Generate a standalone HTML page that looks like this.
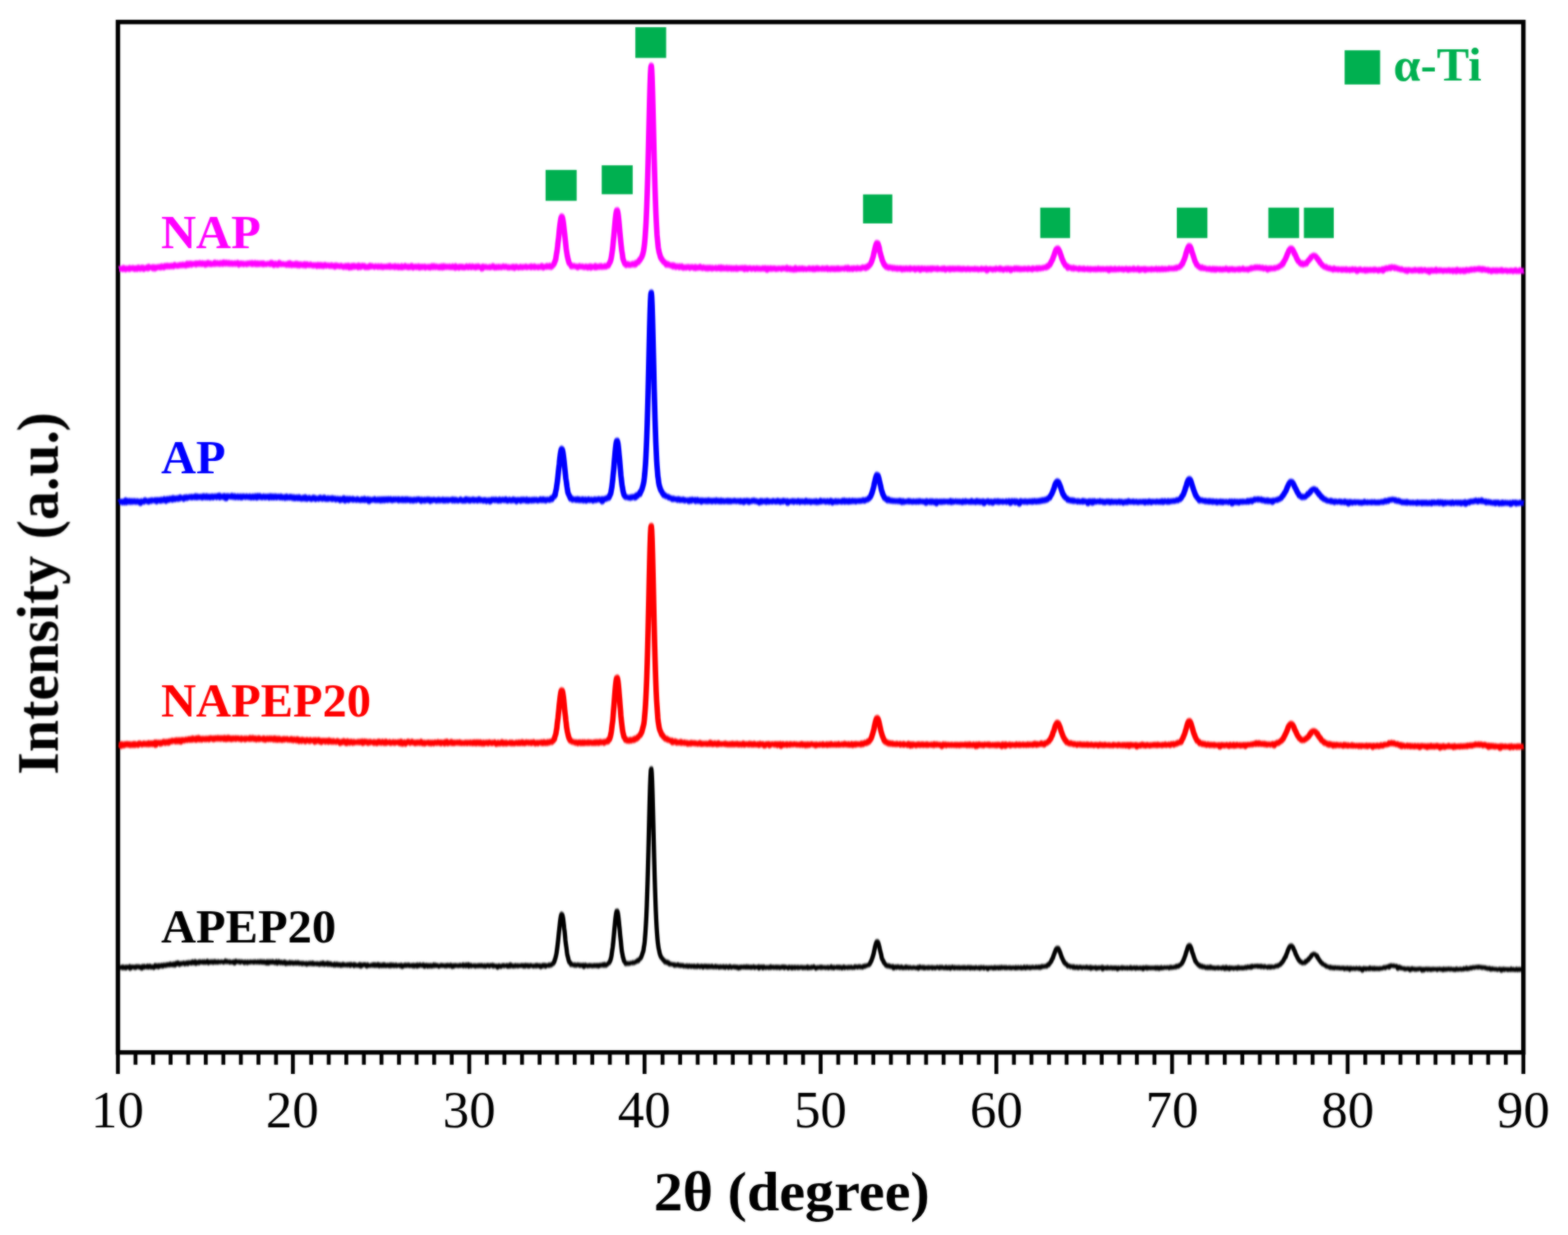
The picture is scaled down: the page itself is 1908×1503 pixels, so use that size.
<!DOCTYPE html>
<html lang="en"><head><meta charset="utf-8"><title>XRD patterns</title>
<style>html,body{margin:0;padding:0;background:#fff;overflow:hidden}svg{display:block;font-family:"Liberation Serif","DejaVu Serif",serif}.b{font-weight:bold}</style></head><body>
<svg width="1908" height="1503" viewBox="0 0 1908 1503">
<defs><filter id="soft" x="0" y="0" width="1908" height="1503" filterUnits="userSpaceOnUse" color-interpolation-filters="sRGB"><feGaussianBlur stdDeviation="0.8" result="b"/><feComposite in="b" in2="SourceGraphic" operator="arithmetic" k1="0" k2="0.6" k3="0.4" k4="0"/></filter><filter id="vb" x="0" y="0" width="1908" height="1503" filterUnits="userSpaceOnUse" color-interpolation-filters="sRGB"><feGaussianBlur stdDeviation="0 0.9"/></filter></defs>
<rect x="0" y="0" width="1908" height="1503" fill="#ffffff"/>
<g filter="url(#soft)">
<rect x="143.5" y="26.8" width="1710.2" height="1254.0" fill="none" stroke="#000" stroke-width="5.4"/>
<g filter="url(#vb)" fill="none" stroke-width="6.7" stroke-linejoin="round">
<path d="M145.0 327.4L145.5 327.4L146 327.0L146.5 327.2L147 327.2L147.5 327.2L148 327.1L148.5 327.1L149 327.3L149.5 327.7L150 325.8L150.5 326.7L151 326.9L151.5 327.1L152 326.6L152.5 327.0L153 327.9L153.5 327.1L154 326.7L154.5 326.7L155 327.3L155.5 327.2L156 327.4L156.5 326.6L157 326.6L157.5 327.5L158 325.9L158.5 326.8L159 326.5L159.5 326.9L160 326.5L160.5 326.3L161 326.8L161.5 326.0L162 326.8L162.5 326.7L163 326.2L163.5 326.3L164 327.6L164.5 326.5L165 326.7L165.5 327.2L166 326.2L166.5 326.7L167 327.5L167.5 326.6L168 326.5L168.5 325.5L169 326.3L169.5 326.6L170 326.7L170.5 327.1L171 326.1L171.5 327.0L172 326.3L172.5 326.4L173 325.5L173.5 325.8L174 326.5L174.5 325.9L175 327.5L175.5 326.3L176 326.8L176.5 326.7L177 326.5L177.5 326.7L178 326.0L178.5 325.5L179 326.6L179.5 326.1L180 326.9L180.5 326.7L181 324.4L181.5 325.2L182 325.8L182.5 325.5L183 325.4L183.5 325.6L184 325.3L184.5 325.6L185 325.2L185.5 325.4L186 325.1L186.5 326.9L187 325.8L187.5 325.1L188 326.6L188.5 327.0L189 326.1L189.5 325.2L190 326.2L190.5 325.2L191 325.1L191.5 325.6L192 325.4L192.5 325.5L193 324.8L193.5 325.2L194 325.5L194.5 325.2L195 325.2L195.5 324.6L196 325.7L196.5 323.9L197 324.7L197.5 324.3L198 324.8L198.5 324.5L199 324.9L199.5 325.5L200 324.3L200.5 324.9L201 323.4L201.5 323.6L202 323.5L202.5 324.2L203 324.5L203.5 323.2L204 324.2L204.5 323.5L205 324.3L205.5 324.1L206 324.4L206.5 323.5L207 323.8L207.5 323.6L208 324.3L208.5 324.3L209 323.3L209.5 323.6L210 323.4L210.5 323.1L211 324.4L211.5 323.0L212 322.9L212.5 322.4L213 323.5L213.5 323.0L214 322.9L214.5 323.2L215 323.2L215.5 322.9L216 323.6L216.5 322.8L217 322.8L217.5 323.5L218 323.2L218.5 323.0L219 322.3L219.5 322.1L220 322.5L220.5 323.1L221 323.0L221.5 322.3L222 321.9L222.5 322.0L223 323.0L223.5 322.7L224 322.1L224.5 322.0L225 322.5L225.5 322.0L226 323.3L226.5 322.7L227 323.0L227.5 321.9L228 320.8L228.5 321.8L229 322.6L229.5 322.7L230 322.1L230.5 320.6L231 321.5L231.5 321.3L232 321.4L232.5 320.7L233 322.4L233.5 321.2L234 321.7L234.5 320.9L235 321.3L235.5 321.4L236 321.0L236.5 321.1L237 321.4L237.5 321.4L238 320.5L238.5 322.1L239 320.3L239.5 321.0L240 321.0L240.5 320.6L241 321.1L241.5 321.5L242 321.4L242.5 320.2L243 319.9L243.5 320.9L244 321.3L244.5 320.7L245 320.4L245.5 321.5L246 321.6L246.5 320.1L247 321.1L247.5 321.3L248 320.9L248.5 320.7L249 320.5L249.5 321.4L250 322.3L250.5 321.3L251 320.8L251.5 322.0L252 321.0L252.5 319.9L253 319.7L253.5 321.2L254 321.0L254.5 320.3L255 321.6L255.5 321.6L256 320.4L256.5 320.5L257 320.5L257.5 321.7L258 321.5L258.5 320.9L259 320.9L259.5 321.2L260 320.4L260.5 320.5L261 321.3L261.5 319.4L262 321.3L262.5 320.0L263 320.7L263.5 321.0L264 320.7L264.5 320.1L265 321.0L265.5 320.7L266 320.5L266.5 321.3L267 321.3L267.5 320.7L268 320.0L268.5 321.2L269 320.4L269.5 320.2L270 319.8L270.5 320.1L271 321.3L271.5 320.7L272 320.7L272.5 319.2L273 320.3L273.5 320.5L274 320.2L274.5 321.0L275 320.6L275.5 319.6L276 320.7L276.5 320.0L277 320.1L277.5 321.1L278 320.9L278.5 319.8L279 320.4L279.5 320.4L280 321.2L280.5 320.3L281 320.7L281.5 320.8L282 320.3L282.5 321.5L283 321.5L283.5 320.5L284 320.5L284.5 320.6L285 320.8L285.5 321.0L286 320.4L286.5 321.2L287 320.3L287.5 320.1L288 320.5L288.5 320.6L289 321.1L289.5 319.8L290 321.6L290.5 322.2L291 320.5L291.5 320.5L292 320.9L292.5 320.5L293 321.4L293.5 320.7L294 320.5L294.5 320.6L295 321.4L295.5 321.5L296 320.9L296.5 321.7L297 321.3L297.5 321.2L298 320.9L298.5 321.0L299 320.9L299.5 321.0L300 321.6L300.5 320.7L301 321.5L301.5 321.4L302 320.4L302.5 320.9L303 321.1L303.5 320.4L304 320.8L304.5 320.4L305 321.1L305.5 320.9L306 320.7L306.5 321.4L307 320.0L307.5 321.5L308 321.0L308.5 320.9L309 321.4L309.5 321.1L310 320.9L310.5 320.0L311 321.3L311.5 321.0L312 321.7L312.5 321.1L313 321.4L313.5 320.3L314 321.7L314.5 320.8L315 321.6L315.5 320.7L316 320.4L316.5 320.7L317 320.7L317.5 321.1L318 320.5L318.5 320.3L319 321.0L319.5 320.6L320 321.8L320.5 320.5L321 321.8L321.5 321.5L322 321.1L322.5 321.0L323 321.3L323.5 321.4L324 321.6L324.5 321.1L325 321.1L325.5 321.1L326 320.9L326.5 321.2L327 321.3L327.5 320.7L328 320.6L328.5 320.8L329 321.6L329.5 320.8L330 319.6L330.5 321.5L331 320.8L331.5 320.4L332 321.0L332.5 321.3L333 321.4L333.5 322.7L334 320.8L334.5 320.7L335 320.7L335.5 321.9L336 321.8L336.5 322.1L337 322.4L337.5 321.8L338 322.4L338.5 320.6L339 322.0L339.5 320.8L340 319.8L340.5 320.5L341 321.3L341.5 320.8L342 320.9L342.5 321.7L343 321.5L343.5 321.6L344 321.7L344.5 321.2L345 321.6L345.5 321.5L346 321.8L346.5 321.7L347 321.7L347.5 321.6L348 322.2L348.5 322.5L349 321.5L349.5 321.2L350 322.3L350.5 320.9L351 320.5L351.5 321.4L352 322.4L352.5 320.1L353 321.7L353.5 320.9L354 320.9L354.5 322.4L355 322.8L355.5 322.1L356 321.2L356.5 322.7L357 322.6L357.5 321.4L358 321.4L358.5 321.7L359 322.5L359.5 320.9L360 321.9L360.5 322.5L361 320.8L361.5 321.7L362 323.0L362.5 322.1L363 321.2L363.5 322.9L364 323.2L364.5 321.6L365 321.4L365.5 322.5L366 321.9L366.5 322.4L367 321.7L367.5 322.8L368 322.8L368.5 321.9L369 322.4L369.5 323.0L370 321.7L370.5 322.8L371 321.1L371.5 322.6L372 323.4L372.5 323.3L373 321.3L373.5 322.7L374 322.7L374.5 322.4L375 322.0L375.5 322.4L376 322.8L376.5 322.6L377 322.5L377.5 322.4L378 321.8L378.5 322.8L379 322.6L379.5 322.5L380 322.5L380.5 323.3L381 322.9L381.5 322.5L382 322.9L382.5 323.3L383 323.2L383.5 322.7L384 322.4L384.5 322.7L385 322.7L385.5 322.8L386 324.0L386.5 322.2L387 322.1L387.5 323.2L388 322.8L388.5 323.7L389 323.1L389.5 323.5L390 322.3L390.5 322.8L391 322.8L391.5 323.7L392 322.6L392.5 323.4L393 323.5L393.5 324.0L394 323.5L394.5 323.2L395 323.5L395.5 322.1L396 323.0L396.5 323.4L397 323.7L397.5 323.5L398 323.1L398.5 322.9L399 322.9L399.5 322.9L400 323.1L400.5 323.2L401 323.8L401.5 323.3L402 323.8L402.5 323.5L403 322.9L403.5 322.7L404 323.8L404.5 323.0L405 323.8L405.5 323.9L406 323.6L406.5 324.3L407 323.1L407.5 324.7L408 323.0L408.5 322.9L409 323.0L409.5 324.1L410 323.1L410.5 323.5L411 323.3L411.5 323.3L412 323.9L412.5 324.1L413 323.8L413.5 324.2L414 323.7L414.5 324.0L415 323.3L415.5 323.7L416 323.9L416.5 323.8L417 324.6L417.5 324.9L418 324.2L418.5 324.9L419 324.2L419.5 323.9L420 323.8L420.5 324.2L421 323.6L421.5 325.0L422 324.7L422.5 323.8L423 324.5L423.5 323.8L424 323.2L424.5 324.7L425 325.7L425.5 323.7L426 324.4L426.5 324.4L427 324.1L427.5 325.6L428 324.6L428.5 323.4L429 324.3L429.5 324.9L430 324.5L430.5 323.2L431 323.9L431.5 324.9L432 324.8L432.5 324.5L433 324.5L433.5 323.8L434 324.1L434.5 324.3L435 324.6L435.5 324.9L436 325.5L436.5 323.0L437 324.5L437.5 324.1L438 323.7L438.5 325.4L439 323.8L439.5 324.5L440 324.3L440.5 324.0L441 323.3L441.5 323.9L442 323.6L442.5 324.5L443 324.4L443.5 323.6L444 325.1L444.5 325.4L445 324.8L445.5 324.4L446 324.9L446.5 325.3L447 325.4L447.5 324.3L448 324.4L448.5 325.2L449 324.7L449.5 325.0L450 324.7L450.5 323.3L451 324.1L451.5 323.7L452 324.5L452.5 324.2L453 323.8L453.5 324.2L454 324.4L454.5 324.5L455 324.3L455.5 324.9L456 324.3L456.5 324.0L457 323.9L457.5 324.4L458 324.2L458.5 324.7L459 324.8L459.5 325.0L460 323.9L460.5 323.9L461 324.5L461.5 324.9L462 324.6L462.5 324.7L463 324.7L463.5 323.9L464 324.9L464.5 324.0L465 324.7L465.5 325.1L466 325.3L466.5 324.8L467 324.3L467.5 324.4L468 324.6L468.5 325.0L469 325.0L469.5 324.5L470 324.4L470.5 324.1L471 324.7L471.5 324.3L472 324.8L472.5 324.0L473 324.6L473.5 324.7L474 325.0L474.5 323.5L475 325.0L475.5 324.1L476 324.4L476.5 324.6L477 324.8L477.5 324.2L478 324.1L478.5 324.3L479 324.7L479.5 324.2L480 324.6L480.5 325.3L481 323.7L481.5 324.6L482 324.3L482.5 324.8L483 325.1L483.5 324.8L484 324.9L484.5 324.1L485 325.6L485.5 325.1L486 325.3L486.5 324.5L487 324.4L487.5 324.6L488 325.5L488.5 324.6L489 323.8L489.5 324.9L490 325.5L490.5 324.5L491 324.9L491.5 324.3L492 325.1L492.5 324.1L493 323.6L493.5 324.9L494 324.2L494.5 324.8L495 325.1L495.5 325.2L496 325.3L496.5 324.1L497 325.6L497.5 324.7L498 324.7L498.5 324.7L499 324.4L499.5 325.2L500 324.1L500.5 324.8L501 323.5L501.5 324.8L502 325.0L502.5 325.8L503 324.6L503.5 325.3L504 324.5L504.5 324.3L505 325.0L505.5 324.5L506 324.2L506.5 324.5L507 325.2L507.5 324.7L508 324.8L508.5 324.4L509 324.0L509.5 324.9L510 325.7L510.5 324.7L511 325.7L511.5 324.4L512 324.3L512.5 325.4L513 324.9L513.5 324.7L514 325.2L514.5 324.5L515 325.0L515.5 325.0L516 324.8L516.5 325.2L517 324.2L517.5 325.9L518 324.9L518.5 324.7L519 324.8L519.5 324.8L520 324.9L520.5 324.7L521 324.7L521.5 325.4L522 324.7L522.5 324.6L523 324.5L523.5 325.9L524 325.0L524.5 324.9L525 324.3L525.5 323.9L526 324.8L526.5 325.0L527 325.3L527.5 323.8L528 324.3L528.5 324.7L529 324.1L529.5 324.5L530 325.2L530.5 324.3L531 325.1L531.5 324.3L532 324.8L532.5 324.8L533 324.9L533.5 325.4L534 324.7L534.5 324.3L535 324.6L535.5 325.7L536 324.9L536.5 324.5L537 325.1L537.5 324.0L538 325.9L538.5 325.9L539 324.5L539.5 323.8L540 325.6L540.5 324.7L541 324.3L541.5 324.9L542 324.4L542.5 325.2L543 325.2L543.5 325.0L544 324.4L544.5 324.5L545 325.0L545.5 325.2L546 324.9L546.5 324.9L547 324.4L547.5 324.9L548 325.3L548.5 324.5L549 324.6L549.5 324.7L550 325.3L550.5 324.9L551 324.0L551.5 324.9L552 325.3L552.5 324.9L553 325.4L553.5 325.3L554 326.1L554.5 323.7L555 324.8L555.5 324.6L556 324.6L556.5 325.0L557 324.8L557.5 325.5L558 325.2L558.5 325.9L559 324.5L559.5 324.7L560 324.4L560.5 324.3L561 325.1L561.5 324.8L562 325.5L562.5 325.6L563 324.6L563.5 325.5L564 324.8L564.5 324.8L565 325.8L565.5 325.7L566 324.9L566.5 325.3L567 325.3L567.5 325.0L568 324.1L568.5 325.2L569 325.3L569.5 324.6L570 325.4L570.5 324.2L571 325.1L571.5 325.1L572 324.0L572.5 324.8L573 324.6L573.5 325.4L574 324.9L574.5 325.0L575 324.1L575.5 324.6L576 324.4L576.5 325.2L577 324.7L577.5 324.8L578 325.2L578.5 324.7L579 325.8L579.5 324.3L580 325.3L580.5 325.1L581 325.0L581.5 324.7L582 324.1L582.5 325.0L583 324.5L583.5 324.5L584 325.1L584.5 325.0L585 325.3L585.5 325.0L586 324.8L586.5 327.1L587 325.0L587.5 325.0L588 324.4L588.5 325.7L589 324.8L589.5 325.5L590 325.5L590.5 324.7L591 324.6L591.5 324.8L592 324.9L592.5 325.1L593 325.3L593.5 325.3L594 325.5L594.5 325.2L595 325.2L595.5 324.9L596 324.7L596.5 325.6L597 325.1L597.5 325.0L598 325.2L598.5 325.1L599 325.2L599.5 325.2L600 323.7L600.5 324.4L601 324.6L601.5 324.8L602 325.7L602.5 325.0L603 324.9L603.5 325.4L604 324.9L604.5 325.6L605 325.0L605.5 325.0L606 325.2L606.5 325.5L607 324.5L607.5 324.8L608 324.8L608.5 325.4L609 325.4L609.5 324.8L610 325.4L610.5 325.0L611 325.1L611.5 325.0L612 324.8L612.5 324.1L613 325.0L613.5 325.1L614 325.1L614.5 324.8L615 325.0L615.5 324.3L616 324.9L616.5 324.8L617 324.9L617.5 325.3L618 325.7L618.5 324.9L619 325.0L619.5 325.1L620 325.7L620.5 325.3L621 325.3L621.5 325.1L622 325.0L622.5 325.3L623 324.9L623.5 325.6L624 324.8L624.5 325.0L625 324.4L625.5 324.7L626 326.4L626.5 325.1L627 324.7L627.5 324.5L628 325.3L628.5 324.6L629 325.1L629.5 324.9L630 325.3L630.5 325.2L631 325.6L631.5 325.0L632 325.1L632.5 324.8L633 325.2L633.5 324.5L634 325.4L634.5 324.9L635 325.2L635.5 324.9L636 325.5L636.5 324.9L637 324.6L637.5 324.9L638 324.8L638.5 325.1L639 324.8L639.5 324.9L640 324.2L640.5 325.3L641 325.3L641.5 325.1L642 325.0L642.5 325.1L643 325.0L643.5 324.7L644 325.0L644.5 324.8L645 324.5L645.5 325.2L646 325.5L646.5 324.0L647 324.9L647.5 324.6L648 324.6L648.5 325.0L649 325.0L649.5 325.3L650 325.2L650.5 324.0L651 325.3L651.5 324.8L652 324.7L652.5 324.6L653 324.9L653.5 325.2L654 324.8L654.5 324.7L655 325.5L655.5 324.7L656 324.9L656.5 325.0L657 324.8L657.5 324.5L658 325.2L658.5 325.1L659 324.7L659.5 323.5L660 324.3L660.5 325.0L661 325.8L661.5 324.5L662 324.9L662.5 324.6L663 324.4L663.5 324.5L664 324.8L664.5 323.9L665 324.4L665.5 324.7L666 323.5L666.5 324.5L667 324.1L667.5 324.2L668 324.6L668.5 323.9L669 323.2L669.5 323.9L670 324.0L670.5 325.1L671 323.9L671.5 324.2L672 323.5L672.5 323.1L673 322.9L673.5 321.8L674 321.3L674.5 320.4L675 318.5L675.5 317.6L676 316.7L676.5 313.4L677 310.1L677.5 307.1L678 303.9L678.5 299.9L679 294.9L679.5 291.5L680 286.9L680.5 281.4L681 276.7L681.5 272.5L682 269.0L682.5 266.0L683 264.2L683.5 263.3L684 263.7L684.5 265.2L685 267.8L685.5 271.1L686 275.2L686.5 279.9L687 284.0L687.5 288.7L688 293.3L688.5 298.2L689 302.9L689.5 306.3L690 309.5L690.5 312.3L691 314.5L691.5 316.5L692 318.3L692.5 320.0L693 321.0L693.5 321.3L694 321.8L694.5 322.3L695 322.5L695.5 324.4L696 323.5L696.5 324.0L697 323.6L697.5 323.8L698 324.1L698.5 323.5L699 323.8L699.5 324.0L700 324.5L700.5 324.5L701 324.6L701.5 324.1L702 324.1L702.5 324.4L703 325.4L703.5 324.6L704 325.0L704.5 324.3L705 323.9L705.5 324.5L706 324.6L706.5 324.7L707 324.5L707.5 324.2L708 324.2L708.5 324.4L709 324.2L709.5 325.0L710 324.6L710.5 324.5L711 325.3L711.5 324.9L712 324.9L712.5 325.0L713 324.4L713.5 325.3L714 325.2L714.5 325.2L715 325.5L715.5 325.8L716 324.4L716.5 324.9L717 324.8L717.5 324.7L718 324.1L718.5 325.2L719 325.9L719.5 324.1L720 325.2L720.5 324.6L721 324.8L721.5 325.1L722 324.6L722.5 324.7L723 324.8L723.5 324.7L724 324.3L724.5 323.4L725 325.7L725.5 324.3L726 324.8L726.5 324.5L727 325.1L727.5 324.2L728 324.9L728.5 324.8L729 324.2L729.5 325.0L730 324.0L730.5 324.7L731 323.7L731.5 323.7L732 324.2L732.5 324.9L733 324.2L733.5 324.8L734 324.8L734.5 324.6L735 324.3L735.5 324.0L736 324.6L736.5 323.5L737 323.6L737.5 324.5L738 324.1L738.5 323.5L739 323.7L739.5 322.9L740 323.4L740.5 322.4L741 321.2L741.5 320.1L742 319.9L742.5 318.8L743 316.9L743.5 315.5L744 312.7L744.5 309.3L745 305.9L745.5 302.3L746 296.9L746.5 291.5L747 286.7L747.5 281.0L748 275.0L748.5 269.5L749 264.6L749.5 260.6L750 257.7L750.5 255.8L751 255.7L751.5 257.0L752 259.7L752.5 263.5L753 268.2L753.5 273.6L754 279.5L754.5 285.1L755 290.4L755.5 295.6L756 300.1L756.5 304.5L757 307.5L757.5 310.8L758 315.1L758.5 316.1L759 317.8L759.5 318.9L760 319.9L760.5 321.4L761 321.6L761.5 321.2L762 322.7L762.5 322.1L763 322.2L763.5 320.9L764 322.4L764.5 322.2L765 322.6L765.5 322.3L766 322.6L766.5 321.8L767 322.3L767.5 322.5L768 322.0L768.5 322.0L769 321.9L769.5 322.1L770 320.9L770.5 321.0L771 321.2L771.5 321.0L772 321.0L772.5 320.9L773 322.2L773.5 320.1L774 319.6L774.5 319.8L775 319.5L775.5 319.3L776 319.7L776.5 319.3L777 317.9L777.5 317.7L778 317.5L778.5 315.7L779 316.1L779.5 315.1L780 314.0L780.5 313.5L781 312.7L781.5 310.8L782 310.1L782.5 307.7L783 305.9L783.5 302.9L784 299.3L784.5 294.6L785 288.9L785.5 281.0L786 273.8L786.5 262.9L787 250.8L787.5 236.5L788 220.7L788.5 202.4L789 182.9L789.5 161.9L790 141.8L790.5 121.6L791 103.9L791.5 90.1L792 81.7L792.5 79.7L793 84.2L793.5 95.2L794 110.9L794.5 129.5L795 150.2L795.5 170.9L796 192.1L796.5 209.7L797 227.8L797.5 242.7L798 256.7L798.5 267.7L799 277.2L799.5 286.0L800 291.2L800.5 296.4L801 301.3L801.5 303.8L802 307.0L802.5 308.3L803 310.2L803.5 312.0L804 313.9L804.5 314.6L805 314.4L805.5 316.3L806 316.4L806.5 317.2L807 317.7L807.5 318.7L808 318.5L808.5 319.1L809 320.1L809.5 320.4L810 320.2L810.5 321.4L811 322.3L811.5 320.8L812 321.6L812.5 321.9L813 321.3L813.5 321.8L814 322.6L814.5 322.5L815 322.4L815.5 322.6L816 323.2L816.5 322.8L817 322.7L817.5 323.4L818 323.3L818.5 323.0L819 324.5L819.5 324.0L820 322.8L820.5 323.2L821 324.3L821.5 324.5L822 324.3L822.5 325.1L823 324.7L823.5 323.9L824 324.5L824.5 324.2L825 324.4L825.5 324.4L826 325.1L826.5 325.4L827 323.9L827.5 325.1L828 325.2L828.5 325.1L829 324.4L829.5 324.0L830 324.8L830.5 325.6L831 324.8L831.5 326.1L832 324.9L832.5 325.2L833 325.1L833.5 325.8L834 325.0L834.5 325.0L835 325.8L835.5 324.9L836 325.3L836.5 325.0L837 325.1L837.5 324.7L838 324.8L838.5 325.6L839 325.4L839.5 326.2L840 325.6L840.5 325.0L841 325.4L841.5 325.6L842 325.0L842.5 325.5L843 325.0L843.5 325.3L844 325.6L844.5 326.3L845 326.1L845.5 325.5L846 324.8L846.5 326.5L847 325.5L847.5 325.3L848 326.1L848.5 325.7L849 326.0L849.5 325.2L850 325.8L850.5 325.7L851 325.5L851.5 325.2L852 324.6L852.5 326.0L853 326.0L853.5 326.2L854 326.0L854.5 325.7L855 326.5L855.5 325.9L856 325.2L856.5 325.6L857 326.2L857.5 325.6L858 325.8L858.5 325.7L859 326.8L859.5 325.9L860 326.7L860.5 326.5L861 326.9L861.5 325.7L862 326.8L862.5 326.8L863 326.2L863.5 325.6L864 325.7L864.5 326.6L865 326.0L865.5 325.9L866 326.4L866.5 327.0L867 325.9L867.5 326.0L868 326.6L868.5 326.6L869 326.3L869.5 326.3L870 326.3L870.5 326.5L871 325.8L871.5 326.9L872 326.7L872.5 326.8L873 326.2L873.5 326.5L874 325.9L874.5 325.6L875 326.5L875.5 326.6L876 326.3L876.5 325.8L877 327.1L877.5 325.2L878 327.0L878.5 326.1L879 326.5L879.5 326.3L880 325.8L880.5 326.9L881 326.7L881.5 326.2L882 326.1L882.5 326.8L883 326.4L883.5 326.1L884 326.6L884.5 325.7L885 327.0L885.5 326.7L886 326.7L886.5 327.0L887 326.7L887.5 326.1L888 326.7L888.5 326.9L889 326.9L889.5 326.3L890 327.2L890.5 326.1L891 326.3L891.5 326.9L892 326.5L892.5 327.1L893 326.3L893.5 326.8L894 326.9L894.5 326.3L895 326.3L895.5 327.2L896 326.1L896.5 326.9L897 326.3L897.5 327.3L898 326.9L898.5 326.5L899 326.4L899.5 326.6L900 326.6L900.5 326.6L901 326.0L901.5 326.1L902 326.3L902.5 326.7L903 326.8L903.5 326.1L904 326.7L904.5 326.8L905 326.4L905.5 326.1L906 327.8L906.5 325.8L907 326.4L907.5 326.6L908 326.7L908.5 326.2L909 326.7L909.5 327.6L910 327.1L910.5 326.9L911 326.7L911.5 326.3L912 326.2L912.5 326.2L913 326.6L913.5 326.8L914 326.7L914.5 327.3L915 327.1L915.5 326.7L916 326.6L916.5 326.5L917 326.4L917.5 326.3L918 326.9L918.5 326.7L919 327.4L919.5 326.6L920 326.4L920.5 327.0L921 326.3L921.5 326.9L922 326.9L922.5 327.2L923 326.7L923.5 327.0L924 326.5L924.5 326.5L925 326.9L925.5 327.3L926 326.9L926.5 327.1L927 326.5L927.5 326.5L928 326.3L928.5 327.2L929 327.1L929.5 326.7L930 327.1L930.5 326.4L931 327.1L931.5 326.4L932 326.9L932.5 326.9L933 327.1L933.5 328.5L934 326.3L934.5 326.4L935 326.5L935.5 327.0L936 327.0L936.5 327.2L937 327.4L937.5 327.1L938 326.3L938.5 326.6L939 327.3L939.5 327.0L940 326.7L940.5 326.5L941 327.1L941.5 327.1L942 327.1L942.5 326.6L943 327.0L943.5 327.3L944 327.6L944.5 327.5L945 326.9L945.5 326.8L946 327.3L946.5 327.3L947 326.9L947.5 326.7L948 326.7L948.5 326.7L949 327.0L949.5 327.0L950 326.8L950.5 326.6L951 327.4L951.5 326.8L952 326.9L952.5 326.4L953 326.7L953.5 326.9L954 326.5L954.5 326.7L955 326.7L955.5 326.9L956 326.7L956.5 327.2L957 326.3L957.5 325.8L958 327.7L958.5 326.9L959 326.6L959.5 327.0L960 326.6L960.5 327.0L961 326.8L961.5 327.7L962 326.7L962.5 327.1L963 327.2L963.5 327.1L964 328.1L964.5 327.2L965 327.0L965.5 327.1L966 328.3L966.5 326.7L967 326.6L967.5 326.9L968 326.1L968.5 328.2L969 327.5L969.5 326.9L970 327.7L970.5 327.2L971 327.1L971.5 327.2L972 326.8L972.5 326.6L973 327.5L973.5 326.7L974 327.2L974.5 326.9L975 326.7L975.5 327.5L976 327.2L976.5 326.5L977 327.2L977.5 326.9L978 327.6L978.5 327.0L979 326.8L979.5 327.0L980 327.3L980.5 327.4L981 327.6L981.5 327.7L982 327.3L982.5 327.0L983 327.1L983.5 327.2L984 327.3L984.5 326.6L985 327.1L985.5 326.7L986 327.3L986.5 326.9L987 326.8L987.5 327.0L988 327.1L988.5 327.0L989 327.8L989.5 326.4L990 327.1L990.5 327.0L991 326.9L991.5 327.8L992 326.9L992.5 327.4L993 326.4L993.5 327.2L994 326.8L994.5 326.2L995 327.3L995.5 326.8L996 327.3L996.5 326.7L997 327.2L997.5 327.2L998 327.1L998.5 327.2L999 327.1L999.5 327.1L1000 327.3L1000.5 327.1L1001 326.5L1001.5 327.2L1002 327.3L1002.5 327.3L1003 326.9L1003.5 327.3L1004 327.3L1004.5 326.7L1005 327.1L1005.5 327.0L1006 326.9L1006.5 326.4L1007 327.2L1007.5 327.8L1008 327.1L1008.5 327.2L1009 326.9L1009.5 327.2L1010 327.2L1010.5 327.7L1011 326.9L1011.5 326.7L1012 327.1L1012.5 327.2L1013 327.5L1013.5 326.8L1014 327.5L1014.5 327.2L1015 326.8L1015.5 327.3L1016 327.7L1016.5 327.3L1017 326.9L1017.5 327.2L1018 326.8L1018.5 327.5L1019 326.9L1019.5 326.5L1020 327.5L1020.5 327.2L1021 327.5L1021.5 326.8L1022 327.0L1022.5 327.4L1023 327.4L1023.5 326.9L1024 326.8L1024.5 326.9L1025 326.8L1025.5 327.0L1026 326.7L1026.5 326.9L1027 326.8L1027.5 327.2L1028 326.7L1028.5 326.8L1029 326.0L1029.5 326.9L1030 327.0L1030.5 326.9L1031 326.6L1031.5 327.4L1032 325.8L1032.5 327.1L1033 327.4L1033.5 327.0L1034 327.5L1034.5 326.6L1035 326.8L1035.5 327.0L1036 326.7L1036.5 326.4L1037 326.8L1037.5 327.6L1038 326.8L1038.5 327.0L1039 326.2L1039.5 326.5L1040 326.8L1040.5 326.7L1041 326.5L1041.5 326.5L1042 327.1L1042.5 326.6L1043 326.9L1043.5 326.1L1044 326.8L1044.5 326.5L1045 326.4L1045.5 326.6L1046 326.8L1046.5 326.7L1047 327.0L1047.5 326.0L1048 326.0L1048.5 326.4L1049 325.9L1049.5 326.1L1050 325.2L1050.5 325.9L1051 325.8L1051.5 326.0L1052 325.5L1052.5 325.2L1053 325.7L1053.5 326.5L1054 325.8L1054.5 324.7L1055 324.8L1055.5 325.4L1056 323.9L1056.5 324.3L1057 324.1L1057.5 322.7L1058 322.8L1058.5 322.4L1059 321.4L1059.5 320.7L1060 319.8L1060.5 318.6L1061 317.2L1061.5 315.4L1062 313.9L1062.5 312.3L1063 309.9L1063.5 307.5L1064 305.7L1064.5 303.4L1065 301.4L1065.5 299.4L1066 297.6L1066.5 296.6L1067 295.6L1067.5 295.5L1068 295.9L1068.5 297.0L1069 298.8L1069.5 300.1L1070 301.9L1070.5 306.7L1071 307.2L1071.5 308.9L1072 312.1L1072.5 312.3L1073 314.5L1073.5 316.6L1074 317.5L1074.5 319.0L1075 319.6L1075.5 321.5L1076 321.8L1076.5 323.0L1077 322.5L1077.5 323.5L1078 324.4L1078.5 325.0L1079 324.7L1079.5 324.8L1080 324.8L1080.5 325.7L1081 325.1L1081.5 326.1L1082 325.6L1082.5 325.4L1083 325.2L1083.5 325.6L1084 326.0L1084.5 325.6L1085 325.8L1085.5 325.6L1086 326.6L1086.5 326.8L1087 326.1L1087.5 326.4L1088 326.0L1088.5 326.8L1089 326.2L1089.5 326.1L1090 326.9L1090.5 327.0L1091 326.5L1091.5 327.3L1092 326.3L1092.5 327.0L1093 326.7L1093.5 326.9L1094 327.1L1094.5 326.5L1095 326.4L1095.5 326.4L1096 326.4L1096.5 326.5L1097 327.0L1097.5 326.9L1098 328.1L1098.5 327.4L1099 326.7L1099.5 326.7L1100 326.7L1100.5 327.1L1101 327.7L1101.5 327.0L1102 327.0L1102.5 326.5L1103 326.9L1103.5 326.8L1104 326.7L1104.5 327.6L1105 326.8L1105.5 326.7L1106 327.0L1106.5 327.0L1107 327.1L1107.5 327.6L1108 326.3L1108.5 327.1L1109 327.0L1109.5 326.9L1110 326.8L1110.5 326.9L1111 327.3L1111.5 327.5L1112 327.4L1112.5 327.3L1113 326.4L1113.5 326.9L1114 328.2L1114.5 327.1L1115 327.2L1115.5 326.8L1116 327.5L1116.5 327.1L1117 326.9L1117.5 327.3L1118 326.4L1118.5 327.0L1119 327.1L1119.5 327.1L1120 328.5L1120.5 326.8L1121 327.3L1121.5 327.3L1122 326.6L1122.5 327.4L1123 326.9L1123.5 326.9L1124 327.5L1124.5 327.1L1125 327.2L1125.5 326.6L1126 326.9L1126.5 327.8L1127 327.6L1127.5 328.2L1128 327.1L1128.5 327.9L1129 328.1L1129.5 326.7L1130 327.0L1130.5 327.1L1131 327.5L1131.5 327.1L1132 327.3L1132.5 326.6L1133 328.0L1133.5 326.7L1134 327.3L1134.5 327.5L1135 326.4L1135.5 326.8L1136 326.7L1136.5 327.1L1137 327.1L1137.5 326.8L1138 327.3L1138.5 327.3L1139 327.4L1139.5 327.3L1140 327.3L1140.5 327.7L1141 326.6L1141.5 327.5L1142 327.0L1142.5 327.3L1143 327.5L1143.5 327.5L1144 327.3L1144.5 327.2L1145 327.1L1145.5 327.2L1146 327.6L1146.5 327.6L1147 326.6L1147.5 326.8L1148 327.5L1148.5 327.1L1149 326.6L1149.5 327.7L1150 327.9L1150.5 328.3L1151 327.3L1151.5 327.2L1152 327.5L1152.5 327.3L1153 327.0L1153.5 327.3L1154 327.4L1154.5 327.0L1155 327.5L1155.5 327.3L1156 328.1L1156.5 326.7L1157 327.1L1157.5 327.7L1158 327.4L1158.5 327.0L1159 327.5L1159.5 326.9L1160 327.3L1160.5 327.7L1161 327.8L1161.5 327.0L1162 326.9L1162.5 327.5L1163 327.0L1163.5 327.2L1164 327.3L1164.5 327.5L1165 326.8L1165.5 327.5L1166 327.5L1166.5 326.9L1167 327.6L1167.5 327.7L1168 326.9L1168.5 327.0L1169 327.4L1169.5 327.8L1170 327.1L1170.5 327.3L1171 327.9L1171.5 327.9L1172 327.0L1172.5 327.4L1173 327.2L1173.5 327.4L1174 327.1L1174.5 327.3L1175 327.8L1175.5 327.5L1176 327.3L1176.5 327.8L1177 327.7L1177.5 326.9L1178 327.5L1178.5 327.2L1179 327.5L1179.5 327.2L1180 328.0L1180.5 327.9L1181 327.5L1181.5 327.5L1182 327.4L1182.5 327.5L1183 327.3L1183.5 327.3L1184 327.6L1184.5 327.7L1185 327.3L1185.5 327.2L1186 327.6L1186.5 327.0L1187 327.3L1187.5 327.5L1188 327.6L1188.5 327.5L1189 327.1L1189.5 327.4L1190 327.4L1190.5 328.1L1191 327.8L1191.5 327.7L1192 327.8L1192.5 327.7L1193 327.6L1193.5 327.5L1194 327.0L1194.5 327.7L1195 327.0L1195.5 327.3L1196 327.3L1196.5 327.3L1197 327.2L1197.5 327.6L1198 327.7L1198.5 327.2L1199 327.0L1199.5 327.6L1200 326.8L1200.5 327.5L1201 329.3L1201.5 328.2L1202 327.4L1202.5 327.7L1203 327.4L1203.5 327.4L1204 327.5L1204.5 327.2L1205 327.1L1205.5 327.5L1206 327.7L1206.5 327.8L1207 327.6L1207.5 327.6L1208 328.2L1208.5 327.6L1209 327.5L1209.5 327.4L1210 327.5L1210.5 327.8L1211 328.0L1211.5 327.3L1212 326.8L1212.5 327.4L1213 327.3L1213.5 327.5L1214 327.5L1214.5 327.1L1215 327.4L1215.5 326.9L1216 327.2L1216.5 327.7L1217 326.5L1217.5 327.6L1218 326.7L1218.5 327.7L1219 327.2L1219.5 327.5L1220 327.9L1220.5 327.7L1221 328.5L1221.5 327.4L1222 327.8L1222.5 327.6L1223 327.5L1223.5 327.6L1224 327.0L1224.5 327.8L1225 327.3L1225.5 328.0L1226 327.1L1226.5 326.8L1227 327.4L1227.5 327.4L1228 327.7L1228.5 327.8L1229 327.7L1229.5 327.0L1230 329.0L1230.5 327.9L1231 327.6L1231.5 327.2L1232 327.5L1232.5 327.5L1233 327.4L1233.5 327.5L1234 327.3L1234.5 327.7L1235 326.6L1235.5 327.0L1236 327.2L1236.5 327.4L1237 326.6L1237.5 327.3L1238 327.6L1238.5 327.0L1239 327.2L1239.5 326.8L1240 327.4L1240.5 327.9L1241 327.7L1241.5 327.2L1242 327.0L1242.5 327.8L1243 327.5L1243.5 327.7L1244 327.5L1244.5 327.1L1245 327.2L1245.5 327.6L1246 327.1L1246.5 327.5L1247 326.9L1247.5 326.9L1248 327.0L1248.5 327.5L1249 327.4L1249.5 327.3L1250 327.1L1250.5 327.6L1251 326.9L1251.5 327.3L1252 326.8L1252.5 327.3L1253 327.1L1253.5 327.3L1254 327.3L1254.5 327.6L1255 327.1L1255.5 327.3L1256 327.9L1256.5 327.1L1257 326.5L1257.5 327.1L1258 327.0L1258.5 327.2L1259 326.9L1259.5 327.2L1260 326.8L1260.5 327.0L1261 326.7L1261.5 327.1L1262 326.4L1262.5 326.8L1263 327.2L1263.5 326.7L1264 326.2L1264.5 326.8L1265 326.9L1265.5 326.3L1266 326.8L1266.5 326.4L1267 326.3L1267.5 326.5L1268 326.2L1268.5 325.9L1269 326.3L1269.5 326.1L1270 325.7L1270.5 325.6L1271 325.7L1271.5 325.2L1272 325.1L1272.5 325.7L1273 325.3L1273.5 325.0L1274 324.4L1274.5 325.1L1275 323.5L1275.5 324.1L1276 323.3L1276.5 322.6L1277 322.0L1277.5 322.2L1278 320.7L1278.5 320.3L1279 318.6L1279.5 318.3L1280 316.9L1280.5 316.3L1281 315.4L1281.5 313.3L1282 312.2L1282.5 311.1L1283 309.3L1283.5 307.9L1284 306.5L1284.5 305.2L1285 303.9L1285.5 303.1L1286 302.7L1286.5 302.3L1287 302.2L1287.5 302.6L1288 303.3L1288.5 304.3L1289 305.5L1289.5 306.1L1290 308.2L1290.5 309.4L1291 310.8L1291.5 312.0L1292 314.6L1292.5 315.0L1293 316.3L1293.5 317.2L1294 319.1L1294.5 319.6L1295 320.5L1295.5 321.1L1296 322.2L1296.5 323.2L1297 322.9L1297.5 323.2L1298 323.7L1298.5 324.2L1299 323.9L1299.5 326.3L1300 326.1L1300.5 325.1L1301 325.7L1301.5 325.9L1302 325.5L1302.5 325.6L1303 326.1L1303.5 326.0L1304 326.1L1304.5 326.8L1305 326.5L1305.5 326.2L1306 325.8L1306.5 327.1L1307 326.6L1307.5 326.5L1308 326.4L1308.5 326.6L1309 326.4L1309.5 326.8L1310 326.8L1310.5 326.8L1311 327.0L1311.5 327.1L1312 327.3L1312.5 326.9L1313 327.6L1313.5 326.6L1314 327.2L1314.5 327.2L1315 326.9L1315.5 327.4L1316 327.3L1316.5 327.2L1317 327.5L1317.5 327.0L1318 327.6L1318.5 327.4L1319 326.9L1319.5 327.8L1320 327.6L1320.5 327.3L1321 327.3L1321.5 327.3L1322 327.4L1322.5 327.7L1323 327.6L1323.5 327.1L1324 327.6L1324.5 327.9L1325 327.5L1325.5 327.4L1326 327.8L1326.5 327.2L1327 328.1L1327.5 327.2L1328 327.6L1328.5 327.3L1329 327.3L1329.5 327.6L1330 327.5L1330.5 327.7L1331 327.4L1331.5 328.0L1332 327.9L1332.5 327.3L1333 327.1L1333.5 327.9L1334 327.6L1334.5 327.8L1335 327.5L1335.5 327.9L1336 327.6L1336.5 326.8L1337 327.7L1337.5 327.6L1338 327.6L1338.5 327.9L1339 327.8L1339.5 327.2L1340 327.9L1340.5 327.8L1341 327.6L1341.5 327.3L1342 327.1L1342.5 327.8L1343 327.6L1343.5 327.5L1344 327.6L1344.5 327.6L1345 327.4L1345.5 327.6L1346 327.8L1346.5 327.8L1347 327.2L1347.5 327.5L1348 327.2L1348.5 327.7L1349 327.6L1349.5 329.1L1350 327.7L1350.5 327.2L1351 327.5L1351.5 327.8L1352 326.9L1352.5 328.1L1353 327.5L1353.5 327.8L1354 327.5L1354.5 327.6L1355 328.1L1355.5 328.0L1356 327.7L1356.5 326.9L1357 328.0L1357.5 327.2L1358 328.1L1358.5 327.9L1359 328.0L1359.5 327.5L1360 327.8L1360.5 327.5L1361 327.6L1361.5 327.8L1362 327.0L1362.5 327.6L1363 327.6L1363.5 327.5L1364 327.6L1364.5 327.9L1365 327.8L1365.5 327.2L1366 327.7L1366.5 327.9L1367 327.5L1367.5 328.2L1368 327.8L1368.5 327.8L1369 327.6L1369.5 327.4L1370 327.0L1370.5 327.6L1371 327.7L1371.5 328.2L1372 328.0L1372.5 327.6L1373 328.5L1373.5 327.6L1374 327.9L1374.5 327.9L1375 327.3L1375.5 328.1L1376 327.6L1376.5 327.5L1377 327.6L1377.5 327.7L1378 327.9L1378.5 327.6L1379 328.0L1379.5 326.7L1380 328.0L1380.5 327.6L1381 327.4L1381.5 327.8L1382 327.7L1382.5 327.9L1383 328.1L1383.5 327.4L1384 327.6L1384.5 327.6L1385 326.7L1385.5 327.3L1386 327.6L1386.5 328.8L1387 328.0L1387.5 327.9L1388 327.6L1388.5 327.4L1389 328.2L1389.5 327.4L1390 327.8L1390.5 327.9L1391 327.6L1391.5 327.7L1392 327.1L1392.5 327.2L1393 327.3L1393.5 328.9L1394 327.3L1394.5 328.4L1395 327.5L1395.5 328.2L1396 327.9L1396.5 327.6L1397 327.6L1397.5 327.8L1398 328.0L1398.5 327.6L1399 327.7L1399.5 327.6L1400 327.7L1400.5 327.4L1401 328.1L1401.5 327.2L1402 327.8L1402.5 327.6L1403 327.6L1403.5 328.0L1404 327.9L1404.5 328.0L1405 327.3L1405.5 327.3L1406 327.2L1406.5 327.0L1407 327.7L1407.5 327.7L1408 328.1L1408.5 328.1L1409 327.7L1409.5 327.5L1410 327.1L1410.5 327.2L1411 327.4L1411.5 327.9L1412 327.3L1412.5 327.4L1413 327.4L1413.5 327.7L1414 327.1L1414.5 327.9L1415 327.9L1415.5 327.3L1416 327.7L1416.5 327.3L1417 327.2L1417.5 327.6L1418 327.2L1418.5 327.7L1419 327.3L1419.5 327.4L1420 327.5L1420.5 327.3L1421 327.1L1421.5 327.4L1422 326.8L1422.5 326.5L1423 327.0L1423.5 326.8L1424 326.8L1424.5 326.8L1425 326.9L1425.5 326.5L1426 326.5L1426.5 327.0L1427 327.0L1427.5 326.9L1428 326.8L1428.5 326.8L1429 326.9L1429.5 326.2L1430 326.2L1430.5 326.0L1431 326.7L1431.5 326.7L1432 325.5L1432.5 326.0L1433 325.3L1433.5 325.1L1434 325.5L1434.5 325.4L1435 325.2L1435.5 324.7L1436 323.9L1436.5 324.0L1437 323.0L1437.5 322.7L1438 322.1L1438.5 320.9L1439 321.0L1439.5 319.1L1440 317.8L1440.5 316.9L1441 315.9L1441.5 314.3L1442 312.9L1442.5 311.5L1443 309.1L1443.5 307.1L1444 306.5L1444.5 303.9L1445 302.9L1445.5 301.5L1446 300.5L1446.5 299.7L1447 299.2L1447.5 299.3L1448 299.7L1448.5 300.7L1449 301.7L1449.5 303.1L1450 305.0L1450.5 307.4L1451 308.0L1451.5 309.5L1452 311.4L1452.5 312.6L1453 314.3L1453.5 315.8L1454 317.7L1454.5 318.6L1455 319.5L1455.5 320.2L1456 321.8L1456.5 322.6L1457 323.0L1457.5 323.4L1458 323.4L1458.5 324.4L1459 324.5L1459.5 324.7L1460 325.6L1460.5 325.4L1461 325.3L1461.5 326.2L1462 325.7L1462.5 325.3L1463 326.2L1463.5 326.5L1464 326.3L1464.5 326.3L1465 326.6L1465.5 326.2L1466 326.4L1466.5 326.6L1467 326.5L1467.5 327.0L1468 326.8L1468.5 327.4L1469 327.3L1469.5 327.3L1470 327.4L1470.5 327.2L1471 327.6L1471.5 327.3L1472 327.0L1472.5 327.5L1473 327.3L1473.5 327.9L1474 327.5L1474.5 327.5L1475 327.4L1475.5 328.0L1476 327.1L1476.5 327.8L1477 327.3L1477.5 327.2L1478 328.4L1478.5 327.3L1479 327.9L1479.5 327.7L1480 328.3L1480.5 327.2L1481 327.6L1481.5 327.7L1482 327.4L1482.5 327.7L1483 327.8L1483.5 328.0L1484 328.1L1484.5 327.6L1485 328.0L1485.5 327.7L1486 328.1L1486.5 327.8L1487 328.2L1487.5 327.6L1488 327.4L1488.5 328.1L1489 327.8L1489.5 327.5L1490 327.6L1490.5 328.0L1491 327.9L1491.5 327.7L1492 326.8L1492.5 327.2L1493 327.6L1493.5 327.8L1494 328.1L1494.5 327.7L1495 328.4L1495.5 327.9L1496 327.6L1496.5 328.3L1497 327.7L1497.5 327.7L1498 327.4L1498.5 327.6L1499 327.3L1499.5 327.9L1500 328.1L1500.5 327.5L1501 328.0L1501.5 327.6L1502 327.9L1502.5 328.3L1503 328.1L1503.5 327.9L1504 327.8L1504.5 327.9L1505 327.8L1505.5 327.6L1506 327.7L1506.5 327.5L1507 328.1L1507.5 328.2L1508 328.0L1508.5 327.4L1509 328.1L1509.5 327.8L1510 327.7L1510.5 327.5L1511 327.7L1511.5 327.7L1512 327.5L1512.5 326.9L1513 327.8L1513.5 327.8L1514 327.4L1514.5 327.8L1515 327.6L1515.5 327.9L1516 328.0L1516.5 327.5L1517 327.6L1517.5 327.6L1518 327.5L1518.5 328.3L1519 327.9L1519.5 327.3L1520 327.0L1520.5 327.2L1521 327.4L1521.5 327.2L1522 326.4L1522.5 326.9L1523 326.0L1523.5 326.6L1524 326.3L1524.5 326.2L1525 326.4L1525.5 325.9L1526 326.0L1526.5 326.0L1527 326.1L1527.5 325.3L1528 325.8L1528.5 325.6L1529 325.2L1529.5 325.7L1530 325.9L1530.5 325.2L1531 325.5L1531.5 325.9L1532 325.5L1532.5 325.3L1533 326.1L1533.5 325.9L1534 325.8L1534.5 326.0L1535 326.3L1535.5 325.9L1536 325.7L1536.5 326.4L1537 326.0L1537.5 326.0L1538 327.0L1538.5 326.5L1539 326.7L1539.5 326.3L1540 326.7L1540.5 326.3L1541 326.7L1541.5 326.8L1542 326.7L1542.5 328.2L1543 326.9L1543.5 327.1L1544 327.3L1544.5 326.6L1545 327.1L1545.5 327.3L1546 326.9L1546.5 326.5L1547 326.4L1547.5 326.8L1548 326.8L1548.5 326.9L1549 326.7L1549.5 326.6L1550 326.5L1550.5 326.7L1551 325.9L1551.5 326.4L1552 325.8L1552.5 325.8L1553 325.7L1553.5 325.8L1554 325.5L1554.5 325.6L1555 325.1L1555.5 325.1L1556 324.9L1556.5 324.5L1557 323.8L1557.5 323.6L1558 323.6L1558.5 323.5L1559 322.5L1559.5 322.0L1560 322.2L1560.5 320.8L1561 321.4L1561.5 319.5L1562 319.1L1562.5 317.9L1563 317.1L1563.5 316.4L1564 315.4L1564.5 314.4L1565 312.9L1565.5 311.9L1566 311.0L1566.5 309.1L1567 308.0L1567.5 307.5L1568 306.0L1568.5 304.6L1569 304.1L1569.5 303.4L1570 302.7L1570.5 302.4L1571 302.2L1571.5 302.3L1572 302.8L1572.5 303.2L1573 303.9L1573.5 304.8L1574 305.8L1574.5 306.7L1575 308.9L1575.5 308.7L1576 309.8L1576.5 310.9L1577 312.2L1577.5 313.2L1578 314.5L1578.5 315.5L1579 316.6L1579.5 316.9L1580 318.1L1580.5 318.4L1581 319.1L1581.5 319.5L1582 319.5L1582.5 320.8L1583 321.0L1583.5 320.7L1584 321.7L1584.5 321.6L1585 320.3L1585.5 321.3L1586 322.0L1586.5 321.7L1587 321.5L1587.5 320.8L1588 321.3L1588.5 320.9L1589 320.7L1589.5 320.9L1590 319.4L1590.5 318.9L1591 318.5L1591.5 318.2L1592 317.2L1592.5 316.8L1593 315.9L1593.5 315.9L1594 314.7L1594.5 314.6L1595 313.8L1595.5 312.7L1596 312.9L1596.5 312.2L1597 311.6L1597.5 311.4L1598 311.1L1598.5 310.9L1599 311.0L1599.5 311.1L1600 311.2L1600.5 311.7L1601 312.1L1601.5 312.6L1602 313.5L1602.5 314.1L1603 314.2L1603.5 315.9L1604 315.7L1604.5 316.8L1605 317.6L1605.5 317.6L1606 319.1L1606.5 320.1L1607 320.2L1607.5 320.9L1608 321.3L1608.5 321.8L1609 322.9L1609.5 323.2L1610 323.4L1610.5 323.8L1611 324.0L1611.5 324.9L1612 324.9L1612.5 324.8L1613 325.3L1613.5 324.9L1614 325.8L1614.5 325.9L1615 326.1L1615.5 326.1L1616 326.4L1616.5 326.1L1617 326.7L1617.5 326.9L1618 326.2L1618.5 326.6L1619 326.8L1619.5 327.3L1620 326.9L1620.5 327.1L1621 327.4L1621.5 327.5L1622 328.1L1622.5 327.6L1623 327.5L1623.5 326.6L1624 327.8L1624.5 327.6L1625 327.3L1625.5 327.8L1626 327.9L1626.5 327.8L1627 327.6L1627.5 327.7L1628 327.4L1628.5 328.2L1629 327.8L1629.5 327.7L1630 327.9L1630.5 327.9L1631 327.9L1631.5 328.2L1632 327.9L1632.5 327.7L1633 328.6L1633.5 328.0L1634 327.7L1634.5 327.7L1635 328.3L1635.5 328.5L1636 328.2L1636.5 328.0L1637 327.7L1637.5 328.4L1638 327.6L1638.5 328.3L1639 328.7L1639.5 328.0L1640 328.3L1640.5 328.3L1641 328.1L1641.5 328.5L1642 328.1L1642.5 328.9L1643 328.4L1643.5 328.2L1644 328.0L1644.5 328.1L1645 328.6L1645.5 328.5L1646 327.6L1646.5 328.1L1647 328.1L1647.5 328.3L1648 328.3L1648.5 328.2L1649 327.8L1649.5 328.7L1650 328.0L1650.5 328.0L1651 328.3L1651.5 330.1L1652 328.3L1652.5 328.8L1653 328.3L1653.5 328.7L1654 328.7L1654.5 328.1L1655 327.7L1655.5 328.5L1656 328.6L1656.5 328.6L1657 328.6L1657.5 328.6L1658 328.9L1658.5 328.6L1659 328.7L1659.5 328.5L1660 328.2L1660.5 328.8L1661 328.3L1661.5 329.6L1662 329.4L1662.5 328.3L1663 328.2L1663.5 329.4L1664 328.7L1664.5 329.0L1665 328.4L1665.5 328.5L1666 328.6L1666.5 328.4L1667 328.8L1667.5 328.2L1668 328.4L1668.5 328.9L1669 328.6L1669.5 328.6L1670 328.7L1670.5 328.3L1671 328.8L1671.5 328.4L1672 329.0L1672.5 328.6L1673 328.0L1673.5 328.6L1674 328.2L1674.5 328.6L1675 328.5L1675.5 328.4L1676 328.7L1676.5 329.0L1677 329.4L1677.5 328.8L1678 329.0L1678.5 328.4L1679 328.9L1679.5 328.5L1680 328.3L1680.5 328.0L1681 328.1L1681.5 328.0L1682 327.6L1682.5 328.1L1683 329.6L1683.5 327.3L1684 328.0L1684.5 327.2L1685 327.0L1685.5 326.7L1686 327.3L1686.5 327.0L1687 326.3L1687.5 327.1L1688 327.1L1688.5 326.6L1689 326.2L1689.5 326.3L1690 326.0L1690.5 325.7L1691 325.4L1691.5 325.6L1692 326.5L1692.5 325.7L1693 325.2L1693.5 324.9L1694 325.4L1694.5 325.3L1695 325.6L1695.5 325.3L1696 325.4L1696.5 325.1L1697 325.4L1697.5 326.5L1698 326.1L1698.5 326.2L1699 325.9L1699.5 326.2L1700 326.3L1700.5 327.0L1701 327.2L1701.5 326.9L1702 326.9L1702.5 327.4L1703 327.6L1703.5 327.8L1704 327.9L1704.5 328.0L1705 328.1L1705.5 327.6L1706 328.2L1706.5 328.1L1707 328.4L1707.5 328.3L1708 328.5L1708.5 328.7L1709 328.7L1709.5 328.8L1710 328.6L1710.5 329.6L1711 328.6L1711.5 328.5L1712 328.9L1712.5 329.9L1713 329.1L1713.5 329.1L1714 328.5L1714.5 328.9L1715 328.7L1715.5 328.6L1716 329.0L1716.5 328.9L1717 329.1L1717.5 329.3L1718 329.4L1718.5 329.0L1719 328.8L1719.5 329.2L1720 328.8L1720.5 328.6L1721 329.1L1721.5 328.9L1722 328.3L1722.5 329.1L1723 328.8L1723.5 328.8L1724 328.9L1724.5 329.0L1725 328.6L1725.5 328.9L1726 328.7L1726.5 329.6L1727 329.6L1727.5 328.6L1728 329.4L1728.5 329.1L1729 329.2L1729.5 328.3L1730 329.5L1730.5 329.6L1731 329.2L1731.5 328.9L1732 328.8L1732.5 328.8L1733 329.0L1733.5 328.6L1734 329.1L1734.5 328.9L1735 329.2L1735.5 329.0L1736 329.3L1736.5 329.8L1737 329.2L1737.5 328.9L1738 328.9L1738.5 329.0L1739 329.2L1739.5 331.0L1740 328.8L1740.5 329.0L1741 329.0L1741.5 329.1L1742 328.7L1742.5 329.1L1743 329.1L1743.5 329.7L1744 329.1L1744.5 329.5L1745 329.3L1745.5 329.2L1746 329.6L1746.5 329.1L1747 328.9L1747.5 328.1L1748 329.7L1748.5 329.2L1749 329.3L1749.5 329.0L1750 329.3L1750.5 329.3L1751 329.1L1751.5 328.7L1752 329.4L1752.5 329.4L1753 329.2L1753.5 328.9L1754 328.8L1754.5 329.2L1755 329.4L1755.5 329.4L1756 329.8L1756.5 329.4L1757 329.1L1757.5 329.0L1758 329.3L1758.5 329.1L1759 329.3L1759.5 329.2L1760 329.5L1760.5 329.7L1761 329.1L1761.5 329.0L1762 329.4L1762.5 329.1L1763 328.7L1763.5 328.8L1764 329.1L1764.5 329.7L1765 329.0L1765.5 329.1L1766 329.5L1766.5 329.4L1767 329.0L1767.5 329.6L1768 330.2L1768.5 328.9L1769 329.5L1769.5 329.4L1770 329.2L1770.5 329.4L1771 328.9L1771.5 328.8L1772 330.4L1772.5 330.4L1773 328.1L1773.5 329.7L1774 329.4L1774.5 329.7L1775 329.4L1775.5 329.6L1776 329.4L1776.5 329.0L1777 330.1L1777.5 329.0L1778 329.4L1778.5 329.0L1779 329.1L1779.5 329.0L1780 329.5L1780.5 328.7L1781 329.2L1781.5 330.3L1782 329.4L1782.5 329.4L1783 329.9L1783.5 328.5L1784 328.3L1784.5 329.4L1785 329.4L1785.5 328.8L1786 328.6L1786.5 328.5L1787 328.8L1787.5 329.2L1788 328.4L1788.5 328.5L1789 328.1L1789.5 328.0L1790 327.7L1790.5 328.6L1791 328.4L1791.5 328.4L1792 327.9L1792.5 327.9L1793 327.9L1793.5 327.6L1794 328.1L1794.5 327.4L1795 327.6L1795.5 327.8L1796 327.8L1796.5 327.6L1797 327.7L1797.5 327.4L1798 327.2L1798.5 327.5L1799 327.1L1799.5 327.6L1800 327.4L1800.5 327.8L1801 326.9L1801.5 327.9L1802 327.5L1802.5 327.6L1803 327.6L1803.5 328.6L1804 327.2L1804.5 328.0L1805 327.9L1805.5 327.9L1806 327.7L1806.5 328.3L1807 327.9L1807.5 328.0L1808 328.7L1808.5 328.7L1809 328.7L1809.5 328.4L1810 328.5L1810.5 328.2L1811 328.5L1811.5 329.4L1812 329.1L1812.5 329.1L1813 328.8L1813.5 329.2L1814 329.1L1814.5 329.5L1815 330.2L1815.5 329.3L1816 328.9L1816.5 328.9L1817 329.6L1817.5 329.1L1818 329.6L1818.5 329.6L1819 329.2L1819.5 329.2L1820 329.7L1820.5 329.0L1821 329.7L1821.5 328.9L1822 329.8L1822.5 329.1L1823 329.5L1823.5 329.3L1824 329.2L1824.5 329.5L1825 329.0L1825.5 329.2L1826 329.5L1826.5 328.9L1827 329.3L1827.5 328.6L1828 329.7L1828.5 329.9L1829 329.8L1829.5 329.3L1830 329.4L1830.5 329.5L1831 329.5L1831.5 329.2L1832 329.1L1832.5 329.1L1833 329.6L1833.5 329.5L1834 329.4L1834.5 330.0L1835 329.7L1835.5 329.7L1836 329.7L1836.5 329.5L1837 329.6L1837.5 329.9L1838 329.3L1838.5 329.7L1839 329.5L1839.5 329.2L1840 329.5L1840.5 329.5L1841 330.1L1841.5 329.6L1842 330.0L1842.5 329.5L1843 329.0L1843.5 328.9L1844 328.7L1844.5 329.4L1845 329.3L1845.5 330.0L1846 329.5L1846.5 329.8L1847 329.7L1847.5 330.0L1848 329.4L1848.5 329.7L1849 329.4L1849.5 328.8L1850 329.7L1850.5 329.4L1851 329.5L1851.5 329.4L1852 329.6L1852.5 329.5L1853 329.8L1853.5 329.5L1854 329.6" stroke="#ff00ff"/>
<path d="M145.0 611.3L145.5 610.8L146 611.0L146.5 610.6L147 610.7L147.5 610.4L148 610.3L148.5 611.0L149 611.5L149.5 610.6L150 610.9L150.5 610.8L151 609.9L151.5 611.5L152 610.7L152.5 610.8L153 608.7L153.5 610.5L154 611.4L154.5 610.0L155 610.7L155.5 609.6L156 610.9L156.5 610.5L157 609.9L157.5 610.7L158 609.5L158.5 610.5L159 611.0L159.5 610.1L160 610.3L160.5 609.8L161 610.3L161.5 610.1L162 610.8L162.5 610.1L163 609.7L163.5 610.3L164 610.2L164.5 610.7L165 610.1L165.5 610.1L166 610.6L166.5 610.1L167 610.0L167.5 609.9L168 610.8L168.5 610.6L169 610.5L169.5 611.3L170 610.7L170.5 610.3L171 612.4L171.5 610.7L172 610.3L172.5 609.8L173 610.0L173.5 610.2L174 610.5L174.5 610.1L175 610.7L175.5 610.3L176 609.9L176.5 608.7L177 609.7L177.5 609.2L178 609.7L178.5 610.0L179 610.2L179.5 610.2L180 610.5L180.5 610.7L181 609.5L181.5 609.6L182 609.7L182.5 609.5L183 609.0L183.5 608.9L184 609.8L184.5 609.3L185 608.7L185.5 608.9L186 609.2L186.5 609.1L187 609.0L187.5 609.3L188 609.4L188.5 609.3L189 608.5L189.5 609.0L190 609.3L190.5 610.2L191 608.4L191.5 609.3L192 608.4L192.5 609.3L193 609.1L193.5 608.4L194 608.5L194.5 608.6L195 609.6L195.5 608.9L196 609.5L196.5 608.0L197 608.3L197.5 608.6L198 608.4L198.5 609.0L199 608.4L199.5 608.0L200 607.4L200.5 608.4L201 608.3L201.5 608.3L202 609.8L202.5 607.8L203 607.8L203.5 607.2L204 607.9L204.5 607.3L205 608.6L205.5 607.3L206 607.4L206.5 607.9L207 606.7L207.5 607.7L208 607.4L208.5 607.0L209 607.5L209.5 607.6L210 608.3L210.5 606.0L211 606.9L211.5 607.3L212 606.3L212.5 607.1L213 607.7L213.5 606.5L214 606.6L214.5 606.3L215 606.5L215.5 606.1L216 606.3L216.5 607.2L217 606.8L217.5 606.3L218 605.8L218.5 606.9L219 605.1L219.5 606.6L220 605.9L220.5 605.6L221 605.9L221.5 605.9L222 606.2L222.5 606.1L223 606.7L223.5 607.2L224 606.0L224.5 605.3L225 606.7L225.5 606.5L226 605.8L226.5 605.1L227 606.2L227.5 606.3L228 605.1L228.5 605.4L229 605.6L229.5 605.5L230 605.0L230.5 604.7L231 605.1L231.5 605.1L232 605.3L232.5 604.9L233 604.5L233.5 605.6L234 605.3L234.5 605.3L235 605.0L235.5 605.0L236 604.5L236.5 605.4L237 605.2L237.5 604.5L238 603.7L238.5 604.5L239 604.5L239.5 605.4L240 603.9L240.5 605.3L241 604.2L241.5 605.1L242 604.4L242.5 604.4L243 604.7L243.5 605.1L244 604.9L244.5 604.2L245 605.2L245.5 604.9L246 604.4L246.5 605.7L247 603.9L247.5 603.7L248 604.6L248.5 605.0L249 604.0L249.5 605.3L250 604.2L250.5 604.2L251 605.4L251.5 603.7L252 605.4L252.5 604.3L253 605.4L253.5 604.2L254 604.0L254.5 604.0L255 605.1L255.5 605.7L256 604.8L256.5 604.3L257 605.0L257.5 604.6L258 605.1L258.5 603.9L259 604.5L259.5 605.5L260 604.3L260.5 604.2L261 604.7L261.5 604.6L262 604.1L262.5 604.6L263 604.5L263.5 605.1L264 604.4L264.5 604.2L265 603.6L265.5 604.8L266 604.7L266.5 604.0L267 603.0L267.5 605.5L268 604.1L268.5 604.1L269 603.9L269.5 604.1L270 604.7L270.5 603.9L271 604.7L271.5 604.5L272 605.1L272.5 604.1L273 603.6L273.5 605.3L274 604.6L274.5 604.7L275 606.7L275.5 604.3L276 603.8L276.5 604.5L277 604.8L277.5 604.6L278 603.7L278.5 604.3L279 604.2L279.5 604.5L280 604.5L280.5 604.6L281 603.7L281.5 603.7L282 603.3L282.5 604.4L283 604.8L283.5 603.8L284 604.3L284.5 605.0L285 604.8L285.5 603.6L286 604.3L286.5 605.3L287 604.3L287.5 604.4L288 604.6L288.5 604.8L289 603.9L289.5 603.9L290 605.4L290.5 604.8L291 604.4L291.5 604.4L292 604.1L292.5 604.0L293 605.6L293.5 604.4L294 604.8L294.5 605.5L295 605.1L295.5 604.1L296 604.4L296.5 604.0L297 604.4L297.5 604.2L298 604.2L298.5 605.1L299 604.9L299.5 604.4L300 604.7L300.5 604.0L301 604.2L301.5 604.6L302 604.8L302.5 605.1L303 604.9L303.5 605.2L304 604.0L304.5 604.1L305 604.5L305.5 604.9L306 605.6L306.5 604.7L307 604.4L307.5 605.0L308 604.1L308.5 605.5L309 604.8L309.5 604.8L310 605.3L310.5 604.9L311 603.7L311.5 604.7L312 604.2L312.5 605.9L313 604.3L313.5 603.6L314 604.3L314.5 604.6L315 604.5L315.5 604.4L316 603.4L316.5 605.2L317 604.4L317.5 604.9L318 604.8L318.5 604.5L319 605.4L319.5 604.9L320 605.2L320.5 605.0L321 604.0L321.5 604.3L322 605.3L322.5 604.8L323 604.4L323.5 605.3L324 604.9L324.5 604.6L325 604.4L325.5 604.2L326 604.4L326.5 604.2L327 604.1L327.5 605.7L328 604.8L328.5 604.2L329 605.1L329.5 603.7L330 605.2L330.5 605.7L331 605.5L331.5 604.7L332 604.1L332.5 604.6L333 605.6L333.5 604.5L334 605.1L334.5 604.1L335 605.2L335.5 604.9L336 603.9L336.5 605.5L337 605.2L337.5 605.3L338 604.5L338.5 604.9L339 604.3L339.5 604.9L340 605.3L340.5 605.3L341 605.6L341.5 604.9L342 603.9L342.5 605.5L343 605.4L343.5 605.7L344 605.9L344.5 605.2L345 604.8L345.5 605.0L346 604.8L346.5 605.4L347 606.1L347.5 604.9L348 606.0L348.5 604.1L349 605.1L349.5 605.0L350 605.7L350.5 604.9L351 604.8L351.5 605.3L352 604.9L352.5 605.7L353 604.7L353.5 604.4L354 605.1L354.5 605.1L355 605.0L355.5 606.0L356 605.0L356.5 606.3L357 605.3L357.5 605.0L358 606.6L358.5 605.6L359 605.3L359.5 605.5L360 606.4L360.5 605.3L361 606.3L361.5 606.0L362 605.4L362.5 606.4L363 606.1L363.5 605.5L364 605.0L364.5 606.6L365 606.1L365.5 606.0L366 606.4L366.5 606.2L367 607.1L367.5 605.9L368 606.2L368.5 606.8L369 606.4L369.5 605.6L370 606.0L370.5 606.7L371 607.0L371.5 605.0L372 606.5L372.5 605.5L373 606.3L373.5 607.3L374 606.5L374.5 606.7L375 606.4L375.5 606.6L376 606.7L376.5 605.8L377 606.0L377.5 607.1L378 606.5L378.5 606.7L379 607.4L379.5 606.5L380 606.1L380.5 606.4L381 606.8L381.5 605.5L382 606.7L382.5 606.6L383 606.7L383.5 605.9L384 607.5L384.5 606.7L385 607.0L385.5 607.0L386 607.0L386.5 606.6L387 606.6L387.5 607.2L388 606.0L388.5 605.8L389 606.9L389.5 606.7L390 605.5L390.5 606.6L391 606.3L391.5 606.4L392 606.2L392.5 607.3L393 606.5L393.5 605.8L394 606.7L394.5 605.4L395 606.8L395.5 607.0L396 607.5L396.5 607.5L397 607.0L397.5 606.7L398 607.4L398.5 606.5L399 606.2L399.5 606.6L400 607.3L400.5 607.2L401 606.5L401.5 606.3L402 606.8L402.5 606.7L403 607.0L403.5 607.0L404 606.4L404.5 607.6L405 606.2L405.5 606.9L406 607.2L406.5 607.0L407 607.1L407.5 606.7L408 607.4L408.5 607.9L409 607.4L409.5 607.8L410 607.4L410.5 607.0L411 607.5L411.5 607.7L412 607.6L412.5 607.2L413 607.7L413.5 608.0L414 609.0L414.5 607.3L415 607.5L415.5 607.9L416 607.6L416.5 608.0L417 607.5L417.5 608.2L418 607.8L418.5 606.3L419 607.5L419.5 608.4L420 609.3L420.5 607.9L421 607.6L421.5 607.9L422 607.1L422.5 608.0L423 608.2L423.5 607.1L424 608.9L424.5 607.7L425 608.0L425.5 608.1L426 607.1L426.5 607.9L427 608.0L427.5 607.8L428 607.6L428.5 607.8L429 608.2L429.5 607.0L430 608.3L430.5 607.5L431 608.0L431.5 608.1L432 608.1L432.5 607.9L433 607.8L433.5 608.4L434 607.9L434.5 608.1L435 607.3L435.5 608.3L436 607.7L436.5 608.2L437 608.5L437.5 608.6L438 608.4L438.5 608.8L439 608.8L439.5 607.9L440 607.6L440.5 607.4L441 608.6L441.5 607.7L442 608.4L442.5 608.1L443 607.5L443.5 607.0L444 608.7L444.5 608.1L445 608.6L445.5 608.5L446 607.8L446.5 608.3L447 607.9L447.5 607.5L448 608.1L448.5 608.4L449 610.2L449.5 609.0L450 607.9L450.5 607.8L451 608.2L451.5 608.4L452 608.6L452.5 608.5L453 608.1L453.5 608.3L454 607.9L454.5 607.8L455 608.3L455.5 608.1L456 607.4L456.5 608.3L457 608.8L457.5 608.0L458 608.0L458.5 608.0L459 608.2L459.5 608.8L460 607.7L460.5 607.8L461 607.7L461.5 608.7L462 608.0L462.5 608.5L463 609.3L463.5 607.8L464 608.0L464.5 609.0L465 607.9L465.5 609.1L466 607.6L466.5 608.0L467 608.2L467.5 607.4L468 609.0L468.5 607.8L469 607.6L469.5 608.2L470 608.5L470.5 607.5L471 608.1L471.5 608.6L472 607.5L472.5 607.1L473 607.5L473.5 607.8L474 608.2L474.5 608.4L475 608.3L475.5 607.3L476 607.5L476.5 608.7L477 608.2L477.5 609.0L478 608.0L478.5 608.1L479 607.6L479.5 608.4L480 607.8L480.5 608.4L481 608.1L481.5 607.4L482 607.7L482.5 607.6L483 607.9L483.5 608.3L484 608.3L484.5 607.4L485 609.0L485.5 607.7L486 608.9L486.5 607.8L487 608.0L487.5 608.7L488 608.8L488.5 608.9L489 608.9L489.5 607.4L490 608.6L490.5 608.9L491 607.8L491.5 608.7L492 608.4L492.5 608.5L493 608.9L493.5 607.4L494 607.9L494.5 608.3L495 608.9L495.5 608.6L496 607.6L496.5 608.3L497 608.6L497.5 608.2L498 608.8L498.5 608.9L499 608.0L499.5 609.2L500 608.1L500.5 608.1L501 608.3L501.5 608.3L502 609.2L502.5 608.3L503 608.6L503.5 609.1L504 608.6L504.5 607.9L505 608.1L505.5 608.2L506 608.5L506.5 608.9L507 608.4L507.5 607.8L508 608.5L508.5 608.5L509 608.4L509.5 607.5L510 607.8L510.5 607.9L511 608.5L511.5 608.4L512 608.8L512.5 609.7L513 607.9L513.5 609.4L514 608.4L514.5 608.2L515 608.5L515.5 609.1L516 608.5L516.5 609.2L517 608.1L517.5 608.4L518 609.1L518.5 608.5L519 608.6L519.5 607.8L520 607.7L520.5 608.8L521 608.6L521.5 608.5L522 607.9L522.5 607.8L523 609.5L523.5 609.9L524 609.2L524.5 608.4L525 608.6L525.5 609.3L526 608.3L526.5 608.8L527 608.7L527.5 608.6L528 607.9L528.5 608.2L529 608.5L529.5 608.5L530 608.9L530.5 608.8L531 609.3L531.5 608.4L532 609.0L532.5 608.8L533 608.8L533.5 608.1L534 609.0L534.5 608.3L535 608.2L535.5 608.6L536 609.0L536.5 608.5L537 608.5L537.5 608.9L538 608.8L538.5 608.7L539 608.1L539.5 609.3L540 608.8L540.5 608.5L541 608.2L541.5 609.3L542 608.4L542.5 609.1L543 608.7L543.5 608.2L544 609.1L544.5 608.7L545 609.1L545.5 608.2L546 608.9L546.5 608.9L547 608.6L547.5 608.5L548 608.4L548.5 608.1L549 608.2L549.5 608.4L550 608.3L550.5 607.9L551 609.3L551.5 609.2L552 609.1L552.5 608.3L553 609.2L553.5 608.7L554 608.0L554.5 608.2L555 608.1L555.5 608.3L556 609.1L556.5 608.8L557 608.9L557.5 609.3L558 608.8L558.5 608.7L559 608.5L559.5 608.4L560 608.4L560.5 607.8L561 609.0L561.5 609.1L562 608.8L562.5 609.3L563 609.0L563.5 609.4L564 608.7L564.5 608.6L565 608.7L565.5 609.5L566 608.4L566.5 609.3L567 607.4L567.5 607.3L568 608.9L568.5 608.6L569 608.7L569.5 608.1L570 608.1L570.5 609.2L571 608.0L571.5 608.8L572 609.4L572.5 608.6L573 608.2L573.5 608.3L574 608.6L574.5 608.2L575 608.6L575.5 607.7L576 609.0L576.5 608.8L577 608.0L577.5 609.2L578 608.7L578.5 608.6L579 608.8L579.5 608.3L580 608.9L580.5 609.2L581 609.4L581.5 608.9L582 608.6L582.5 608.8L583 607.4L583.5 608.3L584 608.2L584.5 608.9L585 608.6L585.5 608.7L586 608.4L586.5 609.1L587 609.1L587.5 609.0L588 608.8L588.5 609.5L589 608.5L589.5 608.7L590 608.5L590.5 609.2L591 608.5L591.5 608.5L592 610.0L592.5 608.9L593 608.8L593.5 608.8L594 609.1L594.5 608.5L595 608.6L595.5 608.5L596 609.3L596.5 610.5L597 608.8L597.5 609.0L598 608.3L598.5 608.8L599 608.1L599.5 608.4L600 608.5L600.5 608.0L601 608.6L601.5 608.8L602 609.0L602.5 608.6L603 608.1L603.5 608.6L604 608.8L604.5 608.2L605 608.4L605.5 609.2L606 609.0L606.5 609.4L607 608.9L607.5 608.6L608 607.8L608.5 609.4L609 608.7L609.5 609.1L610 608.3L610.5 608.1L611 608.2L611.5 607.9L612 607.9L612.5 608.7L613 608.8L613.5 609.0L614 608.7L614.5 608.8L615 608.6L615.5 607.6L616 608.4L616.5 608.4L617 608.5L617.5 609.6L618 609.1L618.5 608.6L619 608.8L619.5 608.5L620 608.0L620.5 608.3L621 608.4L621.5 609.2L622 608.4L622.5 609.3L623 609.2L623.5 608.9L624 608.1L624.5 609.0L625 607.8L625.5 608.4L626 608.8L626.5 608.4L627 609.1L627.5 609.2L628 608.6L628.5 610.3L629 608.3L629.5 609.1L630 609.1L630.5 608.2L631 608.6L631.5 608.7L632 608.6L632.5 608.3L633 608.2L633.5 608.4L634 609.7L634.5 609.5L635 608.0L635.5 608.2L636 608.0L636.5 607.9L637 608.5L637.5 608.9L638 608.1L638.5 608.5L639 608.7L639.5 608.8L640 608.8L640.5 609.5L641 607.7L641.5 609.1L642 609.0L642.5 609.6L643 608.5L643.5 608.6L644 609.4L644.5 608.3L645 608.9L645.5 608.8L646 608.7L646.5 608.8L647 609.3L647.5 608.3L648 608.5L648.5 608.0L649 608.1L649.5 608.4L650 609.1L650.5 608.0L651 608.5L651.5 608.6L652 608.2L652.5 608.8L653 608.2L653.5 608.5L654 608.9L654.5 609.3L655 608.8L655.5 609.1L656 608.7L656.5 608.2L657 608.5L657.5 608.6L658 607.5L658.5 608.7L659 608.0L659.5 608.8L660 608.6L660.5 608.8L661 607.5L661.5 608.9L662 608.7L662.5 608.7L663 608.9L663.5 608.1L664 609.4L664.5 608.1L665 608.4L665.5 608.5L666 607.8L666.5 607.9L667 608.0L667.5 608.3L668 608.3L668.5 608.6L669 607.8L669.5 608.2L670 607.7L670.5 607.4L671 606.2L671.5 607.7L672 606.4L672.5 605.8L673 605.1L673.5 604.5L674 604.1L674.5 604.3L675 602.0L675.5 602.7L676 599.0L676.5 596.8L677 594.9L677.5 590.7L678 587.8L678.5 583.3L679 578.8L679.5 573.9L680 569.3L680.5 565.1L681 559.9L681.5 555.6L682 551.9L682.5 549.0L683 546.9L683.5 546.1L684 546.5L684.5 548.1L685 550.5L685.5 554.0L686 558.0L686.5 562.4L687 567.4L687.5 572.2L688 577.1L688.5 582.3L689 584.8L689.5 589.3L690 592.8L690.5 595.8L691 599.2L691.5 600.7L692 601.5L692.5 603.0L693 603.4L693.5 605.0L694 606.1L694.5 607.0L695 605.8L695.5 606.4L696 607.2L696.5 607.0L697 608.2L697.5 607.6L698 608.0L698.5 607.5L699 607.6L699.5 607.6L700 607.7L700.5 607.4L701 608.4L701.5 607.7L702 607.7L702.5 607.3L703 608.6L703.5 608.0L704 607.6L704.5 608.9L705 608.8L705.5 608.7L706 608.7L706.5 608.9L707 607.9L707.5 608.4L708 608.7L708.5 608.2L709 607.6L709.5 608.6L710 609.1L710.5 608.0L711 607.9L711.5 607.8L712 608.6L712.5 607.9L713 608.8L713.5 609.5L714 608.3L714.5 608.7L715 608.0L715.5 607.8L716 607.5L716.5 608.3L717 608.5L717.5 608.8L718 608.1L718.5 608.3L719 608.3L719.5 607.9L720 608.1L720.5 608.8L721 608.8L721.5 609.4L722 608.7L722.5 608.2L723 608.9L723.5 607.7L724 608.3L724.5 607.7L725 608.7L725.5 608.0L726 607.7L726.5 608.5L727 608.3L727.5 607.9L728 608.1L728.5 608.2L729 607.2L729.5 608.3L730 608.4L730.5 608.1L731 608.1L731.5 608.2L732 607.8L732.5 607.4L733 610.4L733.5 608.0L734 607.6L734.5 607.5L735 607.5L735.5 607.5L736 606.9L736.5 606.9L737 607.5L737.5 607.0L738 607.0L738.5 606.0L739 606.5L739.5 606.2L740 606.2L740.5 606.1L741 605.3L741.5 604.4L742 602.7L742.5 602.1L743 601.0L743.5 598.6L744 595.6L744.5 593.0L745 588.6L745.5 584.8L746 578.8L746.5 574.1L747 568.9L747.5 561.7L748 556.4L748.5 550.6L749 545.5L749.5 541.2L750 538.1L750.5 536.4L751 536.2L751.5 537.7L752 540.2L752.5 544.4L753 549.4L753.5 555.5L754 559.9L754.5 566.2L755 572.2L755.5 578.3L756 582.5L756.5 587.1L757 591.4L757.5 593.4L758 597.3L758.5 599.0L759 601.2L759.5 602.5L760 603.6L760.5 603.8L761 604.8L761.5 605.1L762 605.2L762.5 605.0L763 605.1L763.5 605.4L764 605.3L764.5 605.7L765 606.0L765.5 605.9L766 605.4L766.5 605.4L767 606.1L767.5 606.0L768 605.0L768.5 605.5L769 605.6L769.5 604.7L770 605.0L770.5 605.1L771 605.2L771.5 604.4L772 604.3L772.5 604.3L773 605.7L773.5 604.4L774 603.8L774.5 602.8L775 604.0L775.5 603.1L776 601.9L776.5 601.7L777 602.3L777.5 600.8L778 600.5L778.5 601.7L779 598.8L779.5 598.9L780 598.1L780.5 596.5L781 595.7L781.5 594.4L782 592.1L782.5 590.8L783 588.6L783.5 585.7L784 581.9L784.5 577.2L785 571.0L785.5 564.4L786 555.4L786.5 544.4L787 532.3L787.5 517.8L788 500.5L788.5 482.6L789 462.4L789.5 441.6L790 420.0L790.5 399.2L791 381.0L791.5 366.8L792 358.0L792.5 355.8L793 360.8L793.5 371.8L794 388.0L794.5 407.3L795 428.2L795.5 448.6L796 472.2L796.5 490.0L797 508.6L797.5 523.3L798 537.9L798.5 548.9L799 559.5L799.5 567.3L800 573.2L800.5 579.8L801 582.6L801.5 587.3L802 589.9L802.5 592.0L803 593.1L803.5 595.3L804 595.8L804.5 597.4L805 597.9L805.5 598.8L806 599.9L806.5 600.8L807 600.8L807.5 602.3L808 602.8L808.5 603.0L809 602.5L809.5 603.6L810 603.5L810.5 604.1L811 603.8L811.5 604.2L812 604.2L812.5 604.5L813 604.6L813.5 604.8L814 605.6L814.5 605.7L815 605.6L815.5 606.1L816 606.2L816.5 606.4L817 606.7L817.5 606.6L818 607.4L818.5 606.8L819 607.6L819.5 606.6L820 606.8L820.5 607.0L821 607.0L821.5 607.3L822 607.6L822.5 607.4L823 607.5L823.5 607.6L824 607.7L824.5 608.5L825 608.2L825.5 607.3L826 608.2L826.5 607.5L827 608.7L827.5 608.8L828 607.9L828.5 607.8L829 608.1L829.5 608.4L830 608.7L830.5 608.5L831 608.7L831.5 607.7L832 608.4L832.5 608.5L833 608.5L833.5 609.2L834 608.5L834.5 608.7L835 609.0L835.5 609.0L836 608.9L836.5 609.0L837 608.7L837.5 608.9L838 608.9L838.5 610.1L839 609.1L839.5 609.0L840 608.4L840.5 609.3L841 609.6L841.5 609.4L842 608.6L842.5 608.0L843 608.5L843.5 608.5L844 608.5L844.5 608.9L845 608.7L845.5 609.2L846 608.3L846.5 610.0L847 609.5L847.5 609.2L848 608.8L848.5 608.4L849 609.4L849.5 609.9L850 609.7L850.5 608.9L851 609.3L851.5 609.0L852 609.7L852.5 609.8L853 609.2L853.5 610.8L854 609.6L854.5 608.9L855 609.1L855.5 609.0L856 609.1L856.5 609.8L857 609.5L857.5 609.3L858 609.1L858.5 610.1L859 609.2L859.5 609.1L860 609.2L860.5 610.3L861 609.7L861.5 609.4L862 608.7L862.5 610.1L863 609.6L863.5 609.7L864 609.1L864.5 609.2L865 609.9L865.5 609.5L866 609.2L866.5 610.4L867 609.4L867.5 609.7L868 609.9L868.5 609.1L869 609.3L869.5 609.1L870 609.3L870.5 609.5L871 610.2L871.5 609.9L872 608.8L872.5 609.8L873 610.0L873.5 609.4L874 609.4L874.5 609.2L875 609.7L875.5 609.4L876 610.3L876.5 609.7L877 609.9L877.5 609.1L878 609.5L878.5 610.2L879 609.9L879.5 609.3L880 609.3L880.5 609.8L881 610.4L881.5 610.1L882 610.0L882.5 610.0L883 609.6L883.5 610.0L884 609.4L884.5 609.7L885 609.4L885.5 610.2L886 609.2L886.5 610.2L887 609.8L887.5 609.7L888 610.2L888.5 610.4L889 609.6L889.5 610.4L890 610.2L890.5 609.8L891 609.9L891.5 609.5L892 609.6L892.5 609.3L893 609.7L893.5 609.3L894 609.7L894.5 609.9L895 609.4L895.5 609.7L896 610.1L896.5 609.9L897 609.9L897.5 609.6L898 609.6L898.5 609.6L899 609.9L899.5 610.3L900 610.5L900.5 609.8L901 610.6L901.5 609.6L902 610.2L902.5 610.1L903 610.1L903.5 610.7L904 610.1L904.5 609.7L905 611.2L905.5 610.0L906 609.6L906.5 610.2L907 609.7L907.5 610.3L908 609.8L908.5 609.9L909 609.2L909.5 610.0L910 609.9L910.5 610.5L911 609.9L911.5 611.1L912 609.8L912.5 610.1L913 609.9L913.5 609.9L914 609.8L914.5 610.0L915 610.2L915.5 609.9L916 609.3L916.5 609.6L917 609.7L917.5 608.9L918 609.8L918.5 609.6L919 610.0L919.5 609.6L920 609.6L920.5 609.7L921 610.1L921.5 610.7L922 610.7L922.5 610.3L923 610.0L923.5 610.2L924 611.7L924.5 610.7L925 610.8L925.5 610.6L926 609.4L926.5 610.3L927 611.0L927.5 610.1L928 609.7L928.5 610.0L929 610.0L929.5 610.3L930 610.2L930.5 610.4L931 609.9L931.5 610.7L932 610.1L932.5 611.1L933 609.9L933.5 609.2L934 610.1L934.5 609.9L935 610.2L935.5 610.0L936 610.7L936.5 610.4L937 610.2L937.5 610.4L938 610.2L938.5 610.2L939 610.0L939.5 610.6L940 610.5L940.5 610.3L941 609.6L941.5 610.2L942 610.2L942.5 610.1L943 610.4L943.5 610.0L944 610.6L944.5 610.7L945 610.7L945.5 610.3L946 610.3L946.5 609.3L947 609.9L947.5 610.3L948 610.3L948.5 610.4L949 610.0L949.5 611.1L950 610.5L950.5 610.5L951 609.9L951.5 609.7L952 610.6L952.5 609.8L953 610.4L953.5 609.3L954 609.9L954.5 609.5L955 609.6L955.5 610.3L956 610.4L956.5 610.3L957 610.4L957.5 610.2L958 609.7L958.5 612.2L959 610.5L959.5 610.4L960 610.8L960.5 610.5L961 610.5L961.5 610.0L962 610.1L962.5 610.3L963 610.0L963.5 609.8L964 610.2L964.5 609.7L965 609.6L965.5 610.1L966 610.9L966.5 610.0L967 609.8L967.5 609.8L968 610.2L968.5 610.4L969 610.1L969.5 610.0L970 610.6L970.5 610.1L971 609.9L971.5 609.5L972 609.7L972.5 610.2L973 610.4L973.5 611.1L974 610.1L974.5 609.9L975 610.3L975.5 610.3L976 610.0L976.5 610.6L977 610.3L977.5 610.2L978 610.1L978.5 610.7L979 610.3L979.5 610.9L980 610.4L980.5 610.3L981 609.3L981.5 610.1L982 609.9L982.5 610.7L983 610.3L983.5 610.3L984 610.5L984.5 609.9L985 610.2L985.5 610.7L986 610.2L986.5 610.2L987 611.3L987.5 610.7L988 610.2L988.5 610.3L989 610.3L989.5 610.4L990 610.1L990.5 610.7L991 610.1L991.5 610.2L992 610.6L992.5 610.0L993 609.7L993.5 611.4L994 610.4L994.5 610.5L995 610.4L995.5 611.1L996 610.3L996.5 610.3L997 610.8L997.5 610.4L998 609.8L998.5 609.2L999 610.6L999.5 610.3L1000 610.1L1000.5 609.9L1001 610.2L1001.5 610.1L1002 610.0L1002.5 609.7L1003 610.2L1003.5 610.0L1004 610.5L1004.5 610.1L1005 610.8L1005.5 610.1L1006 610.0L1006.5 610.3L1007 609.8L1007.5 610.5L1008 610.1L1008.5 610.5L1009 610.9L1009.5 610.2L1010 610.2L1010.5 610.1L1011 609.2L1011.5 610.0L1012 610.3L1012.5 610.2L1013 611.7L1013.5 611.1L1014 610.2L1014.5 610.3L1015 610.7L1015.5 610.1L1016 609.8L1016.5 610.2L1017 610.8L1017.5 609.7L1018 610.3L1018.5 610.8L1019 610.1L1019.5 609.8L1020 609.8L1020.5 610.5L1021 610.1L1021.5 610.5L1022 610.5L1022.5 610.2L1023 610.6L1023.5 610.5L1024 610.0L1024.5 610.7L1025 610.0L1025.5 609.4L1026 610.2L1026.5 610.4L1027 610.0L1027.5 609.1L1028 610.8L1028.5 610.5L1029 610.5L1029.5 610.5L1030 610.1L1030.5 609.5L1031 610.5L1031.5 610.0L1032 609.8L1032.5 610.8L1033 610.1L1033.5 609.4L1034 610.3L1034.5 610.5L1035 610.0L1035.5 610.3L1036 609.7L1036.5 610.3L1037 609.6L1037.5 609.2L1038 609.5L1038.5 610.0L1039 610.1L1039.5 610.2L1040 609.7L1040.5 609.3L1041 609.6L1041.5 610.4L1042 610.1L1042.5 609.7L1043 609.9L1043.5 609.5L1044 609.6L1044.5 609.8L1045 609.5L1045.5 609.4L1046 609.3L1046.5 609.8L1047 609.4L1047.5 609.7L1048 609.6L1048.5 609.1L1049 609.2L1049.5 609.2L1050 609.2L1050.5 608.4L1051 609.3L1051.5 608.9L1052 609.4L1052.5 608.9L1053 608.8L1053.5 608.9L1054 608.2L1054.5 608.3L1055 607.8L1055.5 608.1L1056 607.5L1056.5 607.2L1057 607.2L1057.5 606.0L1058 606.2L1058.5 605.3L1059 604.8L1059.5 603.7L1060 602.8L1060.5 601.0L1061 600.2L1061.5 598.5L1062 596.7L1062.5 594.9L1063 593.0L1063.5 590.6L1064 587.9L1064.5 586.4L1065 583.9L1065.5 581.9L1066 580.0L1066.5 578.8L1067 577.7L1067.5 577.8L1068 578.0L1068.5 579.1L1069 580.7L1069.5 582.5L1070 584.7L1070.5 587.1L1071 589.2L1071.5 590.7L1072 593.8L1072.5 595.9L1073 597.8L1073.5 598.8L1074 601.0L1074.5 601.9L1075 603.1L1075.5 604.0L1076 605.1L1076.5 606.3L1077 606.0L1077.5 606.5L1078 606.7L1078.5 607.9L1079 607.9L1079.5 608.1L1080 609.1L1080.5 608.3L1081 607.5L1081.5 607.8L1082 608.7L1082.5 609.3L1083 609.4L1083.5 609.4L1084 609.3L1084.5 609.6L1085 609.1L1085.5 609.7L1086 609.7L1086.5 609.9L1087 609.5L1087.5 609.8L1088 609.4L1088.5 609.6L1089 609.7L1089.5 610.0L1090 609.7L1090.5 609.8L1091 609.6L1091.5 609.6L1092 610.2L1092.5 610.2L1093 609.7L1093.5 609.8L1094 610.1L1094.5 610.3L1095 609.3L1095.5 609.9L1096 610.1L1096.5 610.3L1097 609.7L1097.5 611.4L1098 609.8L1098.5 609.7L1099 610.3L1099.5 610.9L1100 609.9L1100.5 611.0L1101 610.8L1101.5 610.5L1102 610.4L1102.5 610.3L1103 610.3L1103.5 610.1L1104 610.0L1104.5 610.2L1105 609.9L1105.5 610.3L1106 609.6L1106.5 610.5L1107 610.1L1107.5 610.2L1108 609.9L1108.5 610.0L1109 610.3L1109.5 610.7L1110 610.3L1110.5 610.3L1111 610.7L1111.5 610.0L1112 610.6L1112.5 610.6L1113 610.3L1113.5 610.2L1114 610.7L1114.5 610.5L1115 610.8L1115.5 610.0L1116 609.8L1116.5 610.1L1117 610.1L1117.5 610.7L1118 610.3L1118.5 610.5L1119 609.9L1119.5 610.3L1120 609.9L1120.5 610.0L1121 610.3L1121.5 610.4L1122 610.4L1122.5 610.1L1123 610.6L1123.5 610.5L1124 610.4L1124.5 610.8L1125 610.3L1125.5 610.3L1126 610.1L1126.5 610.9L1127 612.1L1127.5 609.7L1128 610.5L1128.5 610.9L1129 610.2L1129.5 610.8L1130 610.4L1130.5 610.1L1131 610.1L1131.5 611.2L1132 610.1L1132.5 610.5L1133 610.2L1133.5 611.2L1134 609.9L1134.5 610.4L1135 610.8L1135.5 610.3L1136 610.9L1136.5 610.5L1137 611.5L1137.5 610.9L1138 610.8L1138.5 610.2L1139 612.2L1139.5 612.7L1140 610.1L1140.5 610.7L1141 610.7L1141.5 610.4L1142 610.5L1142.5 610.4L1143 610.5L1143.5 610.3L1144 611.2L1144.5 611.1L1145 610.5L1145.5 610.2L1146 611.1L1146.5 610.5L1147 610.3L1147.5 610.2L1148 610.5L1148.5 610.8L1149 610.1L1149.5 610.1L1150 610.6L1150.5 610.6L1151 610.3L1151.5 610.3L1152 610.4L1152.5 610.5L1153 610.3L1153.5 610.8L1154 610.8L1154.5 610.2L1155 610.7L1155.5 610.8L1156 610.7L1156.5 610.5L1157 609.6L1157.5 611.2L1158 610.6L1158.5 610.4L1159 610.9L1159.5 610.1L1160 610.9L1160.5 610.7L1161 610.6L1161.5 610.5L1162 610.4L1162.5 610.4L1163 610.0L1163.5 610.3L1164 610.5L1164.5 610.7L1165 610.2L1165.5 610.1L1166 610.3L1166.5 610.5L1167 610.5L1167.5 610.8L1168 610.3L1168.5 610.6L1169 610.5L1169.5 610.7L1170 610.5L1170.5 611.3L1171 610.5L1171.5 611.1L1172 610.0L1172.5 611.0L1173 610.9L1173.5 610.8L1174 610.8L1174.5 610.5L1175 609.8L1175.5 610.8L1176 610.7L1176.5 610.5L1177 610.4L1177.5 610.5L1178 610.4L1178.5 610.6L1179 610.8L1179.5 610.4L1180 610.7L1180.5 610.6L1181 610.9L1181.5 610.1L1182 610.5L1182.5 609.6L1183 610.3L1183.5 610.4L1184 610.8L1184.5 610.4L1185 610.5L1185.5 610.8L1186 610.9L1186.5 610.5L1187 611.1L1187.5 610.0L1188 610.4L1188.5 610.7L1189 609.6L1189.5 610.9L1190 610.5L1190.5 610.9L1191 610.8L1191.5 610.0L1192 611.1L1192.5 611.1L1193 611.2L1193.5 610.2L1194 610.7L1194.5 610.7L1195 610.3L1195.5 610.7L1196 610.7L1196.5 610.0L1197 611.6L1197.5 612.5L1198 610.9L1198.5 610.6L1199 610.7L1199.5 610.8L1200 611.0L1200.5 611.0L1201 610.5L1201.5 609.9L1202 610.0L1202.5 609.8L1203 610.4L1203.5 610.3L1204 611.4L1204.5 611.1L1205 610.7L1205.5 611.1L1206 610.3L1206.5 610.9L1207 611.1L1207.5 610.7L1208 612.1L1208.5 610.7L1209 610.7L1209.5 610.5L1210 610.1L1210.5 609.9L1211 610.6L1211.5 610.6L1212 610.6L1212.5 610.2L1213 610.0L1213.5 610.7L1214 610.0L1214.5 610.8L1215 610.1L1215.5 611.0L1216 610.4L1216.5 610.8L1217 610.3L1217.5 610.2L1218 610.5L1218.5 610.4L1219 610.6L1219.5 610.6L1220 610.2L1220.5 611.0L1221 610.8L1221.5 610.6L1222 610.6L1222.5 610.6L1223 610.4L1223.5 610.7L1224 610.7L1224.5 609.9L1225 610.9L1225.5 610.4L1226 610.7L1226.5 610.3L1227 610.5L1227.5 610.6L1228 609.7L1228.5 610.7L1229 610.7L1229.5 612.4L1230 610.5L1230.5 611.0L1231 610.4L1231.5 609.9L1232 610.7L1232.5 610.2L1233 610.8L1233.5 610.7L1234 610.7L1234.5 609.8L1235 610.2L1235.5 610.4L1236 611.6L1236.5 610.0L1237 610.7L1237.5 610.3L1238 610.8L1238.5 610.4L1239 610.8L1239.5 610.7L1240 610.4L1240.5 613.1L1241 610.4L1241.5 610.5L1242 609.7L1242.5 609.9L1243 609.9L1243.5 610.4L1244 610.4L1244.5 610.5L1245 610.7L1245.5 610.8L1246 610.3L1246.5 610.8L1247 610.2L1247.5 609.9L1248 610.5L1248.5 610.0L1249 610.1L1249.5 610.1L1250 611.0L1250.5 610.5L1251 610.2L1251.5 610.2L1252 610.6L1252.5 610.4L1253 610.0L1253.5 610.7L1254 610.6L1254.5 610.4L1255 610.7L1255.5 610.2L1256 609.8L1256.5 610.7L1257 610.1L1257.5 610.1L1258 610.2L1258.5 610.4L1259 609.6L1259.5 610.1L1260 609.9L1260.5 610.5L1261 610.0L1261.5 609.7L1262 610.5L1262.5 610.0L1263 609.6L1263.5 609.7L1264 610.3L1264.5 609.9L1265 610.1L1265.5 609.1L1266 609.2L1266.5 610.0L1267 608.9L1267.5 609.1L1268 609.6L1268.5 609.5L1269 608.6L1269.5 609.1L1270 609.4L1270.5 609.0L1271 608.4L1271.5 608.9L1272 608.3L1272.5 608.7L1273 607.7L1273.5 608.4L1274 607.5L1274.5 607.8L1275 607.1L1275.5 606.2L1276 606.4L1276.5 606.2L1277 606.2L1277.5 604.9L1278 604.2L1278.5 602.9L1279 602.5L1279.5 601.7L1280 600.8L1280.5 599.4L1281 598.3L1281.5 597.2L1282 595.3L1282.5 594.8L1283 592.7L1283.5 591.0L1284 589.4L1284.5 588.5L1285 587.5L1285.5 586.5L1286 586.0L1286.5 585.6L1287 585.7L1287.5 586.0L1288 586.7L1288.5 587.7L1289 588.9L1289.5 590.0L1290 591.8L1290.5 592.4L1291 594.2L1291.5 595.7L1292 597.1L1292.5 598.9L1293 599.8L1293.5 601.6L1294 602.2L1294.5 602.3L1295 603.9L1295.5 604.7L1296 605.0L1296.5 605.5L1297 606.2L1297.5 606.0L1298 606.8L1298.5 607.0L1299 607.2L1299.5 608.4L1300 608.0L1300.5 608.7L1301 608.2L1301.5 608.8L1302 608.8L1302.5 608.8L1303 609.3L1303.5 608.8L1304 609.4L1304.5 609.5L1305 608.9L1305.5 609.8L1306 609.2L1306.5 609.0L1307 609.9L1307.5 609.4L1308 609.8L1308.5 610.0L1309 609.8L1309.5 609.9L1310 609.9L1310.5 609.9L1311 609.8L1311.5 610.5L1312 609.9L1312.5 610.1L1313 609.8L1313.5 610.1L1314 610.6L1314.5 610.5L1315 610.3L1315.5 610.1L1316 610.5L1316.5 610.7L1317 610.4L1317.5 609.5L1318 610.7L1318.5 609.6L1319 610.6L1319.5 610.3L1320 610.4L1320.5 610.0L1321 610.3L1321.5 610.5L1322 610.5L1322.5 610.4L1323 610.5L1323.5 610.5L1324 612.7L1324.5 610.8L1325 610.1L1325.5 610.6L1326 610.1L1326.5 610.5L1327 610.1L1327.5 610.9L1328 610.4L1328.5 610.5L1329 610.1L1329.5 612.1L1330 609.9L1330.5 610.5L1331 610.1L1331.5 609.8L1332 610.9L1332.5 610.7L1333 610.8L1333.5 610.4L1334 610.7L1334.5 610.5L1335 610.4L1335.5 610.1L1336 610.4L1336.5 610.5L1337 610.4L1337.5 610.3L1338 610.6L1338.5 609.7L1339 610.5L1339.5 610.4L1340 610.6L1340.5 610.4L1341 610.1L1341.5 610.6L1342 610.6L1342.5 611.1L1343 610.6L1343.5 610.6L1344 610.7L1344.5 611.4L1345 610.8L1345.5 610.8L1346 610.6L1346.5 610.3L1347 610.9L1347.5 610.8L1348 610.9L1348.5 610.3L1349 610.9L1349.5 611.2L1350 610.2L1350.5 611.0L1351 611.5L1351.5 610.8L1352 610.7L1352.5 610.3L1353 610.9L1353.5 610.5L1354 610.6L1354.5 610.6L1355 611.1L1355.5 610.7L1356 610.7L1356.5 610.8L1357 610.5L1357.5 610.5L1358 610.6L1358.5 611.3L1359 611.4L1359.5 610.9L1360 610.7L1360.5 610.6L1361 610.7L1361.5 610.9L1362 610.3L1362.5 611.1L1363 611.3L1363.5 610.8L1364 610.5L1364.5 611.1L1365 610.8L1365.5 611.1L1366 611.2L1366.5 611.0L1367 611.9L1367.5 611.2L1368 610.9L1368.5 611.0L1369 610.8L1369.5 611.2L1370 610.8L1370.5 611.1L1371 610.5L1371.5 611.3L1372 610.3L1372.5 610.3L1373 610.8L1373.5 609.7L1374 610.5L1374.5 610.7L1375 610.7L1375.5 610.8L1376 610.6L1376.5 610.8L1377 610.5L1377.5 610.5L1378 610.7L1378.5 610.8L1379 610.3L1379.5 611.0L1380 610.5L1380.5 611.0L1381 610.7L1381.5 610.8L1382 610.8L1382.5 610.5L1383 611.0L1383.5 610.6L1384 610.8L1384.5 611.1L1385 611.4L1385.5 610.8L1386 611.0L1386.5 610.9L1387 610.7L1387.5 610.8L1388 610.6L1388.5 610.7L1389 610.9L1389.5 610.8L1390 610.9L1390.5 610.5L1391 610.3L1391.5 610.8L1392 611.0L1392.5 610.7L1393 610.5L1393.5 611.7L1394 610.5L1394.5 611.1L1395 610.7L1395.5 610.7L1396 610.6L1396.5 610.6L1397 611.1L1397.5 610.6L1398 610.9L1398.5 610.1L1399 610.5L1399.5 610.8L1400 610.9L1400.5 610.6L1401 611.4L1401.5 610.7L1402 610.9L1402.5 610.9L1403 610.4L1403.5 610.7L1404 610.7L1404.5 610.7L1405 610.7L1405.5 610.5L1406 610.5L1406.5 611.0L1407 610.8L1407.5 610.7L1408 610.2L1408.5 610.5L1409 610.8L1409.5 610.6L1410 610.7L1410.5 610.5L1411 610.8L1411.5 610.6L1412 610.3L1412.5 610.9L1413 610.4L1413.5 610.1L1414 609.8L1414.5 610.9L1415 610.1L1415.5 611.2L1416 610.9L1416.5 610.8L1417 610.5L1417.5 609.8L1418 610.2L1418.5 610.0L1419 610.2L1419.5 610.5L1420 610.4L1420.5 610.8L1421 609.9L1421.5 609.7L1422 609.8L1422.5 610.2L1423 610.8L1423.5 610.3L1424 610.0L1424.5 610.2L1425 609.9L1425.5 610.0L1426 610.2L1426.5 609.9L1427 609.7L1427.5 609.5L1428 609.9L1428.5 609.9L1429 610.0L1429.5 609.3L1430 609.4L1430.5 609.4L1431 609.3L1431.5 609.0L1432 608.5L1432.5 609.1L1433 609.1L1433.5 608.3L1434 608.1L1434.5 608.2L1435 607.7L1435.5 607.9L1436 607.1L1436.5 606.7L1437 606.6L1437.5 605.5L1438 604.6L1438.5 603.4L1439 603.2L1439.5 602.5L1440 601.6L1440.5 600.1L1441 598.9L1441.5 597.2L1442 596.6L1442.5 593.8L1443 592.3L1443.5 592.2L1444 589.2L1444.5 587.5L1445 586.4L1445.5 585.1L1446 583.9L1446.5 583.3L1447 582.9L1447.5 582.9L1448 583.3L1448.5 584.1L1449 585.3L1449.5 586.7L1450 588.4L1450.5 590.0L1451 591.7L1451.5 593.0L1452 594.7L1452.5 596.3L1453 597.5L1453.5 598.9L1454 600.6L1454.5 601.3L1455 603.2L1455.5 603.4L1456 604.3L1456.5 605.4L1457 605.6L1457.5 606.3L1458 607.1L1458.5 607.2L1459 607.7L1459.5 609.2L1460 608.5L1460.5 608.3L1461 608.3L1461.5 609.0L1462 609.1L1462.5 608.8L1463 608.9L1463.5 609.2L1464 609.3L1464.5 609.6L1465 609.4L1465.5 609.4L1466 609.4L1466.5 609.3L1467 610.3L1467.5 610.2L1468 609.7L1468.5 610.0L1469 610.3L1469.5 610.0L1470 609.9L1470.5 610.5L1471 609.9L1471.5 610.6L1472 609.9L1472.5 610.5L1473 610.0L1473.5 610.7L1474 610.7L1474.5 610.2L1475 610.5L1475.5 611.0L1476 609.9L1476.5 610.2L1477 610.2L1477.5 610.8L1478 610.6L1478.5 610.8L1479 610.9L1479.5 610.3L1480 610.2L1480.5 610.7L1481 611.6L1481.5 610.5L1482 610.6L1482.5 610.9L1483 611.1L1483.5 610.6L1484 611.0L1484.5 610.6L1485 610.2L1485.5 611.2L1486 610.5L1486.5 610.4L1487 610.7L1487.5 611.0L1488 611.5L1488.5 610.5L1489 610.6L1489.5 610.9L1490 611.0L1490.5 610.7L1491 610.5L1491.5 610.6L1492 610.8L1492.5 610.7L1493 610.9L1493.5 610.9L1494 611.0L1494.5 611.1L1495 611.3L1495.5 610.9L1496 610.8L1496.5 610.2L1497 610.9L1497.5 610.6L1498 610.7L1498.5 610.7L1499 610.2L1499.5 612.9L1500 610.6L1500.5 610.6L1501 611.2L1501.5 610.4L1502 611.0L1502.5 610.4L1503 611.1L1503.5 610.5L1504 610.9L1504.5 611.3L1505 610.7L1505.5 610.4L1506 610.8L1506.5 610.6L1507 610.9L1507.5 611.8L1508 610.6L1508.5 610.4L1509 610.6L1509.5 610.5L1510 610.4L1510.5 610.8L1511 610.5L1511.5 610.9L1512 610.3L1512.5 610.2L1513 611.0L1513.5 610.9L1514 610.6L1514.5 610.7L1515 610.5L1515.5 610.6L1516 610.6L1516.5 610.8L1517 610.6L1517.5 610.0L1518 609.6L1518.5 610.7L1519 610.8L1519.5 610.2L1520 609.4L1520.5 610.2L1521 609.9L1521.5 609.6L1522 609.5L1522.5 608.8L1523 609.0L1523.5 610.3L1524 609.1L1524.5 609.4L1525 608.5L1525.5 608.6L1526 608.4L1526.5 607.9L1527 608.4L1527.5 607.7L1528 608.0L1528.5 607.9L1529 607.5L1529.5 607.5L1530 608.0L1530.5 608.2L1531 607.4L1531.5 607.8L1532 607.6L1532.5 608.2L1533 608.2L1533.5 608.3L1534 607.8L1534.5 607.6L1535 608.2L1535.5 608.8L1536 608.3L1536.5 609.1L1537 609.0L1537.5 608.8L1538 609.0L1538.5 608.7L1539 609.5L1539.5 609.3L1540 609.8L1540.5 609.2L1541 609.6L1541.5 609.5L1542 608.7L1542.5 610.1L1543 609.8L1543.5 609.0L1544 610.1L1544.5 610.2L1545 610.2L1545.5 609.5L1546 609.8L1546.5 609.8L1547 609.4L1547.5 609.5L1548 609.6L1548.5 611.1L1549 610.0L1549.5 609.0L1550 609.4L1550.5 609.2L1551 609.1L1551.5 609.1L1552 608.8L1552.5 608.7L1553 608.7L1553.5 608.2L1554 608.1L1554.5 608.4L1555 607.7L1555.5 608.0L1556 607.8L1556.5 607.7L1557 607.1L1557.5 606.7L1558 606.6L1558.5 606.6L1559 605.9L1559.5 605.0L1560 604.6L1560.5 603.6L1561 603.5L1561.5 602.6L1562 601.6L1562.5 601.2L1563 600.0L1563.5 599.1L1564 598.6L1564.5 597.9L1565 596.8L1565.5 595.2L1566 594.2L1566.5 592.7L1567 591.9L1567.5 590.8L1568 589.6L1568.5 588.7L1569 587.8L1569.5 587.4L1570 586.5L1570.5 586.1L1571 586.1L1571.5 586.1L1572 586.4L1572.5 586.9L1573 587.6L1573.5 588.3L1574 589.6L1574.5 590.2L1575 591.4L1575.5 592.8L1576 593.8L1576.5 594.4L1577 595.5L1577.5 596.2L1578 597.7L1578.5 598.5L1579 599.8L1579.5 600.1L1580 600.9L1580.5 601.6L1581 603.0L1581.5 602.7L1582 603.5L1582.5 604.2L1583 604.2L1583.5 604.5L1584 605.2L1584.5 605.3L1585 604.1L1585.5 605.1L1586 605.2L1586.5 605.1L1587 605.1L1587.5 604.6L1588 604.9L1588.5 604.5L1589 603.5L1589.5 603.5L1590 603.1L1590.5 602.7L1591 602.5L1591.5 601.0L1592 601.5L1592.5 600.6L1593 600.5L1593.5 599.7L1594 599.6L1594.5 598.2L1595 598.1L1595.5 597.1L1596 596.8L1596.5 596.3L1597 595.8L1597.5 595.5L1598 595.4L1598.5 595.1L1599 595.1L1599.5 595.3L1600 595.5L1600.5 595.9L1601 596.3L1601.5 596.4L1602 597.4L1602.5 598.4L1603 598.9L1603.5 598.9L1604 600.2L1604.5 601.0L1605 600.8L1605.5 602.5L1606 602.7L1606.5 602.7L1607 603.6L1607.5 603.9L1608 605.1L1608.5 605.7L1609 605.3L1609.5 606.0L1610 606.8L1610.5 606.9L1611 607.6L1611.5 607.5L1612 607.4L1612.5 608.0L1613 608.3L1613.5 608.7L1614 608.6L1614.5 608.7L1615 609.3L1615.5 609.3L1616 609.7L1616.5 609.7L1617 609.6L1617.5 609.5L1618 609.5L1618.5 609.6L1619 610.2L1619.5 609.3L1620 609.6L1620.5 609.8L1621 610.3L1621.5 610.6L1622 610.2L1622.5 610.3L1623 610.2L1623.5 610.7L1624 611.3L1624.5 610.3L1625 610.5L1625.5 610.1L1626 610.4L1626.5 610.5L1627 610.8L1627.5 610.8L1628 610.7L1628.5 610.6L1629 610.6L1629.5 610.7L1630 610.1L1630.5 610.3L1631 610.9L1631.5 610.5L1632 610.9L1632.5 610.7L1633 611.3L1633.5 611.2L1634 611.1L1634.5 611.0L1635 610.9L1635.5 611.0L1636 611.4L1636.5 610.2L1637 610.6L1637.5 610.9L1638 611.5L1638.5 611.6L1639 611.5L1639.5 611.0L1640 612.2L1640.5 611.0L1641 613.0L1641.5 611.4L1642 611.2L1642.5 610.9L1643 610.7L1643.5 610.8L1644 611.0L1644.5 611.6L1645 611.3L1645.5 611.9L1646 611.3L1646.5 611.5L1647 611.2L1647.5 611.3L1648 611.3L1648.5 610.9L1649 611.3L1649.5 611.6L1650 611.2L1650.5 611.0L1651 611.0L1651.5 611.0L1652 611.0L1652.5 611.0L1653 611.3L1653.5 611.2L1654 611.8L1654.5 611.8L1655 611.4L1655.5 611.4L1656 611.9L1656.5 611.5L1657 611.4L1657.5 612.0L1658 611.4L1658.5 611.3L1659 611.4L1659.5 611.6L1660 611.5L1660.5 610.6L1661 611.3L1661.5 611.1L1662 611.3L1662.5 611.3L1663 611.5L1663.5 611.1L1664 611.5L1664.5 611.1L1665 611.4L1665.5 611.4L1666 611.4L1666.5 611.3L1667 611.2L1667.5 611.4L1668 611.5L1668.5 611.3L1669 611.6L1669.5 610.9L1670 611.2L1670.5 611.5L1671 611.3L1671.5 611.3L1672 611.1L1672.5 610.8L1673 611.1L1673.5 611.6L1674 611.3L1674.5 611.6L1675 611.4L1675.5 611.4L1676 611.6L1676.5 611.3L1677 611.2L1677.5 611.6L1678 611.6L1678.5 611.5L1679 611.3L1679.5 611.1L1680 610.8L1680.5 611.1L1681 611.0L1681.5 610.7L1682 610.8L1682.5 610.8L1683 611.1L1683.5 610.4L1684 610.4L1684.5 610.0L1685 610.3L1685.5 610.2L1686 609.5L1686.5 610.4L1687 610.2L1687.5 609.6L1688 609.3L1688.5 609.3L1689 609.8L1689.5 608.9L1690 608.7L1690.5 608.9L1691 608.7L1691.5 608.4L1692 608.4L1692.5 608.2L1693 608.0L1693.5 608.3L1694 608.2L1694.5 607.9L1695 608.0L1695.5 608.2L1696 608.3L1696.5 608.2L1697 608.4L1697.5 608.4L1698 609.2L1698.5 608.7L1699 609.2L1699.5 609.2L1700 609.5L1700.5 609.8L1701 609.3L1701.5 609.2L1702 609.4L1702.5 610.0L1703 609.7L1703.5 610.1L1704 610.7L1704.5 610.6L1705 610.8L1705.5 610.9L1706 611.4L1706.5 611.0L1707 610.8L1707.5 611.4L1708 611.3L1708.5 611.6L1709 611.7L1709.5 611.1L1710 611.7L1710.5 611.8L1711 611.5L1711.5 611.3L1712 610.8L1712.5 611.9L1713 611.0L1713.5 611.5L1714 611.6L1714.5 611.4L1715 611.7L1715.5 611.8L1716 612.0L1716.5 611.6L1717 611.7L1717.5 611.8L1718 611.9L1718.5 611.5L1719 611.6L1719.5 612.0L1720 611.7L1720.5 611.8L1721 612.0L1721.5 611.9L1722 611.8L1722.5 611.7L1723 611.8L1723.5 611.6L1724 612.4L1724.5 612.1L1725 611.3L1725.5 611.6L1726 611.6L1726.5 612.0L1727 611.6L1727.5 612.0L1728 611.7L1728.5 611.7L1729 612.0L1729.5 611.9L1730 611.6L1730.5 612.7L1731 611.7L1731.5 611.6L1732 611.6L1732.5 612.1L1733 611.6L1733.5 611.5L1734 612.1L1734.5 611.5L1735 611.6L1735.5 612.1L1736 611.7L1736.5 612.5L1737 612.0L1737.5 612.0L1738 612.5L1738.5 612.1L1739 612.3L1739.5 611.7L1740 612.1L1740.5 612.1L1741 611.8L1741.5 612.2L1742 612.8L1742.5 612.2L1743 611.3L1743.5 611.8L1744 611.6L1744.5 611.7L1745 611.2L1745.5 612.1L1746 612.0L1746.5 611.9L1747 611.6L1747.5 611.5L1748 612.0L1748.5 611.6L1749 611.6L1749.5 611.3L1750 610.9L1750.5 611.4L1751 612.1L1751.5 611.7L1752 612.2L1752.5 611.9L1753 611.0L1753.5 611.8L1754 611.5L1754.5 611.7L1755 611.3L1755.5 612.6L1756 612.3L1756.5 613.0L1757 612.1L1757.5 611.7L1758 612.2L1758.5 611.6L1759 612.2L1759.5 612.4L1760 611.7L1760.5 612.0L1761 611.9L1761.5 611.7L1762 612.0L1762.5 611.9L1763 612.0L1763.5 612.2L1764 611.8L1764.5 611.7L1765 611.6L1765.5 611.6L1766 612.6L1766.5 612.0L1767 612.0L1767.5 611.3L1768 611.7L1768.5 612.2L1769 612.5L1769.5 612.0L1770 612.0L1770.5 611.9L1771 611.8L1771.5 611.5L1772 612.0L1772.5 612.1L1773 611.9L1773.5 611.8L1774 612.2L1774.5 611.4L1775 612.0L1775.5 611.9L1776 612.1L1776.5 611.8L1777 611.5L1777.5 611.8L1778 612.8L1778.5 612.3L1779 611.7L1779.5 612.3L1780 612.0L1780.5 611.9L1781 611.4L1781.5 611.4L1782 611.5L1782.5 611.1L1783 612.0L1783.5 613.4L1784 611.4L1784.5 611.7L1785 611.4L1785.5 611.4L1786 611.1L1786.5 611.2L1787 611.5L1787.5 611.7L1788 610.7L1788.5 610.9L1789 610.8L1789.5 610.2L1790 610.1L1790.5 610.5L1791 610.6L1791.5 610.0L1792 610.1L1792.5 610.1L1793 610.4L1793.5 610.1L1794 609.6L1794.5 609.4L1795 609.9L1795.5 609.9L1796 609.1L1796.5 609.6L1797 610.0L1797.5 609.6L1798 609.6L1798.5 610.4L1799 610.1L1799.5 609.2L1800 609.7L1800.5 609.3L1801 609.5L1801.5 609.9L1802 609.8L1802.5 609.5L1803 608.9L1803.5 610.1L1804 609.8L1804.5 610.2L1805 610.3L1805.5 610.2L1806 610.2L1806.5 610.5L1807 610.3L1807.5 610.2L1808 610.9L1808.5 611.5L1809 610.5L1809.5 611.0L1810 611.3L1810.5 610.8L1811 610.7L1811.5 611.1L1812 611.4L1812.5 611.1L1813 611.0L1813.5 611.1L1814 611.8L1814.5 611.9L1815 611.8L1815.5 612.0L1816 612.0L1816.5 612.2L1817 611.7L1817.5 611.6L1818 611.7L1818.5 611.9L1819 612.0L1819.5 611.5L1820 612.7L1820.5 611.9L1821 611.5L1821.5 611.9L1822 612.0L1822.5 612.2L1823 611.6L1823.5 612.0L1824 612.2L1824.5 613.0L1825 612.2L1825.5 612.0L1826 612.2L1826.5 612.0L1827 612.5L1827.5 612.8L1828 612.2L1828.5 611.6L1829 612.6L1829.5 612.5L1830 611.8L1830.5 611.9L1831 612.4L1831.5 612.1L1832 611.7L1832.5 612.0L1833 612.1L1833.5 612.3L1834 612.4L1834.5 611.9L1835 612.0L1835.5 612.0L1836 612.3L1836.5 612.3L1837 612.0L1837.5 612.9L1838 612.4L1838.5 613.6L1839 612.1L1839.5 612.2L1840 611.9L1840.5 612.1L1841 611.6L1841.5 612.1L1842 612.0L1842.5 612.1L1843 612.0L1843.5 611.6L1844 612.3L1844.5 612.4L1845 612.9L1845.5 611.6L1846 612.2L1846.5 612.3L1847 612.1L1847.5 612.2L1848 612.5L1848.5 612.2L1849 611.7L1849.5 611.5L1850 612.2L1850.5 612.1L1851 612.1L1851.5 612.3L1852 612.2L1852.5 612.3L1853 612.2L1853.5 612.0L1854 612.2" stroke="#0000ff"/>
<path d="M145.0 906.3L145.5 906.5L146 906.6L146.5 906.2L147 906.3L147.5 908.0L148 905.5L148.5 906.3L149 906.7L149.5 905.7L150 907.0L150.5 906.5L151 907.2L151.5 906.3L152 906.7L152.5 905.5L153 906.3L153.5 905.5L154 906.3L154.5 906.2L155 905.3L155.5 906.3L156 905.6L156.5 906.3L157 906.6L157.5 905.5L158 906.7L158.5 905.9L159 907.0L159.5 905.6L160 906.1L160.5 906.8L161 906.8L161.5 906.2L162 906.0L162.5 905.2L163 906.7L163.5 905.7L164 905.2L164.5 906.7L165 906.2L165.5 905.7L166 906.0L166.5 905.7L167 905.7L167.5 905.8L168 906.8L168.5 905.3L169 904.8L169.5 905.5L170 904.7L170.5 904.7L171 905.5L171.5 905.2L172 905.1L172.5 905.4L173 906.2L173.5 905.6L174 905.0L174.5 905.0L175 904.5L175.5 904.5L176 905.7L176.5 905.2L177 905.1L177.5 905.7L178 904.8L178.5 904.9L179 905.8L179.5 905.2L180 905.2L180.5 906.0L181 904.2L181.5 905.3L182 904.4L182.5 905.8L183 905.1L183.5 905.3L184 904.4L184.5 904.9L185 905.1L185.5 905.6L186 904.5L186.5 905.6L187 904.4L187.5 904.8L188 904.5L188.5 905.0L189 903.5L189.5 906.8L190 905.6L190.5 903.4L191 904.8L191.5 904.2L192 904.1L192.5 903.8L193 904.4L193.5 904.5L194 904.3L194.5 904.1L195 905.2L195.5 903.6L196 905.0L196.5 904.1L197 903.6L197.5 903.3L198 903.5L198.5 903.4L199 902.8L199.5 903.8L200 902.6L200.5 903.3L201 904.3L201.5 903.7L202 903.4L202.5 903.1L203 902.6L203.5 902.9L204 903.1L204.5 902.9L205 904.1L205.5 903.3L206 902.2L206.5 902.6L207 902.1L207.5 901.9L208 902.2L208.5 902.5L209 902.1L209.5 902.3L210 901.3L210.5 901.5L211 901.6L211.5 901.5L212 901.7L212.5 901.3L213 901.8L213.5 902.4L214 901.2L214.5 901.9L215 900.8L215.5 902.4L216 901.3L216.5 901.6L217 902.2L217.5 900.8L218 901.2L218.5 900.8L219 901.4L219.5 901.1L220 902.9L220.5 901.0L221 901.6L221.5 900.5L222 901.4L222.5 900.6L223 900.9L223.5 900.7L224 901.3L224.5 901.0L225 900.8L225.5 901.0L226 900.6L226.5 900.0L227 900.2L227.5 900.9L228 900.9L228.5 900.2L229 899.9L229.5 899.4L230 899.4L230.5 900.2L231 900.7L231.5 900.5L232 899.1L232.5 900.1L233 900.0L233.5 900.4L234 899.2L234.5 898.4L235 898.7L235.5 900.1L236 899.5L236.5 899.6L237 899.7L237.5 899.8L238 900.4L238.5 900.6L239 898.3L239.5 899.5L240 898.4L240.5 899.3L241 899.1L241.5 897.9L242 899.3L242.5 900.1L243 899.5L243.5 898.9L244 899.5L244.5 900.0L245 899.2L245.5 900.2L246 899.1L246.5 898.9L247 899.0L247.5 899.6L248 899.6L248.5 899.2L249 899.3L249.5 899.8L250 898.9L250.5 899.0L251 899.9L251.5 899.8L252 899.6L252.5 898.9L253 898.8L253.5 899.8L254 899.0L254.5 899.9L255 898.8L255.5 899.0L256 898.8L256.5 898.2L257 898.5L257.5 898.4L258 898.8L258.5 898.7L259 898.5L259.5 899.7L260 898.6L260.5 898.5L261 899.7L261.5 899.3L262 898.9L262.5 898.4L263 899.0L263.5 898.8L264 899.0L264.5 898.4L265 898.0L265.5 898.7L266 899.2L266.5 899.2L267 899.0L267.5 898.1L268 898.1L268.5 899.3L269 898.6L269.5 898.7L270 898.2L270.5 898.8L271 898.9L271.5 898.8L272 899.4L272.5 898.7L273 897.9L273.5 897.8L274 899.3L274.5 898.4L275 899.8L275.5 898.9L276 898.3L276.5 898.8L277 899.5L277.5 899.1L278 897.7L278.5 898.4L279 899.1L279.5 898.2L280 899.0L280.5 899.2L281 898.5L281.5 899.9L282 899.4L282.5 898.4L283 898.9L283.5 898.5L284 899.3L284.5 898.5L285 899.1L285.5 899.1L286 899.3L286.5 899.5L287 898.3L287.5 899.3L288 899.0L288.5 898.5L289 898.9L289.5 898.5L290 898.4L290.5 898.8L291 899.4L291.5 899.5L292 899.3L292.5 899.0L293 899.3L293.5 899.9L294 898.4L294.5 899.5L295 898.9L295.5 899.1L296 899.5L296.5 899.4L297 898.9L297.5 899.3L298 898.9L298.5 900.0L299 898.9L299.5 899.4L300 898.7L300.5 898.7L301 899.0L301.5 899.0L302 899.2L302.5 899.2L303 899.4L303.5 898.9L304 899.5L304.5 898.0L305 898.1L305.5 898.3L306 899.3L306.5 898.9L307 898.6L307.5 898.1L308 899.0L308.5 898.2L309 898.8L309.5 899.5L310 898.7L310.5 899.2L311 898.5L311.5 898.7L312 900.0L312.5 899.8L313 899.1L313.5 899.0L314 898.5L314.5 898.3L315 899.8L315.5 898.7L316 899.6L316.5 899.4L317 899.0L317.5 899.1L318 899.2L318.5 899.4L319 899.1L319.5 899.2L320 899.3L320.5 899.9L321 898.5L321.5 898.7L322 899.3L322.5 899.4L323 900.5L323.5 899.4L324 899.7L324.5 899.5L325 898.7L325.5 898.7L326 898.8L326.5 899.8L327 899.6L327.5 898.6L328 898.7L328.5 899.1L329 898.9L329.5 899.7L330 899.2L330.5 898.7L331 899.4L331.5 899.7L332 899.1L332.5 899.4L333 900.1L333.5 899.0L334 898.4L334.5 898.6L335 900.4L335.5 899.0L336 899.5L336.5 898.9L337 899.1L337.5 900.6L338 899.4L338.5 899.1L339 900.3L339.5 899.7L340 899.1L340.5 900.3L341 899.9L341.5 899.9L342 900.1L342.5 900.4L343 900.7L343.5 899.6L344 899.5L344.5 900.3L345 899.1L345.5 900.5L346 900.5L346.5 899.2L347 899.9L347.5 899.8L348 899.6L348.5 899.9L349 900.0L349.5 899.4L350 900.1L350.5 900.3L351 900.0L351.5 900.2L352 900.0L352.5 900.5L353 900.1L353.5 900.3L354 899.7L354.5 899.2L355 900.8L355.5 900.9L356 900.6L356.5 899.8L357 901.1L357.5 900.5L358 899.7L358.5 900.6L359 900.0L359.5 900.2L360 900.8L360.5 901.2L361 900.2L361.5 900.8L362 899.4L362.5 901.0L363 900.2L363.5 900.6L364 902.0L364.5 900.4L365 900.4L365.5 900.8L366 901.4L366.5 901.3L367 901.9L367.5 900.1L368 901.2L368.5 900.8L369 900.8L369.5 901.3L370 900.8L370.5 901.5L371 901.0L371.5 902.4L372 901.1L372.5 901.3L373 901.5L373.5 900.4L374 901.3L374.5 901.1L375 900.9L375.5 901.8L376 901.9L376.5 902.1L377 900.9L377.5 900.6L378 901.3L378.5 900.9L379 901.4L379.5 901.2L380 901.1L380.5 901.4L381 901.2L381.5 901.6L382 900.7L382.5 902.2L383 902.9L383.5 900.7L384 900.6L384.5 902.4L385 901.4L385.5 901.5L386 901.6L386.5 900.8L387 900.9L387.5 901.7L388 900.5L388.5 900.9L389 902.5L389.5 901.3L390 901.6L390.5 901.7L391 903.2L391.5 901.4L392 902.4L392.5 901.6L393 902.2L393.5 902.0L394 901.4L394.5 901.5L395 901.6L395.5 902.2L396 902.7L396.5 901.4L397 902.2L397.5 901.8L398 901.8L398.5 901.5L399 902.5L399.5 901.9L400 903.0L400.5 901.0L401 901.9L401.5 901.9L402 902.1L402.5 901.9L403 902.6L403.5 902.1L404 902.6L404.5 901.9L405 902.0L405.5 902.6L406 901.8L406.5 902.8L407 902.5L407.5 902.6L408 902.5L408.5 902.6L409 903.0L409.5 902.6L410 902.4L410.5 901.6L411 901.8L411.5 902.8L412 902.2L412.5 903.0L413 903.0L413.5 903.5L414 904.5L414.5 902.8L415 902.6L415.5 903.2L416 902.3L416.5 902.3L417 903.5L417.5 902.7L418 902.9L418.5 901.8L419 902.0L419.5 903.4L420 902.3L420.5 903.2L421 902.8L421.5 904.7L422 902.3L422.5 902.9L423 902.1L423.5 903.2L424 903.8L424.5 903.0L425 902.8L425.5 904.1L426 902.8L426.5 902.8L427 903.6L427.5 902.5L428 902.8L428.5 903.3L429 903.4L429.5 904.1L430 903.6L430.5 902.9L431 903.8L431.5 903.3L432 903.3L432.5 903.1L433 903.4L433.5 903.5L434 903.1L434.5 903.4L435 902.9L435.5 903.1L436 902.9L436.5 902.6L437 902.7L437.5 903.6L438 903.1L438.5 903.3L439 902.6L439.5 903.3L440 903.1L440.5 902.9L441 902.3L441.5 904.6L442 903.2L442.5 902.8L443 903.7L443.5 903.6L444 902.3L444.5 903.0L445 902.5L445.5 902.8L446 903.3L446.5 902.7L447 903.7L447.5 902.9L448 904.3L448.5 902.9L449 903.0L449.5 903.8L450 903.1L450.5 902.7L451 902.9L451.5 903.2L452 903.1L452.5 903.5L453 903.5L453.5 903.4L454 903.1L454.5 903.3L455 904.2L455.5 902.9L456 903.7L456.5 903.5L457 904.2L457.5 904.2L458 903.3L458.5 904.6L459 903.1L459.5 903.4L460 903.6L460.5 902.6L461 903.2L461.5 902.6L462 903.8L462.5 903.4L463 903.2L463.5 903.1L464 904.0L464.5 902.9L465 902.7L465.5 903.8L466 902.7L466.5 903.2L467 903.7L467.5 904.3L468 903.9L468.5 903.5L469 903.5L469.5 902.4L470 904.3L470.5 903.4L471 903.9L471.5 904.0L472 903.7L472.5 903.7L473 903.6L473.5 903.6L474 903.1L474.5 903.9L475 903.4L475.5 904.3L476 903.6L476.5 903.7L477 903.8L477.5 903.5L478 903.8L478.5 903.1L479 903.7L479.5 904.1L480 903.7L480.5 904.1L481 903.1L481.5 903.3L482 903.7L482.5 903.6L483 903.3L483.5 903.5L484 903.2L484.5 903.0L485 903.6L485.5 903.8L486 904.5L486.5 904.3L487 903.4L487.5 903.7L488 902.4L488.5 905.0L489 903.3L489.5 903.7L490 905.3L490.5 903.7L491 903.8L491.5 903.6L492 903.3L492.5 903.8L493 903.6L493.5 905.3L494 903.8L494.5 903.9L495 903.8L495.5 903.2L496 903.5L496.5 902.6L497 903.3L497.5 902.8L498 903.3L498.5 903.6L499 904.2L499.5 903.8L500 903.4L500.5 903.8L501 903.7L501.5 902.6L502 903.7L502.5 903.9L503 903.5L503.5 903.6L504 904.0L504.5 904.3L505 903.4L505.5 904.7L506 903.8L506.5 903.4L507 903.9L507.5 904.2L508 903.3L508.5 903.2L509 903.4L509.5 903.9L510 904.0L510.5 904.3L511 904.1L511.5 903.7L512 903.5L512.5 902.6L513 904.0L513.5 903.7L514 903.6L514.5 904.8L515 904.1L515.5 904.1L516 903.7L516.5 904.3L517 905.0L517.5 904.0L518 904.3L518.5 903.8L519 903.9L519.5 904.2L520 904.2L520.5 903.6L521 903.3L521.5 903.7L522 903.6L522.5 904.7L523 904.0L523.5 903.7L524 904.6L524.5 904.9L525 903.7L525.5 903.8L526 904.2L526.5 903.7L527 904.2L527.5 904.9L528 904.7L528.5 904.5L529 903.5L529.5 903.4L530 903.8L530.5 903.8L531 904.1L531.5 904.3L532 903.4L532.5 903.8L533 903.1L533.5 904.0L534 903.7L534.5 903.9L535 903.5L535.5 904.0L536 903.6L536.5 904.8L537 903.4L537.5 904.0L538 903.9L538.5 903.6L539 904.1L539.5 903.7L540 904.4L540.5 904.2L541 904.9L541.5 903.0L542 904.5L542.5 904.4L543 904.4L543.5 902.3L544 903.7L544.5 903.9L545 904.7L545.5 904.4L546 904.3L546.5 904.5L547 904.2L547.5 903.8L548 903.4L548.5 903.1L549 902.7L549.5 903.7L550 904.6L550.5 904.6L551 903.8L551.5 903.7L552 904.2L552.5 903.7L553 904.4L553.5 903.7L554 903.8L554.5 903.6L555 904.0L555.5 903.6L556 903.9L556.5 903.4L557 903.7L557.5 904.1L558 903.6L558.5 903.7L559 903.3L559.5 904.2L560 903.4L560.5 904.0L561 904.3L561.5 904.7L562 904.5L562.5 904.2L563 904.1L563.5 904.3L564 904.0L564.5 904.0L565 904.5L565.5 903.9L566 903.6L566.5 903.6L567 903.9L567.5 904.0L568 903.8L568.5 904.6L569 904.4L569.5 903.6L570 903.6L570.5 903.9L571 904.2L571.5 904.0L572 904.4L572.5 903.5L573 903.9L573.5 903.9L574 904.3L574.5 904.0L575 904.6L575.5 903.4L576 903.4L576.5 904.4L577 904.6L577.5 903.2L578 904.4L578.5 904.0L579 904.4L579.5 904.8L580 903.3L580.5 904.6L581 904.1L581.5 904.0L582 903.4L582.5 904.4L583 904.7L583.5 903.8L584 904.1L584.5 903.2L585 903.8L585.5 904.7L586 903.8L586.5 904.1L587 905.0L587.5 903.9L588 904.3L588.5 903.9L589 904.9L589.5 904.0L590 903.9L590.5 903.8L591 904.3L591.5 903.7L592 903.9L592.5 903.7L593 903.8L593.5 903.7L594 904.7L594.5 903.6L595 904.0L595.5 903.3L596 904.0L596.5 903.6L597 903.5L597.5 904.3L598 904.6L598.5 904.5L599 904.6L599.5 903.7L600 903.8L600.5 903.9L601 903.8L601.5 904.1L602 903.4L602.5 904.3L603 904.6L603.5 904.9L604 905.5L604.5 904.6L605 904.6L605.5 904.3L606 903.8L606.5 904.9L607 904.0L607.5 904.3L608 904.1L608.5 904.9L609 904.5L609.5 903.7L610 904.4L610.5 903.6L611 903.0L611.5 904.6L612 904.3L612.5 905.0L613 904.2L613.5 903.9L614 904.8L614.5 903.7L615 904.9L615.5 904.3L616 903.9L616.5 905.0L617 904.5L617.5 904.4L618 904.4L618.5 904.4L619 904.3L619.5 904.1L620 904.4L620.5 903.8L621 904.1L621.5 904.1L622 904.8L622.5 903.6L623 904.7L623.5 903.7L624 904.4L624.5 904.2L625 905.0L625.5 905.0L626 904.4L626.5 904.0L627 904.1L627.5 904.4L628 904.3L628.5 903.7L629 904.2L629.5 904.6L630 904.3L630.5 904.1L631 904.5L631.5 903.4L632 904.0L632.5 903.8L633 904.6L633.5 903.8L634 904.1L634.5 904.2L635 903.8L635.5 902.9L636 904.5L636.5 903.5L637 904.5L637.5 904.6L638 903.9L638.5 904.7L639 904.3L639.5 904.4L640 903.6L640.5 903.1L641 903.3L641.5 903.4L642 904.0L642.5 903.9L643 903.5L643.5 904.3L644 904.2L644.5 903.9L645 904.1L645.5 904.1L646 903.6L646.5 904.6L647 903.6L647.5 904.3L648 904.2L648.5 903.7L649 904.0L649.5 903.1L650 903.8L650.5 903.8L651 904.1L651.5 904.9L652 904.1L652.5 904.2L653 903.9L653.5 903.6L654 903.8L654.5 904.7L655 904.0L655.5 904.1L656 903.6L656.5 903.7L657 904.0L657.5 904.0L658 904.1L658.5 904.1L659 903.4L659.5 904.3L660 904.6L660.5 903.6L661 903.6L661.5 904.4L662 903.0L662.5 903.8L663 903.8L663.5 903.7L664 904.4L664.5 904.0L665 903.5L665.5 903.5L666 904.3L666.5 903.0L667 903.8L667.5 904.0L668 904.0L668.5 903.8L669 902.6L669.5 903.3L670 902.7L670.5 903.2L671 903.0L671.5 903.2L672 902.3L672.5 901.4L673 901.7L673.5 900.4L674 900.1L674.5 899.8L675 897.3L675.5 895.7L676 894.4L676.5 892.6L677 889.0L677.5 886.7L678 881.5L678.5 877.3L679 873.7L679.5 868.6L680 863.8L680.5 858.0L681 853.8L681.5 849.4L682 845.7L682.5 842.6L683 840.5L683.5 839.9L684 840.2L684.5 841.5L685 844.2L685.5 847.7L686 852.0L686.5 857.0L687 862.6L687.5 867.4L688 871.4L688.5 876.3L689 880.3L689.5 885.3L690 887.9L690.5 891.1L691 892.8L691.5 895.3L692 896.9L692.5 898.8L693 898.8L693.5 900.8L694 901.3L694.5 901.9L695 902.2L695.5 902.0L696 902.6L696.5 902.8L697 902.6L697.5 902.9L698 902.8L698.5 903.3L699 903.5L699.5 903.4L700 903.3L700.5 904.0L701 903.3L701.5 903.7L702 903.7L702.5 904.4L703 904.7L703.5 903.3L704 903.4L704.5 904.1L705 903.7L705.5 904.0L706 903.3L706.5 903.9L707 904.6L707.5 903.9L708 904.5L708.5 903.9L709 903.4L709.5 904.0L710 903.8L710.5 904.6L711 904.0L711.5 903.4L712 904.3L712.5 904.0L713 903.7L713.5 903.6L714 903.9L714.5 904.3L715 903.4L715.5 903.2L716 903.8L716.5 904.3L717 903.3L717.5 903.8L718 904.0L718.5 903.5L719 903.4L719.5 903.8L720 903.9L720.5 904.3L721 903.5L721.5 903.6L722 904.2L722.5 904.3L723 904.4L723.5 903.1L724 904.3L724.5 903.7L725 904.2L725.5 903.0L726 903.1L726.5 903.5L727 904.0L727.5 903.1L728 903.9L728.5 904.3L729 903.3L729.5 903.3L730 902.8L730.5 903.6L731 903.0L731.5 903.6L732 903.0L732.5 903.3L733 903.4L733.5 903.0L734 902.8L734.5 903.5L735 904.1L735.5 903.6L736 902.6L736.5 902.5L737 902.4L737.5 902.3L738 902.6L738.5 902.9L739 902.4L739.5 902.6L740 901.5L740.5 899.9L741 900.0L741.5 900.1L742 898.7L742.5 897.2L743 895.1L743.5 892.7L744 889.7L744.5 885.3L745 881.3L745.5 878.0L746 872.3L746.5 865.5L747 859.6L747.5 853.2L748 846.4L748.5 840.4L749 834.7L749.5 830.2L750 826.7L750.5 824.8L751 824.5L751.5 826.3L752 829.1L752.5 833.7L753 839.0L753.5 845.4L754 851.3L754.5 858.2L755 864.0L755.5 870.8L756 875.9L756.5 880.3L757 884.8L757.5 888.4L758 891.8L758.5 893.2L759 896.0L759.5 897.5L760 897.6L760.5 898.5L761 899.7L761.5 900.8L762 899.8L762.5 901.0L763 900.8L763.5 901.6L764 901.0L764.5 900.9L765 901.2L765.5 901.7L766 900.6L766.5 900.8L767 900.3L767.5 900.8L768 901.4L768.5 900.5L769 900.3L769.5 900.2L770 900.5L770.5 900.1L771 900.8L771.5 899.9L772 900.6L772.5 898.7L773 898.6L773.5 898.8L774 898.6L774.5 899.2L775 898.4L775.5 897.9L776 898.0L776.5 896.8L777 896.0L777.5 896.0L778 895.5L778.5 895.4L779 894.5L779.5 893.6L780 892.4L780.5 891.9L781 890.7L781.5 888.5L782 886.8L782.5 884.9L783 882.7L783.5 880.8L784 876.4L784.5 870.6L785 864.9L785.5 857.5L786 847.9L786.5 837.2L787 825.0L787.5 809.3L788 792.0L788.5 772.1L789 750.8L789.5 729.8L790 706.5L790.5 685.0L791 665.9L791.5 651.2L792 642.0L792.5 639.8L793 644.9L793.5 656.5L794 673.4L794.5 693.7L795 715.1L795.5 738.0L796 760.1L796.5 780.8L797 799.2L797.5 815.4L798 830.1L798.5 842.6L799 852.7L799.5 859.8L800 867.2L800.5 874.1L801 878.8L801.5 881.8L802 885.0L802.5 887.1L803 888.9L803.5 889.7L804 891.2L804.5 892.0L805 894.0L805.5 893.8L806 894.5L806.5 895.8L807 895.8L807.5 896.8L808 897.7L808.5 897.8L809 898.0L809.5 898.4L810 899.3L810.5 899.5L811 899.6L811.5 899.1L812 900.1L812.5 899.8L813 900.5L813.5 900.2L814 900.9L814.5 900.7L815 900.9L815.5 901.4L816 901.6L816.5 901.6L817 901.7L817.5 901.3L818 902.6L818.5 903.5L819 902.5L819.5 902.9L820 902.6L820.5 903.1L821 902.9L821.5 902.0L822 902.7L822.5 902.5L823 903.4L823.5 903.9L824 903.2L824.5 903.2L825 903.6L825.5 903.4L826 903.9L826.5 904.0L827 904.0L827.5 903.7L828 904.0L828.5 902.7L829 904.3L829.5 903.5L830 903.5L830.5 904.1L831 903.8L831.5 903.8L832 903.9L832.5 903.5L833 904.2L833.5 903.7L834 904.1L834.5 904.4L835 904.3L835.5 903.9L836 904.0L836.5 904.1L837 905.4L837.5 904.7L838 904.7L838.5 904.4L839 905.0L839.5 904.1L840 904.1L840.5 905.1L841 904.0L841.5 904.9L842 903.9L842.5 904.3L843 904.2L843.5 904.5L844 904.7L844.5 904.8L845 904.2L845.5 904.4L846 904.7L846.5 905.0L847 904.6L847.5 904.7L848 904.8L848.5 905.1L849 905.3L849.5 904.5L850 904.6L850.5 904.9L851 904.9L851.5 905.1L852 904.1L852.5 904.5L853 904.8L853.5 905.5L854 905.0L854.5 905.5L855 904.9L855.5 904.8L856 905.4L856.5 905.3L857 905.0L857.5 904.8L858 905.0L858.5 905.4L859 905.2L859.5 905.4L860 905.0L860.5 905.6L861 905.7L861.5 904.9L862 905.0L862.5 904.9L863 905.0L863.5 904.5L864 905.5L864.5 903.8L865 905.4L865.5 904.6L866 905.2L866.5 905.2L867 905.8L867.5 904.6L868 905.8L868.5 905.7L869 905.5L869.5 905.4L870 904.5L870.5 905.4L871 905.3L871.5 905.6L872 905.1L872.5 905.9L873 905.1L873.5 904.6L874 904.2L874.5 905.7L875 905.2L875.5 905.4L876 905.2L876.5 905.5L877 905.3L877.5 905.7L878 905.5L878.5 905.4L879 905.4L879.5 905.5L880 905.5L880.5 905.1L881 905.5L881.5 905.5L882 905.6L882.5 904.9L883 905.7L883.5 905.3L884 905.0L884.5 905.2L885 906.0L885.5 905.5L886 905.5L886.5 906.2L887 906.1L887.5 905.5L888 905.9L888.5 905.4L889 905.7L889.5 905.3L890 906.1L890.5 906.1L891 905.2L891.5 905.9L892 904.9L892.5 906.0L893 905.6L893.5 905.3L894 905.3L894.5 906.0L895 905.4L895.5 905.9L896 906.0L896.5 905.6L897 905.1L897.5 906.0L898 905.7L898.5 905.5L899 906.3L899.5 905.8L900 905.5L900.5 905.4L901 905.7L901.5 905.7L902 905.6L902.5 906.4L903 906.3L903.5 905.8L904 905.7L904.5 904.8L905 906.0L905.5 905.4L906 906.5L906.5 905.8L907 905.5L907.5 905.5L908 905.6L908.5 905.3L909 905.6L909.5 905.6L910 906.1L910.5 905.7L911 905.7L911.5 906.2L912 905.1L912.5 905.7L913 905.3L913.5 905.7L914 905.3L914.5 905.8L915 906.3L915.5 905.6L916 905.4L916.5 905.9L917 905.6L917.5 906.1L918 905.1L918.5 905.5L919 905.9L919.5 905.8L920 906.2L920.5 905.8L921 905.7L921.5 906.0L922 905.8L922.5 905.5L923 905.9L923.5 906.8L924 906.2L924.5 905.7L925 905.0L925.5 906.2L926 906.1L926.5 906.2L927 906.0L927.5 905.5L928 906.0L928.5 906.2L929 905.6L929.5 905.8L930 907.5L930.5 905.9L931 907.3L931.5 906.4L932 905.8L932.5 905.5L933 905.8L933.5 906.0L934 905.9L934.5 906.0L935 905.3L935.5 906.2L936 906.6L936.5 907.3L937 905.7L937.5 905.8L938 906.0L938.5 905.9L939 905.5L939.5 905.6L940 905.9L940.5 905.6L941 905.9L941.5 905.8L942 906.1L942.5 906.3L943 905.4L943.5 906.1L944 905.5L944.5 906.3L945 905.6L945.5 905.4L946 907.0L946.5 906.3L947 905.9L947.5 905.5L948 905.8L948.5 905.7L949 905.9L949.5 905.2L950 906.0L950.5 908.0L951 905.9L951.5 906.1L952 906.4L952.5 905.4L953 905.5L953.5 906.5L954 906.1L954.5 906.5L955 906.2L955.5 906.5L956 906.3L956.5 905.7L957 905.8L957.5 906.7L958 905.6L958.5 905.9L959 906.3L959.5 906.4L960 906.2L960.5 906.4L961 906.6L961.5 905.6L962 906.0L962.5 905.6L963 905.6L963.5 905.8L964 906.1L964.5 905.8L965 906.2L965.5 906.0L966 905.9L966.5 905.5L967 906.0L967.5 905.9L968 906.2L968.5 906.1L969 905.8L969.5 906.4L970 906.3L970.5 906.1L971 906.4L971.5 906.4L972 906.0L972.5 905.8L973 905.9L973.5 905.9L974 906.6L974.5 906.1L975 905.5L975.5 906.2L976 905.2L976.5 906.0L977 906.7L977.5 905.9L978 906.2L978.5 905.8L979 905.9L979.5 906.4L980 906.0L980.5 907.2L981 906.4L981.5 906.1L982 907.0L982.5 905.8L983 906.7L983.5 905.8L984 906.7L984.5 906.2L985 906.0L985.5 906.4L986 905.8L986.5 905.9L987 905.7L987.5 905.4L988 906.0L988.5 905.9L989 906.2L989.5 906.3L990 906.1L990.5 906.2L991 905.9L991.5 906.2L992 906.1L992.5 907.3L993 906.1L993.5 906.7L994 906.1L994.5 906.7L995 906.1L995.5 906.3L996 906.0L996.5 906.2L997 906.5L997.5 905.8L998 905.9L998.5 906.0L999 906.2L999.5 906.2L1000 906.2L1000.5 906.2L1001 906.6L1001.5 905.5L1002 906.6L1002.5 906.0L1003 906.0L1003.5 906.5L1004 906.2L1004.5 906.2L1005 906.2L1005.5 906.1L1006 905.6L1006.5 905.7L1007 906.9L1007.5 906.0L1008 905.9L1008.5 906.1L1009 905.8L1009.5 906.3L1010 905.9L1010.5 906.5L1011 906.3L1011.5 905.3L1012 905.8L1012.5 906.4L1013 906.3L1013.5 906.3L1014 906.4L1014.5 906.3L1015 906.1L1015.5 906.4L1016 905.8L1016.5 906.1L1017 906.4L1017.5 905.9L1018 906.5L1018.5 906.1L1019 906.2L1019.5 906.3L1020 906.1L1020.5 905.4L1021 906.5L1021.5 906.4L1022 906.2L1022.5 906.5L1023 906.3L1023.5 906.0L1024 905.9L1024.5 905.7L1025 906.2L1025.5 906.2L1026 906.4L1026.5 905.6L1027 906.1L1027.5 906.1L1028 905.0L1028.5 906.1L1029 905.6L1029.5 905.4L1030 905.8L1030.5 906.2L1031 905.8L1031.5 906.1L1032 906.0L1032.5 905.6L1033 906.6L1033.5 906.5L1034 906.2L1034.5 905.9L1035 906.5L1035.5 906.0L1036 905.9L1036.5 905.3L1037 906.2L1037.5 905.8L1038 907.0L1038.5 906.4L1039 905.5L1039.5 905.3L1040 906.0L1040.5 906.0L1041 906.4L1041.5 905.1L1042 905.8L1042.5 905.6L1043 906.0L1043.5 905.8L1044 905.4L1044.5 905.9L1045 905.6L1045.5 905.6L1046 905.7L1046.5 906.0L1047 905.4L1047.5 905.2L1048 906.3L1048.5 904.7L1049 905.3L1049.5 904.7L1050 905.9L1050.5 905.1L1051 904.6L1051.5 904.4L1052 904.2L1052.5 903.8L1053 904.7L1053.5 904.7L1054 904.7L1054.5 903.8L1055 904.1L1055.5 904.0L1056 903.1L1056.5 902.0L1057 903.0L1057.5 902.4L1058 901.1L1058.5 901.3L1059 900.3L1059.5 899.7L1060 898.6L1060.5 897.5L1061 895.8L1061.5 894.1L1062 892.9L1062.5 890.6L1063 889.0L1063.5 887.4L1064 884.0L1064.5 882.2L1065 879.7L1065.5 877.8L1066 875.9L1066.5 874.6L1067 873.7L1067.5 873.6L1068 874.2L1068.5 875.0L1069 876.7L1069.5 878.5L1070 880.5L1070.5 883.0L1071 885.1L1071.5 887.7L1072 890.1L1072.5 891.4L1073 893.5L1073.5 894.7L1074 896.6L1074.5 897.5L1075 898.6L1075.5 899.9L1076 901.6L1076.5 901.3L1077 902.7L1077.5 902.3L1078 903.3L1078.5 902.8L1079 903.6L1079.5 904.3L1080 904.3L1080.5 904.3L1081 904.9L1081.5 903.9L1082 904.9L1082.5 904.9L1083 904.6L1083.5 905.4L1084 905.2L1084.5 904.8L1085 905.3L1085.5 905.3L1086 904.8L1086.5 905.7L1087 905.5L1087.5 905.3L1088 905.4L1088.5 905.6L1089 906.0L1089.5 905.9L1090 905.6L1090.5 905.2L1091 905.0L1091.5 905.8L1092 905.5L1092.5 905.7L1093 905.5L1093.5 905.5L1094 905.7L1094.5 905.7L1095 906.0L1095.5 905.4L1096 906.5L1096.5 905.9L1097 905.8L1097.5 906.0L1098 905.8L1098.5 906.1L1099 906.4L1099.5 905.2L1100 905.4L1100.5 906.5L1101 905.7L1101.5 905.9L1102 906.1L1102.5 906.2L1103 906.2L1103.5 905.9L1104 906.3L1104.5 906.8L1105 905.8L1105.5 905.0L1106 905.3L1106.5 905.9L1107 905.7L1107.5 906.6L1108 907.7L1108.5 906.2L1109 905.8L1109.5 906.4L1110 907.3L1110.5 906.5L1111 905.9L1111.5 906.3L1112 906.6L1112.5 906.0L1113 906.2L1113.5 906.3L1114 906.2L1114.5 906.2L1115 907.3L1115.5 906.6L1116 906.2L1116.5 905.9L1117 905.7L1117.5 905.7L1118 906.4L1118.5 905.9L1119 906.6L1119.5 906.2L1120 906.7L1120.5 906.4L1121 906.6L1121.5 905.7L1122 906.4L1122.5 906.3L1123 905.8L1123.5 906.8L1124 905.9L1124.5 906.2L1125 906.6L1125.5 906.2L1126 906.4L1126.5 906.1L1127 906.8L1127.5 906.6L1128 905.9L1128.5 906.7L1129 906.1L1129.5 906.6L1130 906.1L1130.5 906.2L1131 906.4L1131.5 906.3L1132 906.0L1132.5 906.1L1133 906.7L1133.5 906.6L1134 906.0L1134.5 906.4L1135 906.9L1135.5 906.6L1136 906.4L1136.5 907.0L1137 905.5L1137.5 906.4L1138 906.1L1138.5 906.4L1139 906.5L1139.5 906.6L1140 905.7L1140.5 905.9L1141 906.4L1141.5 906.2L1142 906.1L1142.5 906.6L1143 906.4L1143.5 906.7L1144 906.2L1144.5 906.3L1145 907.0L1145.5 906.8L1146 908.3L1146.5 906.5L1147 906.4L1147.5 906.2L1148 905.7L1148.5 906.0L1149 906.5L1149.5 906.8L1150 906.1L1150.5 906.7L1151 906.1L1151.5 907.2L1152 906.3L1152.5 906.3L1153 906.6L1153.5 906.2L1154 906.2L1154.5 906.3L1155 906.8L1155.5 906.5L1156 906.5L1156.5 906.3L1157 906.5L1157.5 906.4L1158 906.8L1158.5 906.3L1159 906.6L1159.5 906.5L1160 906.6L1160.5 906.9L1161 907.0L1161.5 906.3L1162 906.2L1162.5 906.6L1163 906.5L1163.5 906.8L1164 907.1L1164.5 906.3L1165 906.7L1165.5 906.4L1166 906.6L1166.5 906.5L1167 906.4L1167.5 907.1L1168 906.3L1168.5 906.2L1169 906.8L1169.5 906.5L1170 906.3L1170.5 906.6L1171 906.2L1171.5 906.5L1172 906.7L1172.5 906.4L1173 906.3L1173.5 906.4L1174 906.6L1174.5 906.0L1175 906.6L1175.5 906.3L1176 906.8L1176.5 907.1L1177 906.2L1177.5 906.9L1178 905.9L1178.5 906.4L1179 906.0L1179.5 907.1L1180 905.7L1180.5 906.8L1181 906.0L1181.5 906.7L1182 906.3L1182.5 906.5L1183 907.0L1183.5 907.2L1184 906.9L1184.5 906.1L1185 906.4L1185.5 906.2L1186 906.5L1186.5 906.5L1187 906.2L1187.5 908.3L1188 906.0L1188.5 906.3L1189 908.1L1189.5 906.8L1190 905.9L1190.5 906.7L1191 906.0L1191.5 907.0L1192 905.8L1192.5 906.8L1193 906.3L1193.5 906.6L1194 906.3L1194.5 906.3L1195 906.1L1195.5 907.0L1196 906.7L1196.5 906.7L1197 907.3L1197.5 906.3L1198 906.7L1198.5 906.0L1199 906.3L1199.5 906.5L1200 906.2L1200.5 906.1L1201 906.6L1201.5 906.6L1202 906.1L1202.5 906.7L1203 906.0L1203.5 906.6L1204 906.1L1204.5 907.0L1205 906.7L1205.5 906.8L1206 906.7L1206.5 906.8L1207 906.8L1207.5 906.5L1208 906.4L1208.5 906.6L1209 906.9L1209.5 906.6L1210 906.4L1210.5 907.0L1211 906.5L1211.5 906.6L1212 906.2L1212.5 906.7L1213 907.3L1213.5 906.2L1214 906.1L1214.5 906.3L1215 906.8L1215.5 906.1L1216 906.2L1216.5 907.0L1217 906.6L1217.5 906.6L1218 906.6L1218.5 906.7L1219 908.3L1219.5 906.5L1220 905.8L1220.5 906.2L1221 906.9L1221.5 906.6L1222 906.1L1222.5 906.9L1223 906.9L1223.5 908.0L1224 905.7L1224.5 907.2L1225 906.5L1225.5 906.3L1226 906.6L1226.5 906.6L1227 906.5L1227.5 906.2L1228 906.3L1228.5 906.7L1229 906.1L1229.5 907.3L1230 906.3L1230.5 906.4L1231 906.3L1231.5 906.2L1232 906.4L1232.5 906.6L1233 906.5L1233.5 906.7L1234 906.8L1234.5 906.4L1235 906.8L1235.5 906.2L1236 907.0L1236.5 906.5L1237 905.9L1237.5 906.6L1238 906.7L1238.5 906.3L1239 906.2L1239.5 906.9L1240 906.7L1240.5 905.9L1241 906.6L1241.5 906.2L1242 906.8L1242.5 906.6L1243 906.4L1243.5 906.3L1244 906.1L1244.5 905.8L1245 906.2L1245.5 906.7L1246 906.2L1246.5 906.6L1247 906.4L1247.5 906.2L1248 906.6L1248.5 906.5L1249 906.8L1249.5 906.3L1250 906.0L1250.5 905.7L1251 906.2L1251.5 906.7L1252 906.4L1252.5 906.0L1253 905.9L1253.5 905.8L1254 906.4L1254.5 906.0L1255 906.0L1255.5 906.2L1256 906.4L1256.5 905.7L1257 906.8L1257.5 906.4L1258 905.8L1258.5 905.9L1259 905.0L1259.5 906.1L1260 905.3L1260.5 906.3L1261 905.3L1261.5 906.7L1262 905.8L1262.5 905.7L1263 906.2L1263.5 905.5L1264 905.6L1264.5 906.0L1265 906.0L1265.5 905.7L1266 905.6L1266.5 904.9L1267 905.4L1267.5 904.5L1268 905.3L1268.5 904.9L1269 905.1L1269.5 905.3L1270 905.0L1270.5 906.4L1271 905.1L1271.5 905.1L1272 904.1L1272.5 904.1L1273 904.3L1273.5 904.4L1274 903.9L1274.5 903.3L1275 902.8L1275.5 902.8L1276 902.5L1276.5 901.8L1277 900.8L1277.5 900.4L1278 899.6L1278.5 899.0L1279 897.7L1279.5 896.5L1280 895.6L1280.5 894.9L1281 892.8L1281.5 890.9L1282 890.4L1282.5 889.1L1283 887.1L1283.5 885.5L1284 883.7L1284.5 882.7L1285 881.5L1285.5 880.6L1286 879.9L1286.5 879.4L1287 879.5L1287.5 879.9L1288 880.7L1288.5 881.6L1289 882.9L1289.5 884.3L1290 885.3L1290.5 887.0L1291 889.2L1291.5 890.4L1292 891.9L1292.5 893.1L1293 894.4L1293.5 895.8L1294 896.9L1294.5 897.9L1295 898.7L1295.5 899.4L1296 900.7L1296.5 900.6L1297 901.3L1297.5 902.5L1298 903.4L1298.5 903.1L1299 903.9L1299.5 903.9L1300 903.9L1300.5 904.6L1301 904.8L1301.5 904.6L1302 905.1L1302.5 905.0L1303 904.3L1303.5 905.0L1304 904.8L1304.5 904.8L1305 905.4L1305.5 905.3L1306 905.7L1306.5 905.3L1307 906.0L1307.5 905.8L1308 905.5L1308.5 906.0L1309 905.9L1309.5 906.1L1310 906.0L1310.5 906.6L1311 905.6L1311.5 905.6L1312 906.2L1312.5 906.1L1313 906.1L1313.5 905.7L1314 906.2L1314.5 905.5L1315 905.6L1315.5 906.2L1316 906.1L1316.5 906.6L1317 906.3L1317.5 905.9L1318 906.3L1318.5 906.6L1319 906.2L1319.5 905.9L1320 906.5L1320.5 906.7L1321 906.7L1321.5 906.5L1322 906.4L1322.5 906.6L1323 905.7L1323.5 906.7L1324 906.2L1324.5 906.8L1325 906.2L1325.5 906.6L1326 906.4L1326.5 906.4L1327 906.1L1327.5 906.7L1328 905.9L1328.5 906.3L1329 906.3L1329.5 906.7L1330 906.6L1330.5 906.7L1331 907.1L1331.5 906.6L1332 906.8L1332.5 906.3L1333 906.2L1333.5 906.5L1334 906.5L1334.5 906.3L1335 906.8L1335.5 906.8L1336 906.6L1336.5 907.4L1337 907.0L1337.5 906.8L1338 906.3L1338.5 905.9L1339 906.3L1339.5 906.7L1340 906.3L1340.5 906.3L1341 906.4L1341.5 907.0L1342 906.6L1342.5 906.7L1343 907.1L1343.5 906.9L1344 906.2L1344.5 907.0L1345 906.3L1345.5 906.7L1346 906.5L1346.5 906.8L1347 906.8L1347.5 906.9L1348 907.0L1348.5 906.5L1349 906.6L1349.5 906.7L1350 907.1L1350.5 906.7L1351 906.8L1351.5 906.8L1352 907.1L1352.5 907.2L1353 906.9L1353.5 906.9L1354 906.6L1354.5 907.2L1355 906.3L1355.5 906.8L1356 906.6L1356.5 906.5L1357 906.6L1357.5 906.5L1358 906.8L1358.5 906.9L1359 906.9L1359.5 906.6L1360 907.2L1360.5 906.9L1361 906.4L1361.5 906.9L1362 906.9L1362.5 906.7L1363 906.7L1363.5 906.8L1364 907.1L1364.5 906.8L1365 907.0L1365.5 907.0L1366 907.0L1366.5 906.5L1367 907.2L1367.5 906.7L1368 906.6L1368.5 906.4L1369 906.8L1369.5 906.9L1370 907.4L1370.5 906.7L1371 906.3L1371.5 906.3L1372 907.0L1372.5 906.8L1373 906.4L1373.5 906.3L1374 908.2L1374.5 906.4L1375 907.0L1375.5 907.0L1376 906.2L1376.5 906.9L1377 906.6L1377.5 907.1L1378 906.7L1378.5 906.6L1379 906.6L1379.5 906.8L1380 906.8L1380.5 907.1L1381 906.9L1381.5 906.5L1382 907.2L1382.5 906.9L1383 906.7L1383.5 908.8L1384 906.8L1384.5 906.9L1385 906.8L1385.5 907.2L1386 907.0L1386.5 906.8L1387 907.4L1387.5 907.6L1388 906.7L1388.5 906.9L1389 907.1L1389.5 907.0L1390 905.9L1390.5 906.8L1391 906.7L1391.5 907.1L1392 907.3L1392.5 906.6L1393 906.6L1393.5 907.3L1394 907.6L1394.5 907.3L1395 907.1L1395.5 906.3L1396 906.4L1396.5 907.2L1397 907.1L1397.5 907.2L1398 907.2L1398.5 907.0L1399 907.5L1399.5 907.0L1400 906.7L1400.5 906.5L1401 906.7L1401.5 907.1L1402 906.6L1402.5 906.8L1403 906.4L1403.5 906.4L1404 906.4L1404.5 906.8L1405 906.2L1405.5 906.5L1406 906.5L1406.5 906.2L1407 906.9L1407.5 906.3L1408 906.5L1408.5 907.0L1409 906.1L1409.5 906.5L1410 906.3L1410.5 906.9L1411 906.7L1411.5 906.6L1412 906.6L1412.5 906.7L1413 906.6L1413.5 907.0L1414 906.6L1414.5 906.9L1415 906.2L1415.5 906.6L1416 906.6L1416.5 906.4L1417 906.7L1417.5 906.5L1418 905.8L1418.5 906.5L1419 906.8L1419.5 906.6L1420 906.3L1420.5 906.4L1421 906.3L1421.5 906.1L1422 906.5L1422.5 905.9L1423 906.1L1423.5 906.5L1424 906.9L1424.5 906.1L1425 906.2L1425.5 905.6L1426 906.0L1426.5 905.8L1427 905.8L1427.5 905.8L1428 905.3L1428.5 906.4L1429 905.7L1429.5 905.3L1430 905.3L1430.5 905.2L1431 905.2L1431.5 905.4L1432 904.5L1432.5 904.8L1433 904.7L1433.5 903.8L1434 904.1L1434.5 903.8L1435 903.6L1435.5 903.5L1436 903.0L1436.5 902.5L1437 903.4L1437.5 901.7L1438 901.1L1438.5 899.8L1439 898.9L1439.5 898.4L1440 896.5L1440.5 895.6L1441 894.3L1441.5 893.1L1442 891.5L1442.5 889.7L1443 888.0L1443.5 886.5L1444 884.2L1444.5 882.7L1445 881.1L1445.5 879.6L1446 878.5L1446.5 877.7L1447 877.4L1447.5 877.4L1448 878.0L1448.5 878.8L1449 880.0L1449.5 881.4L1450 883.2L1450.5 884.9L1451 886.2L1451.5 888.4L1452 890.0L1452.5 892.0L1453 893.3L1453.5 894.0L1454 896.0L1454.5 896.9L1455 898.1L1455.5 899.2L1456 899.8L1456.5 901.1L1457 901.9L1457.5 901.8L1458 902.5L1458.5 902.9L1459 902.7L1459.5 903.7L1460 904.7L1460.5 904.0L1461 904.5L1461.5 904.7L1462 905.1L1462.5 905.0L1463 905.6L1463.5 904.9L1464 905.3L1464.5 905.7L1465 905.5L1465.5 906.0L1466 905.4L1466.5 905.9L1467 905.9L1467.5 906.0L1468 906.0L1468.5 906.7L1469 906.2L1469.5 905.8L1470 906.5L1470.5 906.4L1471 905.9L1471.5 906.2L1472 906.9L1472.5 906.2L1473 906.8L1473.5 906.6L1474 906.4L1474.5 906.2L1475 906.5L1475.5 906.9L1476 906.5L1476.5 906.4L1477 906.9L1477.5 906.3L1478 907.1L1478.5 906.4L1479 906.7L1479.5 907.0L1480 906.8L1480.5 906.9L1481 906.9L1481.5 907.1L1482 907.1L1482.5 906.7L1483 906.5L1483.5 906.6L1484 906.8L1484.5 908.9L1485 906.8L1485.5 906.5L1486 906.6L1486.5 907.2L1487 906.6L1487.5 907.1L1488 906.8L1488.5 907.2L1489 906.8L1489.5 907.2L1490 907.5L1490.5 907.1L1491 906.8L1491.5 906.7L1492 907.0L1492.5 906.6L1493 907.1L1493.5 906.9L1494 907.0L1494.5 907.0L1495 906.8L1495.5 908.1L1496 907.6L1496.5 907.1L1497 906.3L1497.5 907.1L1498 906.8L1498.5 907.0L1499 907.4L1499.5 906.9L1500 907.0L1500.5 906.7L1501 906.2L1501.5 907.7L1502 906.6L1502.5 906.7L1503 907.1L1503.5 906.8L1504 907.5L1504.5 906.5L1505 906.3L1505.5 907.1L1506 906.8L1506.5 907.0L1507 907.2L1507.5 906.9L1508 906.7L1508.5 907.2L1509 906.7L1509.5 906.9L1510 907.6L1510.5 906.9L1511 906.7L1511.5 907.1L1512 907.3L1512.5 906.9L1513 907.2L1513.5 906.6L1514 907.0L1514.5 906.6L1515 906.5L1515.5 908.2L1516 906.7L1516.5 906.6L1517 906.3L1517.5 906.3L1518 906.5L1518.5 906.6L1519 906.2L1519.5 906.5L1520 906.3L1520.5 906.5L1521 906.5L1521.5 906.2L1522 905.8L1522.5 906.1L1523 905.9L1523.5 905.8L1524 906.1L1524.5 905.3L1525 905.4L1525.5 905.4L1526 905.2L1526.5 904.9L1527 904.9L1527.5 904.6L1528 905.5L1528.5 904.9L1529 904.4L1529.5 905.2L1530 905.4L1530.5 904.7L1531 904.9L1531.5 905.4L1532 904.2L1532.5 905.3L1533 905.4L1533.5 904.8L1534 905.1L1534.5 905.5L1535 905.1L1535.5 905.3L1536 905.3L1536.5 905.0L1537 905.7L1537.5 905.7L1538 905.5L1538.5 905.9L1539 905.1L1539.5 905.7L1540 905.4L1540.5 906.0L1541 906.3L1541.5 905.8L1542 906.3L1542.5 905.9L1543 905.8L1543.5 906.0L1544 905.8L1544.5 906.0L1545 905.8L1545.5 905.8L1546 906.4L1546.5 906.2L1547 906.0L1547.5 905.9L1548 905.8L1548.5 905.3L1549 905.8L1549.5 905.9L1550 905.5L1550.5 907.4L1551 905.6L1551.5 905.5L1552 904.8L1552.5 904.9L1553 904.6L1553.5 905.0L1554 905.0L1554.5 903.8L1555 904.2L1555.5 904.3L1556 903.8L1556.5 903.4L1557 902.8L1557.5 902.8L1558 902.2L1558.5 901.9L1559 901.8L1559.5 901.5L1560 900.3L1560.5 899.6L1561 899.7L1561.5 898.9L1562 897.5L1562.5 896.9L1563 895.6L1563.5 895.0L1564 893.4L1564.5 892.7L1565 891.7L1565.5 890.7L1566 889.1L1566.5 888.4L1567 886.6L1567.5 885.4L1568 884.0L1568.5 883.3L1569 882.7L1569.5 881.9L1570 881.3L1570.5 880.9L1571 880.7L1571.5 880.8L1572 881.2L1572.5 881.6L1573 882.4L1573.5 883.2L1574 884.0L1574.5 885.1L1575 886.9L1575.5 888.1L1576 888.7L1576.5 890.0L1577 890.6L1577.5 892.2L1578 893.1L1578.5 894.4L1579 894.8L1579.5 896.2L1580 896.7L1580.5 897.1L1581 898.1L1581.5 898.9L1582 898.7L1582.5 899.5L1583 899.7L1583.5 900.6L1584 900.2L1584.5 900.9L1585 900.6L1585.5 900.4L1586 900.4L1586.5 900.8L1587 900.5L1587.5 899.7L1588 900.0L1588.5 899.4L1589 899.5L1589.5 899.0L1590 898.2L1590.5 897.7L1591 897.8L1591.5 896.9L1592 896.3L1592.5 896.4L1593 895.2L1593.5 894.7L1594 893.2L1594.5 893.2L1595 893.1L1595.5 891.5L1596 890.6L1596.5 890.7L1597 890.4L1597.5 889.9L1598 889.8L1598.5 889.6L1599 889.5L1599.5 889.9L1600 890.0L1600.5 890.3L1601 890.8L1601.5 891.4L1602 892.3L1602.5 892.7L1603 892.7L1603.5 894.5L1604 895.0L1604.5 895.9L1605 896.4L1605.5 897.4L1606 897.3L1606.5 898.5L1607 898.9L1607.5 900.1L1608 900.6L1608.5 901.4L1609 901.3L1609.5 901.7L1610 902.1L1610.5 902.5L1611 903.5L1611.5 903.0L1612 904.2L1612.5 903.9L1613 904.3L1613.5 904.4L1614 904.3L1614.5 905.1L1615 904.8L1615.5 904.8L1616 906.1L1616.5 905.3L1617 905.8L1617.5 906.6L1618 905.2L1618.5 906.3L1619 905.7L1619.5 905.9L1620 906.6L1620.5 906.5L1621 906.0L1621.5 906.1L1622 906.3L1622.5 907.7L1623 906.9L1623.5 906.4L1624 906.9L1624.5 906.7L1625 907.3L1625.5 906.9L1626 907.1L1626.5 906.2L1627 907.0L1627.5 906.8L1628 906.8L1628.5 906.6L1629 907.2L1629.5 907.0L1630 906.9L1630.5 907.2L1631 906.9L1631.5 906.7L1632 906.9L1632.5 907.0L1633 907.1L1633.5 907.2L1634 906.9L1634.5 907.8L1635 906.9L1635.5 906.2L1636 907.3L1636.5 907.3L1637 907.3L1637.5 906.6L1638 907.0L1638.5 907.3L1639 907.6L1639.5 907.6L1640 907.1L1640.5 907.8L1641 907.0L1641.5 907.5L1642 907.5L1642.5 907.4L1643 907.5L1643.5 907.3L1644 907.7L1644.5 907.5L1645 906.7L1645.5 907.6L1646 907.0L1646.5 907.6L1647 907.1L1647.5 907.2L1648 907.6L1648.5 907.7L1649 907.5L1649.5 907.8L1650 907.7L1650.5 907.7L1651 907.3L1651.5 907.6L1652 907.6L1652.5 908.0L1653 907.7L1653.5 908.1L1654 907.3L1654.5 907.4L1655 908.0L1655.5 907.7L1656 907.8L1656.5 908.2L1657 907.5L1657.5 907.7L1658 907.4L1658.5 907.7L1659 907.6L1659.5 908.0L1660 907.9L1660.5 907.6L1661 907.6L1661.5 907.7L1662 908.2L1662.5 908.0L1663 907.4L1663.5 907.9L1664 908.3L1664.5 907.7L1665 907.9L1665.5 907.3L1666 907.4L1666.5 907.6L1667 907.5L1667.5 907.6L1668 907.4L1668.5 907.6L1669 908.0L1669.5 907.9L1670 907.7L1670.5 909.2L1671 907.3L1671.5 907.5L1672 907.6L1672.5 907.9L1673 907.7L1673.5 908.0L1674 908.3L1674.5 908.2L1675 907.4L1675.5 907.7L1676 907.2L1676.5 907.7L1677 907.6L1677.5 907.6L1678 908.3L1678.5 907.4L1679 907.8L1679.5 907.5L1680 907.3L1680.5 906.8L1681 907.5L1681.5 907.6L1682 907.3L1682.5 907.6L1683 907.0L1683.5 907.2L1684 906.6L1684.5 906.2L1685 906.3L1685.5 906.2L1686 906.2L1686.5 906.3L1687 906.2L1687.5 906.1L1688 905.8L1688.5 905.9L1689 905.9L1689.5 905.5L1690 905.4L1690.5 904.3L1691 905.0L1691.5 904.5L1692 904.5L1692.5 904.8L1693 904.1L1693.5 904.7L1694 904.2L1694.5 904.7L1695 904.6L1695.5 904.9L1696 904.2L1696.5 904.9L1697 905.2L1697.5 905.2L1698 905.3L1698.5 905.7L1699 905.9L1699.5 905.7L1700 905.5L1700.5 905.4L1701 906.2L1701.5 906.1L1702 906.5L1702.5 907.0L1703 906.5L1703.5 906.4L1704 906.4L1704.5 906.8L1705 906.6L1705.5 908.4L1706 906.8L1706.5 906.9L1707 907.8L1707.5 907.9L1708 907.5L1708.5 907.3L1709 907.7L1709.5 908.2L1710 907.8L1710.5 907.9L1711 908.0L1711.5 907.7L1712 907.9L1712.5 907.4L1713 908.1L1713.5 907.5L1714 907.9L1714.5 908.2L1715 908.2L1715.5 907.4L1716 908.0L1716.5 908.5L1717 907.9L1717.5 908.3L1718 908.0L1718.5 907.6L1719 908.0L1719.5 908.2L1720 908.5L1720.5 908.0L1721 907.9L1721.5 908.4L1722 907.7L1722.5 908.2L1723 907.9L1723.5 908.3L1724 908.5L1724.5 908.2L1725 908.5L1725.5 907.9L1726 908.4L1726.5 908.1L1727 908.0L1727.5 909.6L1728 908.4L1728.5 908.5L1729 908.2L1729.5 907.7L1730 907.7L1730.5 907.8L1731 907.7L1731.5 908.1L1732 908.0L1732.5 908.0L1733 908.2L1733.5 908.0L1734 907.9L1734.5 908.7L1735 908.1L1735.5 908.2L1736 908.2L1736.5 908.3L1737 909.5L1737.5 908.0L1738 908.4L1738.5 908.0L1739 908.6L1739.5 908.4L1740 908.8L1740.5 908.0L1741 907.6L1741.5 908.2L1742 908.2L1742.5 908.6L1743 908.0L1743.5 908.2L1744 908.2L1744.5 908.6L1745 907.9L1745.5 908.2L1746 908.6L1746.5 908.0L1747 907.9L1747.5 908.3L1748 908.0L1748.5 908.4L1749 907.5L1749.5 908.5L1750 908.7L1750.5 908.2L1751 908.5L1751.5 908.2L1752 908.8L1752.5 910.2L1753 908.2L1753.5 908.2L1754 908.4L1754.5 908.7L1755 908.6L1755.5 909.1L1756 908.7L1756.5 907.7L1757 908.2L1757.5 908.3L1758 909.2L1758.5 908.3L1759 908.4L1759.5 908.3L1760 908.5L1760.5 908.6L1761 908.2L1761.5 908.2L1762 908.3L1762.5 908.4L1763 907.6L1763.5 908.0L1764 908.4L1764.5 908.2L1765 908.4L1765.5 908.3L1766 908.7L1766.5 908.6L1767 908.1L1767.5 908.0L1768 908.8L1768.5 908.4L1769 909.5L1769.5 908.6L1770 907.7L1770.5 908.2L1771 908.4L1771.5 909.0L1772 908.7L1772.5 908.3L1773 908.4L1773.5 908.6L1774 908.3L1774.5 908.1L1775 908.2L1775.5 908.3L1776 908.2L1776.5 908.8L1777 908.7L1777.5 908.4L1778 907.9L1778.5 908.1L1779 908.5L1779.5 908.3L1780 908.5L1780.5 908.0L1781 908.3L1781.5 908.1L1782 907.9L1782.5 908.3L1783 908.1L1783.5 908.0L1784 907.5L1784.5 907.5L1785 908.3L1785.5 907.8L1786 907.2L1786.5 907.8L1787 908.0L1787.5 907.7L1788 907.2L1788.5 907.5L1789 906.9L1789.5 907.2L1790 907.6L1790.5 907.3L1791 906.9L1791.5 907.4L1792 907.0L1792.5 907.0L1793 906.6L1793.5 906.7L1794 906.8L1794.5 906.3L1795 906.0L1795.5 905.7L1796 906.4L1796.5 906.2L1797 906.5L1797.5 906.5L1798 906.0L1798.5 906.3L1799 906.1L1799.5 905.7L1800 905.8L1800.5 906.6L1801 906.2L1801.5 905.8L1802 906.0L1802.5 905.9L1803 906.4L1803.5 906.3L1804 906.7L1804.5 907.2L1805 906.5L1805.5 906.7L1806 906.6L1806.5 906.2L1807 906.6L1807.5 907.2L1808 907.3L1808.5 907.2L1809 907.0L1809.5 907.0L1810 908.1L1810.5 907.5L1811 907.2L1811.5 909.3L1812 907.9L1812.5 907.4L1813 907.6L1813.5 907.9L1814 907.6L1814.5 908.4L1815 908.1L1815.5 907.7L1816 908.3L1816.5 908.2L1817 907.7L1817.5 908.6L1818 908.3L1818.5 908.4L1819 908.8L1819.5 908.4L1820 907.9L1820.5 908.2L1821 908.6L1821.5 908.4L1822 908.6L1822.5 908.4L1823 908.9L1823.5 908.5L1824 908.4L1824.5 908.6L1825 908.4L1825.5 910.6L1826 908.0L1826.5 908.1L1827 908.7L1827.5 908.1L1828 908.9L1828.5 908.3L1829 908.2L1829.5 908.3L1830 908.9L1830.5 909.0L1831 908.6L1831.5 908.3L1832 908.9L1832.5 908.7L1833 908.6L1833.5 908.7L1834 908.8L1834.5 908.6L1835 908.5L1835.5 909.0L1836 908.9L1836.5 908.7L1837 908.2L1837.5 909.8L1838 908.7L1838.5 908.5L1839 908.1L1839.5 908.7L1840 908.9L1840.5 908.3L1841 908.5L1841.5 909.4L1842 908.9L1842.5 908.4L1843 908.7L1843.5 908.9L1844 908.6L1844.5 908.7L1845 908.4L1845.5 908.6L1846 909.3L1846.5 908.1L1847 909.0L1847.5 908.4L1848 908.9L1848.5 908.2L1849 909.1L1849.5 908.3L1850 908.6L1850.5 908.7L1851 908.7L1851.5 908.5L1852 908.7L1852.5 908.6L1853 908.6L1853.5 908.7L1854 908.6" stroke="#ff0000"/>
<path d="M145.0 1177.5L145.5 1177.6L146 1177.6L146.5 1177.5L147 1177.5L147.5 1177.1L148 1177.5L148.5 1177.6L149 1177.9L149.5 1176.5L150 1177.1L150.5 1178.1L151 1177.5L151.5 1177.2L152 1177.0L152.5 1177.3L153 1178.3L153.5 1176.8L154 1177.9L154.5 1176.8L155 1176.7L155.5 1177.2L156 1177.4L156.5 1176.9L157 1176.8L157.5 1176.8L158 1176.1L158.5 1178.7L159 1177.3L159.5 1177.8L160 1177.0L160.5 1176.6L161 1177.2L161.5 1177.1L162 1176.7L162.5 1176.7L163 1176.8L163.5 1177.0L164 1177.8L164.5 1176.6L165 1177.8L165.5 1176.7L166 1176.1L166.5 1176.2L167 1176.6L167.5 1176.9L168 1176.4L168.5 1176.9L169 1176.5L169.5 1177.1L170 1176.5L170.5 1177.0L171 1177.2L171.5 1177.9L172 1176.7L172.5 1178.6L173 1176.8L173.5 1176.1L174 1177.0L174.5 1177.2L175 1177.4L175.5 1175.8L176 1176.6L176.5 1176.9L177 1176.6L177.5 1176.6L178 1177.0L178.5 1176.3L179 1176.6L179.5 1175.4L180 1176.5L180.5 1177.3L181 1175.8L181.5 1176.8L182 1176.4L182.5 1175.5L183 1175.9L183.5 1177.2L184 1177.4L184.5 1177.2L185 1176.9L185.5 1176.9L186 1176.2L186.5 1176.5L187 1177.7L187.5 1177.1L188 1176.5L188.5 1176.4L189 1174.7L189.5 1175.3L190 1175.1L190.5 1176.6L191 1176.3L191.5 1175.6L192 1176.1L192.5 1175.0L193 1177.0L193.5 1174.9L194 1176.0L194.5 1175.8L195 1175.2L195.5 1175.7L196 1175.5L196.5 1175.4L197 1174.6L197.5 1175.1L198 1176.1L198.5 1175.5L199 1175.2L199.5 1174.4L200 1175.1L200.5 1174.5L201 1174.3L201.5 1175.2L202 1175.0L202.5 1174.5L203 1174.3L203.5 1173.7L204 1174.6L204.5 1173.8L205 1173.6L205.5 1173.5L206 1174.5L206.5 1173.6L207 1174.5L207.5 1173.1L208 1174.3L208.5 1174.4L209 1173.8L209.5 1173.7L210 1174.0L210.5 1174.5L211 1172.9L211.5 1173.9L212 1173.6L212.5 1173.1L213 1174.8L213.5 1173.2L214 1173.4L214.5 1172.1L215 1172.5L215.5 1172.7L216 1173.1L216.5 1171.5L217 1172.5L217.5 1172.1L218 1172.5L218.5 1174.0L219 1173.5L219.5 1172.3L220 1172.4L220.5 1173.3L221 1172.2L221.5 1172.9L222 1172.5L222.5 1172.5L223 1172.2L223.5 1171.7L224 1172.1L224.5 1172.1L225 1173.4L225.5 1172.1L226 1172.5L226.5 1172.3L227 1172.7L227.5 1171.4L228 1171.5L228.5 1173.1L229 1171.5L229.5 1171.1L230 1171.4L230.5 1171.6L231 1171.7L231.5 1171.7L232 1172.1L232.5 1170.9L233 1172.4L233.5 1171.0L234 1171.0L234.5 1170.4L235 1171.8L235.5 1172.0L236 1171.6L236.5 1172.0L237 1170.6L237.5 1170.0L238 1170.9L238.5 1172.7L239 1171.1L239.5 1171.1L240 1170.9L240.5 1171.5L241 1171.3L241.5 1171.8L242 1172.0L242.5 1170.3L243 1171.2L243.5 1170.2L244 1171.2L244.5 1170.6L245 1170.7L245.5 1170.7L246 1171.3L246.5 1170.2L247 1170.5L247.5 1170.5L248 1171.6L248.5 1170.1L249 1170.3L249.5 1170.4L250 1171.5L250.5 1171.2L251 1170.4L251.5 1170.5L252 1170.9L252.5 1169.6L253 1171.7L253.5 1172.0L254 1171.3L254.5 1170.6L255 1171.0L255.5 1171.1L256 1170.8L256.5 1170.2L257 1171.2L257.5 1170.7L258 1170.9L258.5 1170.3L259 1170.5L259.5 1171.6L260 1171.0L260.5 1170.4L261 1169.9L261.5 1169.9L262 1170.4L262.5 1171.2L263 1170.8L263.5 1170.4L264 1170.9L264.5 1170.5L265 1171.3L265.5 1170.2L266 1170.9L266.5 1170.9L267 1170.7L267.5 1170.9L268 1171.0L268.5 1170.5L269 1170.7L269.5 1170.4L270 1170.5L270.5 1170.4L271 1170.6L271.5 1170.7L272 1171.3L272.5 1170.5L273 1170.7L273.5 1170.9L274 1170.0L274.5 1169.2L275 1170.4L275.5 1169.8L276 1170.7L276.5 1170.8L277 1170.1L277.5 1170.5L278 1170.6L278.5 1170.4L279 1170.6L279.5 1171.3L280 1170.3L280.5 1171.0L281 1170.8L281.5 1171.1L282 1170.9L282.5 1170.7L283 1171.2L283.5 1170.4L284 1170.4L284.5 1170.8L285 1170.3L285.5 1172.3L286 1170.6L286.5 1170.1L287 1169.6L287.5 1170.2L288 1170.3L288.5 1170.6L289 1170.3L289.5 1170.2L290 1170.8L290.5 1170.8L291 1170.2L291.5 1170.8L292 1170.2L292.5 1171.3L293 1171.0L293.5 1170.5L294 1170.2L294.5 1170.5L295 1170.4L295.5 1170.7L296 1171.0L296.5 1170.7L297 1171.6L297.5 1171.0L298 1171.6L298.5 1170.4L299 1170.7L299.5 1170.9L300 1170.9L300.5 1171.3L301 1171.8L301.5 1170.5L302 1171.4L302.5 1170.7L303 1171.2L303.5 1171.0L304 1171.1L304.5 1170.5L305 1170.9L305.5 1170.4L306 1170.8L306.5 1170.8L307 1170.6L307.5 1170.9L308 1170.3L308.5 1170.3L309 1171.3L309.5 1171.0L310 1170.8L310.5 1170.3L311 1170.6L311.5 1170.7L312 1171.1L312.5 1170.7L313 1170.4L313.5 1171.0L314 1170.2L314.5 1170.7L315 1171.1L315.5 1171.3L316 1170.2L316.5 1170.5L317 1170.5L317.5 1170.1L318 1170.6L318.5 1171.2L319 1170.7L319.5 1171.2L320 1170.3L320.5 1171.4L321 1171.0L321.5 1170.4L322 1171.4L322.5 1171.8L323 1171.6L323.5 1170.9L324 1170.9L324.5 1172.2L325 1170.1L325.5 1171.2L326 1170.9L326.5 1172.4L327 1170.1L327.5 1171.2L328 1170.6L328.5 1171.4L329 1170.9L329.5 1170.2L330 1170.1L330.5 1171.2L331 1170.6L331.5 1171.1L332 1170.1L332.5 1171.1L333 1170.6L333.5 1171.6L334 1171.2L334.5 1170.8L335 1171.9L335.5 1170.9L336 1170.8L336.5 1170.0L337 1171.4L337.5 1172.4L338 1170.6L338.5 1170.5L339 1170.1L339.5 1171.3L340 1170.3L340.5 1171.6L341 1172.0L341.5 1171.3L342 1171.2L342.5 1170.8L343 1171.2L343.5 1172.1L344 1172.2L344.5 1171.2L345 1172.1L345.5 1171.0L346 1171.4L346.5 1170.5L347 1171.2L347.5 1171.1L348 1173.0L348.5 1171.2L349 1171.5L349.5 1171.7L350 1172.1L350.5 1172.4L351 1171.6L351.5 1171.8L352 1171.5L352.5 1171.0L353 1172.4L353.5 1171.7L354 1172.3L354.5 1171.4L355 1171.2L355.5 1171.5L356 1171.5L356.5 1172.5L357 1172.7L357.5 1172.5L358 1172.3L358.5 1171.6L359 1171.5L359.5 1172.1L360 1171.4L360.5 1171.3L361 1172.4L361.5 1171.4L362 1172.3L362.5 1172.0L363 1171.2L363.5 1172.5L364 1171.8L364.5 1172.7L365 1172.3L365.5 1172.3L366 1172.6L366.5 1172.0L367 1172.8L367.5 1173.1L368 1172.2L368.5 1171.9L369 1172.2L369.5 1172.2L370 1172.8L370.5 1172.7L371 1173.0L371.5 1172.9L372 1172.6L372.5 1172.2L373 1172.7L373.5 1173.7L374 1172.9L374.5 1173.1L375 1172.5L375.5 1172.3L376 1173.1L376.5 1173.1L377 1172.6L377.5 1172.1L378 1172.9L378.5 1173.1L379 1172.3L379.5 1172.9L380 1172.8L380.5 1171.8L381 1173.3L381.5 1173.2L382 1173.3L382.5 1172.5L383 1173.2L383.5 1173.1L384 1172.6L384.5 1172.6L385 1172.6L385.5 1173.1L386 1172.6L386.5 1173.1L387 1172.8L387.5 1173.3L388 1173.7L388.5 1173.1L389 1173.8L389.5 1173.8L390 1173.1L390.5 1172.2L391 1173.0L391.5 1172.5L392 1172.6L392.5 1173.6L393 1171.6L393.5 1173.4L394 1173.6L394.5 1172.9L395 1173.9L395.5 1173.7L396 1172.4L396.5 1173.2L397 1173.3L397.5 1173.2L398 1173.5L398.5 1171.9L399 1174.0L399.5 1173.2L400 1173.7L400.5 1172.6L401 1173.9L401.5 1172.5L402 1173.4L402.5 1172.7L403 1174.0L403.5 1173.6L404 1174.2L404.5 1173.8L405 1174.1L405.5 1174.0L406 1173.5L406.5 1174.7L407 1173.8L407.5 1173.1L408 1174.2L408.5 1174.6L409 1173.6L409.5 1174.1L410 1173.1L410.5 1173.8L411 1173.7L411.5 1174.6L412 1173.5L412.5 1174.3L413 1173.7L413.5 1174.6L414 1173.8L414.5 1174.3L415 1175.2L415.5 1174.0L416 1173.8L416.5 1173.6L417 1174.8L417.5 1173.3L418 1174.5L418.5 1173.9L419 1174.7L419.5 1174.6L420 1174.0L420.5 1174.1L421 1174.5L421.5 1174.2L422 1174.5L422.5 1174.7L423 1173.7L423.5 1174.1L424 1173.9L424.5 1174.0L425 1173.6L425.5 1174.9L426 1174.2L426.5 1175.1L427 1173.4L427.5 1173.9L428 1173.8L428.5 1174.3L429 1174.1L429.5 1174.4L430 1173.9L430.5 1173.6L431 1175.5L431.5 1173.6L432 1173.8L432.5 1174.8L433 1174.6L433.5 1174.7L434 1174.7L434.5 1174.7L435 1175.1L435.5 1174.8L436 1174.3L436.5 1174.1L437 1175.1L437.5 1175.4L438 1173.5L438.5 1173.8L439 1176.1L439.5 1174.6L440 1174.8L440.5 1174.1L441 1175.1L441.5 1174.8L442 1174.6L442.5 1174.4L443 1173.7L443.5 1174.2L444 1173.8L444.5 1174.5L445 1174.4L445.5 1175.5L446 1174.4L446.5 1176.0L447 1173.9L447.5 1175.3L448 1174.6L448.5 1175.4L449 1175.2L449.5 1175.1L450 1175.1L450.5 1174.9L451 1174.7L451.5 1175.0L452 1174.7L452.5 1174.3L453 1174.6L453.5 1175.0L454 1175.0L454.5 1173.7L455 1174.2L455.5 1175.0L456 1173.8L456.5 1175.3L457 1174.1L457.5 1174.0L458 1174.5L458.5 1175.1L459 1173.9L459.5 1174.7L460 1173.4L460.5 1175.3L461 1174.4L461.5 1175.7L462 1174.1L462.5 1174.6L463 1174.5L463.5 1174.3L464 1174.4L464.5 1175.5L465 1175.2L465.5 1174.9L466 1173.9L466.5 1174.9L467 1175.4L467.5 1173.7L468 1174.6L468.5 1174.1L469 1174.3L469.5 1175.6L470 1175.4L470.5 1175.4L471 1175.0L471.5 1174.5L472 1174.7L472.5 1174.5L473 1174.8L473.5 1175.6L474 1174.9L474.5 1174.7L475 1174.0L475.5 1175.8L476 1174.8L476.5 1174.1L477 1174.6L477.5 1175.3L478 1174.3L478.5 1174.2L479 1175.5L479.5 1175.5L480 1175.3L480.5 1175.3L481 1174.5L481.5 1174.8L482 1174.3L482.5 1175.6L483 1175.3L483.5 1175.4L484 1174.9L484.5 1174.8L485 1174.9L485.5 1174.7L486 1174.8L486.5 1175.1L487 1175.6L487.5 1174.6L488 1174.3L488.5 1174.7L489 1175.7L489.5 1176.5L490 1174.9L490.5 1175.0L491 1174.9L491.5 1175.6L492 1175.1L492.5 1175.0L493 1174.3L493.5 1174.9L494 1174.3L494.5 1175.3L495 1174.4L495.5 1174.3L496 1175.2L496.5 1175.1L497 1174.3L497.5 1175.2L498 1174.4L498.5 1175.5L499 1175.4L499.5 1175.3L500 1175.4L500.5 1175.2L501 1174.6L501.5 1174.8L502 1175.7L502.5 1174.5L503 1175.1L503.5 1174.5L504 1176.0L504.5 1174.7L505 1174.6L505.5 1175.3L506 1175.3L506.5 1174.4L507 1174.3L507.5 1176.1L508 1174.1L508.5 1175.0L509 1174.7L509.5 1175.5L510 1174.7L510.5 1174.3L511 1173.9L511.5 1174.1L512 1174.8L512.5 1175.1L513 1175.0L513.5 1174.7L514 1174.6L514.5 1175.1L515 1174.0L515.5 1174.3L516 1174.5L516.5 1176.4L517 1175.4L517.5 1174.8L518 1175.7L518.5 1175.3L519 1174.6L519.5 1174.9L520 1175.3L520.5 1176.1L521 1174.8L521.5 1175.6L522 1175.6L522.5 1175.0L523 1176.0L523.5 1175.1L524 1175.4L524.5 1174.8L525 1176.1L525.5 1175.9L526 1175.1L526.5 1174.7L527 1175.6L527.5 1174.8L528 1174.1L528.5 1175.6L529 1174.6L529.5 1174.3L530 1175.3L530.5 1174.5L531 1174.9L531.5 1175.3L532 1174.7L532.5 1175.1L533 1175.4L533.5 1175.7L534 1176.2L534.5 1175.3L535 1175.6L535.5 1175.2L536 1175.2L536.5 1175.4L537 1174.6L537.5 1175.2L538 1174.7L538.5 1175.3L539 1175.0L539.5 1175.3L540 1175.3L540.5 1175.0L541 1175.6L541.5 1175.1L542 1175.0L542.5 1175.8L543 1175.0L543.5 1175.8L544 1174.7L544.5 1174.9L545 1174.4L545.5 1174.8L546 1175.1L546.5 1175.5L547 1175.5L547.5 1174.9L548 1175.3L548.5 1174.3L549 1175.2L549.5 1175.8L550 1175.1L550.5 1176.5L551 1174.9L551.5 1176.4L552 1175.0L552.5 1174.9L553 1175.2L553.5 1175.5L554 1174.8L554.5 1175.3L555 1174.8L555.5 1174.9L556 1174.8L556.5 1175.1L557 1175.5L557.5 1175.6L558 1175.2L558.5 1175.0L559 1174.8L559.5 1175.2L560 1174.6L560.5 1175.3L561 1175.1L561.5 1175.2L562 1175.0L562.5 1174.9L563 1175.0L563.5 1174.0L564 1175.7L564.5 1174.3L565 1175.4L565.5 1174.8L566 1174.6L566.5 1175.1L567 1175.7L567.5 1174.0L568 1175.1L568.5 1175.4L569 1175.2L569.5 1175.0L570 1173.8L570.5 1176.2L571 1175.4L571.5 1175.5L572 1175.1L572.5 1175.0L573 1174.5L573.5 1175.8L574 1175.3L574.5 1175.4L575 1175.3L575.5 1175.1L576 1175.1L576.5 1175.5L577 1174.9L577.5 1175.1L578 1175.2L578.5 1176.0L579 1175.2L579.5 1175.7L580 1175.2L580.5 1175.2L581 1175.4L581.5 1175.8L582 1175.0L582.5 1175.7L583 1175.6L583.5 1174.8L584 1175.6L584.5 1175.5L585 1175.6L585.5 1174.9L586 1175.4L586.5 1174.9L587 1175.5L587.5 1175.3L588 1175.4L588.5 1175.9L589 1175.3L589.5 1174.9L590 1175.0L590.5 1175.2L591 1176.2L591.5 1175.7L592 1175.1L592.5 1175.3L593 1174.7L593.5 1174.8L594 1174.6L594.5 1175.0L595 1175.4L595.5 1175.9L596 1175.5L596.5 1175.1L597 1174.7L597.5 1174.6L598 1174.7L598.5 1175.0L599 1174.6L599.5 1175.6L600 1174.6L600.5 1176.0L601 1175.6L601.5 1175.8L602 1175.2L602.5 1175.4L603 1175.6L603.5 1175.9L604 1175.3L604.5 1175.3L605 1175.3L605.5 1177.5L606 1175.7L606.5 1175.5L607 1176.2L607.5 1175.1L608 1175.9L608.5 1175.8L609 1175.9L609.5 1176.5L610 1176.1L610.5 1175.3L611 1175.0L611.5 1174.9L612 1175.2L612.5 1175.5L613 1174.9L613.5 1175.8L614 1175.5L614.5 1175.4L615 1175.2L615.5 1175.4L616 1175.3L616.5 1175.5L617 1174.8L617.5 1175.5L618 1176.3L618.5 1175.2L619 1176.1L619.5 1175.0L620 1175.7L620.5 1175.9L621 1173.9L621.5 1175.0L622 1175.6L622.5 1175.2L623 1175.5L623.5 1175.0L624 1175.2L624.5 1176.2L625 1176.1L625.5 1175.8L626 1175.9L626.5 1174.9L627 1175.7L627.5 1174.8L628 1175.4L628.5 1175.1L629 1175.0L629.5 1175.7L630 1175.8L630.5 1175.0L631 1175.7L631.5 1175.3L632 1175.1L632.5 1175.3L633 1175.2L633.5 1175.3L634 1174.9L634.5 1175.2L635 1174.7L635.5 1174.9L636 1175.2L636.5 1174.8L637 1176.0L637.5 1175.3L638 1174.9L638.5 1174.7L639 1176.1L639.5 1174.5L640 1175.4L640.5 1175.1L641 1175.1L641.5 1174.7L642 1175.4L642.5 1175.9L643 1174.8L643.5 1176.0L644 1176.1L644.5 1175.6L645 1174.9L645.5 1174.7L646 1174.7L646.5 1175.2L647 1175.1L647.5 1175.4L648 1175.7L648.5 1175.3L649 1176.0L649.5 1176.0L650 1175.4L650.5 1175.7L651 1175.6L651.5 1175.5L652 1174.7L652.5 1175.9L653 1175.1L653.5 1174.5L654 1175.6L654.5 1175.3L655 1175.7L655.5 1175.0L656 1175.5L656.5 1175.0L657 1175.0L657.5 1175.1L658 1176.9L658.5 1175.4L659 1176.2L659.5 1175.1L660 1174.8L660.5 1175.3L661 1174.6L661.5 1175.7L662 1174.6L662.5 1175.2L663 1174.5L663.5 1175.4L664 1176.1L664.5 1175.5L665 1174.8L665.5 1174.9L666 1174.9L666.5 1174.8L667 1175.0L667.5 1174.7L668 1175.3L668.5 1174.1L669 1174.5L669.5 1174.9L670 1174.3L670.5 1174.6L671 1173.9L671.5 1173.2L672 1173.5L672.5 1172.9L673 1173.0L673.5 1172.3L674 1170.7L674.5 1170.7L675 1168.2L675.5 1167.4L676 1165.4L676.5 1163.3L677 1161.0L677.5 1157.8L678 1154.1L678.5 1150.1L679 1145.9L679.5 1140.8L680 1135.7L680.5 1131.2L681 1126.7L681.5 1121.9L682 1118.2L682.5 1115.2L683 1113.1L683.5 1112.4L684 1112.9L684.5 1114.4L685 1116.6L685.5 1120.4L686 1124.5L686.5 1129.3L687 1133.1L687.5 1138.3L688 1144.1L688.5 1148.5L689 1151.9L689.5 1155.5L690 1159.9L690.5 1163.0L691 1164.3L691.5 1166.8L692 1168.6L692.5 1170.4L693 1171.5L693.5 1172.0L694 1171.5L694.5 1172.7L695 1174.1L695.5 1173.2L696 1174.0L696.5 1173.8L697 1174.3L697.5 1174.1L698 1174.1L698.5 1174.5L699 1174.9L699.5 1174.0L700 1174.7L700.5 1174.3L701 1175.1L701.5 1174.9L702 1174.5L702.5 1174.5L703 1174.0L703.5 1174.5L704 1174.4L704.5 1174.2L705 1174.9L705.5 1175.3L706 1175.3L706.5 1174.5L707 1174.9L707.5 1174.6L708 1175.2L708.5 1175.4L709 1175.1L709.5 1175.4L710 1174.3L710.5 1176.7L711 1175.4L711.5 1174.5L712 1174.2L712.5 1175.2L713 1175.1L713.5 1175.0L714 1175.1L714.5 1175.0L715 1175.8L715.5 1175.3L716 1174.9L716.5 1175.0L717 1174.7L717.5 1175.4L718 1174.7L718.5 1175.1L719 1175.4L719.5 1175.0L720 1175.1L720.5 1175.6L721 1175.0L721.5 1175.1L722 1175.0L722.5 1175.6L723 1175.6L723.5 1174.9L724 1175.3L724.5 1175.4L725 1174.9L725.5 1175.6L726 1175.4L726.5 1174.8L727 1175.4L727.5 1174.9L728 1175.0L728.5 1176.0L729 1174.8L729.5 1175.3L730 1174.4L730.5 1174.3L731 1174.4L731.5 1174.8L732 1174.3L732.5 1174.4L733 1174.8L733.5 1174.6L734 1173.8L734.5 1174.0L735 1175.1L735.5 1173.4L736 1173.8L736.5 1174.7L737 1175.0L737.5 1174.3L738 1174.3L738.5 1174.2L739 1173.4L739.5 1173.1L740 1172.8L740.5 1172.1L741 1172.1L741.5 1171.3L742 1170.0L742.5 1169.5L743 1167.6L743.5 1166.0L744 1163.5L744.5 1160.2L745 1156.4L745.5 1153.1L746 1148.9L746.5 1143.6L747 1138.3L747.5 1132.3L748 1127.2L748.5 1121.7L749 1117.0L749.5 1113.1L750 1110.3L750.5 1108.6L751 1108.5L751.5 1109.7L752 1112.3L752.5 1116.0L753 1120.7L753.5 1125.9L754 1130.6L754.5 1136.6L755 1141.4L755.5 1145.9L756 1151.4L756.5 1156.2L757 1159.6L757.5 1161.7L758 1165.1L758.5 1165.8L759 1168.2L759.5 1169.9L760 1170.5L760.5 1171.2L761 1171.3L761.5 1173.1L762 1172.8L762.5 1172.5L763 1172.7L763.5 1172.8L764 1172.3L764.5 1172.5L765 1172.8L765.5 1172.6L766 1172.5L766.5 1172.6L767 1172.1L767.5 1171.9L768 1171.9L768.5 1171.9L769 1171.8L769.5 1172.1L770 1172.0L770.5 1171.3L771 1171.7L771.5 1171.9L772 1171.2L772.5 1170.9L773 1170.9L773.5 1170.8L774 1170.0L774.5 1169.9L775 1170.1L775.5 1169.0L776 1169.4L776.5 1169.6L777 1168.6L777.5 1167.8L778 1167.6L778.5 1167.4L779 1166.4L779.5 1166.2L780 1165.3L780.5 1163.9L781 1162.7L781.5 1161.4L782 1159.5L782.5 1158.5L783 1156.6L783.5 1152.5L784 1149.9L784.5 1145.7L785 1139.5L785.5 1132.9L786 1124.7L786.5 1115.1L787 1103.5L787.5 1088.2L788 1073.2L788.5 1055.2L789 1036.7L789.5 1016.2L790 995.9L790.5 976.2L791 958.9L791.5 945.4L792 937.1L792.5 935.4L793 939.8L793.5 950.2L794 965.6L794.5 984.1L795 1004.0L795.5 1024.2L796 1044.5L796.5 1063.1L797 1079.7L797.5 1094.5L798 1107.8L798.5 1119.1L799 1128.3L799.5 1135.8L800 1142.3L800.5 1147.4L801 1151.1L801.5 1154.6L802 1156.4L802.5 1159.2L803 1160.9L803.5 1162.7L804 1163.6L804.5 1165.0L805 1165.6L805.5 1166.3L806 1166.5L806.5 1167.4L807 1168.3L807.5 1168.2L808 1169.3L808.5 1169.1L809 1169.7L809.5 1171.1L810 1170.6L810.5 1171.1L811 1171.4L811.5 1170.6L812 1171.7L812.5 1172.2L813 1172.2L813.5 1171.4L814 1172.8L814.5 1172.9L815 1173.6L815.5 1173.5L816 1173.4L816.5 1173.3L817 1173.2L817.5 1173.6L818 1173.7L818.5 1173.9L819 1173.7L819.5 1173.9L820 1173.7L820.5 1174.0L821 1175.1L821.5 1174.2L822 1174.2L822.5 1174.2L823 1174.7L823.5 1174.8L824 1174.5L824.5 1174.5L825 1173.9L825.5 1175.0L826 1175.1L826.5 1174.5L827 1174.8L827.5 1175.0L828 1175.4L828.5 1174.5L829 1175.2L829.5 1175.3L830 1175.2L830.5 1175.3L831 1174.7L831.5 1175.4L832 1175.9L832.5 1175.5L833 1175.7L833.5 1175.6L834 1175.5L834.5 1176.0L835 1175.7L835.5 1176.0L836 1175.2L836.5 1175.3L837 1175.7L837.5 1176.4L838 1175.4L838.5 1176.1L839 1175.3L839.5 1175.6L840 1175.8L840.5 1176.2L841 1176.5L841.5 1176.1L842 1175.5L842.5 1175.6L843 1176.0L843.5 1176.3L844 1176.5L844.5 1175.5L845 1175.5L845.5 1175.8L846 1176.6L846.5 1176.1L847 1176.2L847.5 1175.9L848 1176.7L848.5 1176.5L849 1175.3L849.5 1176.3L850 1175.8L850.5 1175.8L851 1176.0L851.5 1176.0L852 1176.7L852.5 1176.1L853 1176.0L853.5 1175.5L854 1176.3L854.5 1176.2L855 1175.9L855.5 1177.2L856 1176.9L856.5 1176.4L857 1176.4L857.5 1176.4L858 1175.6L858.5 1176.3L859 1176.7L859.5 1176.1L860 1176.7L860.5 1175.7L861 1177.0L861.5 1176.6L862 1176.0L862.5 1175.8L863 1176.7L863.5 1176.4L864 1176.8L864.5 1176.2L865 1176.5L865.5 1175.8L866 1175.6L866.5 1176.8L867 1176.9L867.5 1176.7L868 1176.4L868.5 1176.3L869 1177.0L869.5 1176.7L870 1176.9L870.5 1176.6L871 1175.7L871.5 1177.0L872 1176.8L872.5 1176.7L873 1176.5L873.5 1176.2L874 1176.4L874.5 1176.6L875 1177.5L875.5 1177.4L876 1176.4L876.5 1176.2L877 1176.8L877.5 1177.1L878 1176.6L878.5 1176.5L879 1176.7L879.5 1176.7L880 1176.2L880.5 1177.1L881 1176.4L881.5 1177.3L882 1176.8L882.5 1177.6L883 1176.4L883.5 1176.2L884 1176.3L884.5 1176.4L885 1176.7L885.5 1176.8L886 1176.7L886.5 1177.6L887 1176.5L887.5 1176.8L888 1176.9L888.5 1176.0L889 1177.0L889.5 1177.1L890 1177.5L890.5 1177.3L891 1176.9L891.5 1176.6L892 1176.7L892.5 1176.5L893 1177.0L893.5 1176.6L894 1177.3L894.5 1177.2L895 1176.5L895.5 1176.9L896 1177.5L896.5 1176.6L897 1176.7L897.5 1178.0L898 1177.6L898.5 1177.4L899 1178.4L899.5 1176.8L900 1176.8L900.5 1176.9L901 1177.7L901.5 1176.7L902 1176.8L902.5 1176.6L903 1177.2L903.5 1177.1L904 1176.7L904.5 1177.2L905 1176.5L905.5 1176.4L906 1177.1L906.5 1177.0L907 1177.4L907.5 1177.4L908 1177.1L908.5 1176.4L909 1177.2L909.5 1176.6L910 1176.4L910.5 1176.3L911 1177.3L911.5 1177.1L912 1177.4L912.5 1177.1L913 1177.5L913.5 1176.6L914 1176.7L914.5 1177.1L915 1177.6L915.5 1177.3L916 1177.3L916.5 1177.0L917 1176.4L917.5 1176.9L918 1176.9L918.5 1177.6L919 1176.7L919.5 1177.3L920 1177.1L920.5 1176.9L921 1177.1L921.5 1177.2L922 1177.4L922.5 1176.6L923 1176.3L923.5 1178.5L924 1176.6L924.5 1177.4L925 1176.8L925.5 1177.0L926 1176.6L926.5 1177.2L927 1177.2L927.5 1176.8L928 1176.5L928.5 1178.3L929 1176.6L929.5 1176.4L930 1177.5L930.5 1177.1L931 1177.1L931.5 1177.7L932 1177.8L932.5 1177.3L933 1177.5L933.5 1177.2L934 1177.3L934.5 1177.4L935 1177.3L935.5 1177.8L936 1177.0L936.5 1177.0L937 1176.7L937.5 1176.4L938 1177.7L938.5 1177.2L939 1177.1L939.5 1176.9L940 1176.9L940.5 1176.7L941 1177.5L941.5 1177.4L942 1177.5L942.5 1177.2L943 1177.5L943.5 1176.8L944 1176.6L944.5 1177.5L945 1176.9L945.5 1177.7L946 1177.2L946.5 1176.8L947 1177.3L947.5 1177.1L948 1177.3L948.5 1177.0L949 1178.0L949.5 1177.4L950 1177.1L950.5 1177.5L951 1176.9L951.5 1177.2L952 1176.5L952.5 1176.8L953 1177.3L953.5 1176.5L954 1176.5L954.5 1177.9L955 1176.8L955.5 1176.7L956 1177.3L956.5 1177.4L957 1177.2L957.5 1177.1L958 1177.4L958.5 1177.6L959 1178.3L959.5 1177.5L960 1177.4L960.5 1176.8L961 1177.5L961.5 1177.7L962 1177.3L962.5 1177.5L963 1177.1L963.5 1178.3L964 1177.1L964.5 1178.2L965 1177.1L965.5 1177.5L966 1177.2L966.5 1177.4L967 1177.0L967.5 1178.1L968 1177.1L968.5 1177.3L969 1177.4L969.5 1177.1L970 1177.0L970.5 1177.7L971 1178.0L971.5 1177.0L972 1177.3L972.5 1177.7L973 1177.8L973.5 1177.5L974 1177.3L974.5 1177.0L975 1177.3L975.5 1177.1L976 1177.0L976.5 1177.1L977 1178.1L977.5 1177.8L978 1177.3L978.5 1177.7L979 1177.6L979.5 1178.0L980 1177.2L980.5 1177.5L981 1177.6L981.5 1177.1L982 1177.4L982.5 1176.4L983 1178.2L983.5 1177.1L984 1177.2L984.5 1177.2L985 1177.9L985.5 1177.3L986 1177.7L986.5 1177.8L987 1177.2L987.5 1177.7L988 1176.9L988.5 1177.2L989 1176.8L989.5 1177.4L990 1177.2L990.5 1176.4L991 1177.0L991.5 1177.3L992 1177.5L992.5 1177.6L993 1178.7L993.5 1177.4L994 1177.4L994.5 1177.8L995 1177.3L995.5 1177.5L996 1177.2L996.5 1177.6L997 1177.3L997.5 1177.3L998 1176.9L998.5 1177.7L999 1177.0L999.5 1176.8L1000 1177.7L1000.5 1176.9L1001 1177.1L1001.5 1177.5L1002 1177.5L1002.5 1177.4L1003 1177.2L1003.5 1177.4L1004 1177.3L1004.5 1177.8L1005 1177.3L1005.5 1177.4L1006 1177.6L1006.5 1177.1L1007 1177.3L1007.5 1177.1L1008 1178.1L1008.5 1177.7L1009 1177.5L1009.5 1177.3L1010 1177.5L1010.5 1177.2L1011 1177.0L1011.5 1176.4L1012 1177.9L1012.5 1177.1L1013 1177.0L1013.5 1178.0L1014 1177.8L1014.5 1178.1L1015 1176.9L1015.5 1177.5L1016 1177.2L1016.5 1177.5L1017 1177.4L1017.5 1177.4L1018 1177.5L1018.5 1176.9L1019 1177.8L1019.5 1177.5L1020 1177.4L1020.5 1176.7L1021 1176.9L1021.5 1177.9L1022 1176.9L1022.5 1176.9L1023 1177.5L1023.5 1177.6L1024 1177.5L1024.5 1178.3L1025 1178.2L1025.5 1177.3L1026 1176.9L1026.5 1177.3L1027 1176.6L1027.5 1177.4L1028 1178.0L1028.5 1177.2L1029 1177.1L1029.5 1177.4L1030 1177.3L1030.5 1177.3L1031 1177.7L1031.5 1177.2L1032 1177.8L1032.5 1176.8L1033 1176.9L1033.5 1177.2L1034 1177.6L1034.5 1177.1L1035 1177.0L1035.5 1176.7L1036 1177.3L1036.5 1177.3L1037 1177.7L1037.5 1177.3L1038 1177.3L1038.5 1177.6L1039 1177.6L1039.5 1177.6L1040 1177.2L1040.5 1176.4L1041 1176.8L1041.5 1176.5L1042 1176.7L1042.5 1176.5L1043 1176.6L1043.5 1177.2L1044 1176.6L1044.5 1176.2L1045 1176.9L1045.5 1176.7L1046 1176.1L1046.5 1176.2L1047 1177.0L1047.5 1176.6L1048 1176.8L1048.5 1176.6L1049 1176.5L1049.5 1177.3L1050 1176.9L1050.5 1175.8L1051 1175.7L1051.5 1175.8L1052 1175.8L1052.5 1176.2L1053 1175.4L1053.5 1175.7L1054 1175.4L1054.5 1175.2L1055 1175.0L1055.5 1174.6L1056 1174.6L1056.5 1174.3L1057 1174.6L1057.5 1174.0L1058 1173.7L1058.5 1172.5L1059 1172.1L1059.5 1170.3L1060 1170.0L1060.5 1168.8L1061 1167.2L1061.5 1165.4L1062 1164.9L1062.5 1162.1L1063 1161.3L1063.5 1158.1L1064 1156.4L1064.5 1153.5L1065 1151.6L1065.5 1149.6L1066 1148.1L1066.5 1146.6L1067 1145.8L1067.5 1145.6L1068 1146.0L1068.5 1147.1L1069 1148.5L1069.5 1150.5L1070 1152.3L1070.5 1154.9L1071 1156.8L1071.5 1159.2L1072 1160.7L1072.5 1163.1L1073 1165.9L1073.5 1167.4L1074 1168.4L1074.5 1168.6L1075 1169.9L1075.5 1171.5L1076 1171.7L1076.5 1172.6L1077 1173.4L1077.5 1173.5L1078 1174.6L1078.5 1175.2L1079 1175.3L1079.5 1175.7L1080 1175.2L1080.5 1175.3L1081 1175.9L1081.5 1175.0L1082 1175.9L1082.5 1176.2L1083 1175.8L1083.5 1176.5L1084 1176.2L1084.5 1176.2L1085 1176.6L1085.5 1175.9L1086 1176.0L1086.5 1176.0L1087 1176.9L1087.5 1178.4L1088 1177.0L1088.5 1176.9L1089 1176.9L1089.5 1176.6L1090 1177.3L1090.5 1177.6L1091 1176.4L1091.5 1177.0L1092 1176.8L1092.5 1177.1L1093 1176.2L1093.5 1176.8L1094 1177.4L1094.5 1177.8L1095 1177.3L1095.5 1176.9L1096 1177.1L1096.5 1177.2L1097 1176.6L1097.5 1177.8L1098 1177.6L1098.5 1177.4L1099 1178.0L1099.5 1177.8L1100 1177.7L1100.5 1177.2L1101 1177.7L1101.5 1177.0L1102 1177.7L1102.5 1176.5L1103 1177.8L1103.5 1177.5L1104 1177.1L1104.5 1177.0L1105 1177.3L1105.5 1177.2L1106 1177.9L1106.5 1177.5L1107 1177.4L1107.5 1177.1L1108 1177.5L1108.5 1177.7L1109 1177.9L1109.5 1177.8L1110 1177.6L1110.5 1177.8L1111 1177.3L1111.5 1177.4L1112 1177.6L1112.5 1177.4L1113 1177.6L1113.5 1177.8L1114 1177.8L1114.5 1178.1L1115 1177.7L1115.5 1177.9L1116 1177.5L1116.5 1177.6L1117 1177.1L1117.5 1178.7L1118 1177.5L1118.5 1177.0L1119 1177.5L1119.5 1176.6L1120 1177.4L1120.5 1176.9L1121 1177.2L1121.5 1177.7L1122 1177.2L1122.5 1177.8L1123 1177.1L1123.5 1177.7L1124 1178.2L1124.5 1177.1L1125 1177.4L1125.5 1178.2L1126 1177.9L1126.5 1177.9L1127 1177.4L1127.5 1177.8L1128 1178.1L1128.5 1177.4L1129 1177.6L1129.5 1177.2L1130 1177.9L1130.5 1177.4L1131 1178.0L1131.5 1177.4L1132 1177.3L1132.5 1177.7L1133 1177.7L1133.5 1177.2L1134 1177.9L1134.5 1178.2L1135 1177.2L1135.5 1178.0L1136 1177.7L1136.5 1177.6L1137 1177.9L1137.5 1177.5L1138 1178.2L1138.5 1177.8L1139 1177.8L1139.5 1177.6L1140 1177.2L1140.5 1177.0L1141 1177.3L1141.5 1177.5L1142 1177.4L1142.5 1177.7L1143 1178.2L1143.5 1177.0L1144 1176.9L1144.5 1177.8L1145 1177.4L1145.5 1177.8L1146 1177.6L1146.5 1177.0L1147 1177.6L1147.5 1177.5L1148 1177.6L1148.5 1178.1L1149 1178.2L1149.5 1178.1L1150 1177.7L1150.5 1177.7L1151 1177.0L1151.5 1178.0L1152 1177.4L1152.5 1178.2L1153 1177.8L1153.5 1178.0L1154 1177.7L1154.5 1177.2L1155 1177.2L1155.5 1178.3L1156 1177.7L1156.5 1178.6L1157 1177.3L1157.5 1177.7L1158 1177.5L1158.5 1177.4L1159 1176.9L1159.5 1177.8L1160 1177.6L1160.5 1177.6L1161 1177.3L1161.5 1178.3L1162 1177.3L1162.5 1177.5L1163 1177.4L1163.5 1177.5L1164 1177.4L1164.5 1178.0L1165 1177.4L1165.5 1177.4L1166 1178.1L1166.5 1178.2L1167 1177.2L1167.5 1177.7L1168 1178.3L1168.5 1177.8L1169 1177.8L1169.5 1178.0L1170 1177.4L1170.5 1177.6L1171 1177.5L1171.5 1177.6L1172 1178.1L1172.5 1177.2L1173 1177.5L1173.5 1177.7L1174 1177.3L1174.5 1178.2L1175 1178.0L1175.5 1177.8L1176 1178.0L1176.5 1178.1L1177 1178.1L1177.5 1177.3L1178 1177.5L1178.5 1177.3L1179 1177.8L1179.5 1177.4L1180 1178.2L1180.5 1177.5L1181 1178.5L1181.5 1177.2L1182 1177.4L1182.5 1177.7L1183 1177.7L1183.5 1178.3L1184 1177.6L1184.5 1177.6L1185 1177.8L1185.5 1177.6L1186 1178.5L1186.5 1177.7L1187 1177.7L1187.5 1177.3L1188 1177.7L1188.5 1177.7L1189 1178.0L1189.5 1177.8L1190 1177.8L1190.5 1178.0L1191 1177.6L1191.5 1178.3L1192 1178.6L1192.5 1177.7L1193 1177.4L1193.5 1177.2L1194 1178.0L1194.5 1177.7L1195 1177.4L1195.5 1177.9L1196 1177.6L1196.5 1177.9L1197 1177.4L1197.5 1178.4L1198 1178.0L1198.5 1178.0L1199 1177.8L1199.5 1177.6L1200 1177.7L1200.5 1177.9L1201 1177.6L1201.5 1177.8L1202 1179.2L1202.5 1178.2L1203 1177.7L1203.5 1177.8L1204 1177.7L1204.5 1177.7L1205 1177.9L1205.5 1178.0L1206 1177.9L1206.5 1177.4L1207 1177.7L1207.5 1177.7L1208 1178.2L1208.5 1177.9L1209 1178.4L1209.5 1177.4L1210 1177.7L1210.5 1177.9L1211 1177.2L1211.5 1178.3L1212 1177.9L1212.5 1177.8L1213 1177.4L1213.5 1177.8L1214 1177.5L1214.5 1177.5L1215 1178.3L1215.5 1177.7L1216 1177.7L1216.5 1177.2L1217 1177.5L1217.5 1178.2L1218 1177.7L1218.5 1177.9L1219 1177.1L1219.5 1178.0L1220 1177.4L1220.5 1177.4L1221 1177.5L1221.5 1177.8L1222 1177.4L1222.5 1178.0L1223 1177.8L1223.5 1177.4L1224 1177.2L1224.5 1178.0L1225 1177.8L1225.5 1178.0L1226 1177.7L1226.5 1177.9L1227 1177.7L1227.5 1177.5L1228 1177.9L1228.5 1178.1L1229 1177.4L1229.5 1177.5L1230 1177.9L1230.5 1178.2L1231 1177.6L1231.5 1177.7L1232 1177.9L1232.5 1177.8L1233 1177.5L1233.5 1177.9L1234 1177.9L1234.5 1177.7L1235 1178.1L1235.5 1177.4L1236 1177.2L1236.5 1178.3L1237 1177.8L1237.5 1178.2L1238 1178.1L1238.5 1177.4L1239 1177.2L1239.5 1177.6L1240 1177.6L1240.5 1177.8L1241 1177.7L1241.5 1177.9L1242 1178.0L1242.5 1177.2L1243 1178.3L1243.5 1178.2L1244 1177.6L1244.5 1177.7L1245 1178.0L1245.5 1177.5L1246 1177.5L1246.5 1176.8L1247 1177.6L1247.5 1177.6L1248 1178.2L1248.5 1177.6L1249 1177.8L1249.5 1177.7L1250 1176.9L1250.5 1177.4L1251 1177.8L1251.5 1177.5L1252 1177.5L1252.5 1177.2L1253 1177.1L1253.5 1178.1L1254 1177.7L1254.5 1177.6L1255 1177.2L1255.5 1177.6L1256 1177.6L1256.5 1177.0L1257 1177.4L1257.5 1177.2L1258 1177.4L1258.5 1177.6L1259 1177.4L1259.5 1177.1L1260 1177.1L1260.5 1177.5L1261 1176.7L1261.5 1177.1L1262 1177.4L1262.5 1177.0L1263 1176.9L1263.5 1177.5L1264 1176.7L1264.5 1176.8L1265 1176.7L1265.5 1177.6L1266 1177.1L1266.5 1177.4L1267 1176.6L1267.5 1176.1L1268 1176.8L1268.5 1176.7L1269 1176.0L1269.5 1176.3L1270 1176.0L1270.5 1176.4L1271 1176.2L1271.5 1176.2L1272 1175.7L1272.5 1176.0L1273 1175.7L1273.5 1176.0L1274 1175.2L1274.5 1174.8L1275 1173.9L1275.5 1173.6L1276 1174.4L1276.5 1172.9L1277 1172.9L1277.5 1172.3L1278 1171.2L1278.5 1170.8L1279 1170.3L1279.5 1168.8L1280 1167.8L1280.5 1166.7L1281 1166.5L1281.5 1164.8L1282 1162.9L1282.5 1162.1L1283 1160.5L1283.5 1158.9L1284 1158.4L1284.5 1156.4L1285 1155.3L1285.5 1154.7L1286 1154.0L1286.5 1153.7L1287 1153.8L1287.5 1153.9L1288 1154.6L1288.5 1155.6L1289 1156.7L1289.5 1157.9L1290 1159.3L1290.5 1160.6L1291 1162.4L1291.5 1163.4L1292 1165.3L1292.5 1165.9L1293 1167.1L1293.5 1168.4L1294 1169.4L1294.5 1169.8L1295 1171.5L1295.5 1172.1L1296 1172.3L1296.5 1173.2L1297 1172.9L1297.5 1173.8L1298 1174.0L1298.5 1174.6L1299 1175.0L1299.5 1175.9L1300 1175.5L1300.5 1175.3L1301 1175.9L1301.5 1176.0L1302 1176.0L1302.5 1176.6L1303 1176.0L1303.5 1176.1L1304 1176.3L1304.5 1176.6L1305 1176.3L1305.5 1176.8L1306 1177.5L1306.5 1176.3L1307 1177.0L1307.5 1176.9L1308 1177.7L1308.5 1177.1L1309 1177.0L1309.5 1177.3L1310 1177.0L1310.5 1176.8L1311 1177.8L1311.5 1177.9L1312 1178.1L1312.5 1177.3L1313 1177.6L1313.5 1176.9L1314 1177.2L1314.5 1176.8L1315 1177.3L1315.5 1177.2L1316 1177.6L1316.5 1178.0L1317 1177.2L1317.5 1177.6L1318 1177.3L1318.5 1177.2L1319 1177.5L1319.5 1177.4L1320 1177.2L1320.5 1177.8L1321 1177.7L1321.5 1177.5L1322 1177.5L1322.5 1176.8L1323 1177.7L1323.5 1177.3L1324 1177.5L1324.5 1177.9L1325 1177.5L1325.5 1177.7L1326 1177.7L1326.5 1178.0L1327 1177.1L1327.5 1178.8L1328 1177.3L1328.5 1177.9L1329 1178.2L1329.5 1178.0L1330 1177.4L1330.5 1177.7L1331 1177.7L1331.5 1177.8L1332 1177.5L1332.5 1177.4L1333 1178.2L1333.5 1177.4L1334 1178.7L1334.5 1178.1L1335 1177.7L1335.5 1178.4L1336 1177.8L1336.5 1177.9L1337 1177.6L1337.5 1178.2L1338 1178.2L1338.5 1177.7L1339 1177.6L1339.5 1177.7L1340 1177.3L1340.5 1178.1L1341 1177.9L1341.5 1176.9L1342 1179.5L1342.5 1178.2L1343 1178.0L1343.5 1178.1L1344 1177.6L1344.5 1177.8L1345 1178.0L1345.5 1177.8L1346 1178.3L1346.5 1177.9L1347 1177.6L1347.5 1178.3L1348 1177.4L1348.5 1177.9L1349 1177.8L1349.5 1177.9L1350 1178.2L1350.5 1177.8L1351 1177.8L1351.5 1178.1L1352 1177.4L1352.5 1177.7L1353 1178.2L1353.5 1178.5L1354 1177.8L1354.5 1178.0L1355 1178.2L1355.5 1177.7L1356 1178.1L1356.5 1177.7L1357 1178.4L1357.5 1177.7L1358 1177.7L1358.5 1178.4L1359 1178.2L1359.5 1178.3L1360 1179.4L1360.5 1177.8L1361 1177.6L1361.5 1178.2L1362 1178.4L1362.5 1178.3L1363 1178.1L1363.5 1178.1L1364 1178.0L1364.5 1177.5L1365 1178.1L1365.5 1177.5L1366 1178.5L1366.5 1177.4L1367 1178.1L1367.5 1178.1L1368 1177.8L1368.5 1178.2L1369 1178.4L1369.5 1178.0L1370 1177.9L1370.5 1177.9L1371 1178.0L1371.5 1177.7L1372 1178.4L1372.5 1178.1L1373 1178.0L1373.5 1178.1L1374 1178.2L1374.5 1178.3L1375 1177.9L1375.5 1177.4L1376 1178.1L1376.5 1177.6L1377 1178.6L1377.5 1178.1L1378 1178.4L1378.5 1178.2L1379 1178.0L1379.5 1177.6L1380 1177.5L1380.5 1177.7L1381 1178.2L1381.5 1178.1L1382 1178.7L1382.5 1177.6L1383 1177.4L1383.5 1178.2L1384 1177.7L1384.5 1178.1L1385 1178.2L1385.5 1178.3L1386 1178.3L1386.5 1178.0L1387 1178.0L1387.5 1177.8L1388 1178.4L1388.5 1178.1L1389 1178.2L1389.5 1178.0L1390 1178.5L1390.5 1178.3L1391 1179.3L1391.5 1177.5L1392 1178.1L1392.5 1178.2L1393 1177.7L1393.5 1178.0L1394 1177.6L1394.5 1178.3L1395 1177.4L1395.5 1178.5L1396 1178.0L1396.5 1178.4L1397 1177.6L1397.5 1178.2L1398 1177.7L1398.5 1178.0L1399 1177.6L1399.5 1177.9L1400 1178.3L1400.5 1177.9L1401 1177.8L1401.5 1178.1L1402 1177.9L1402.5 1177.8L1403 1178.1L1403.5 1177.8L1404 1178.0L1404.5 1177.7L1405 1178.0L1405.5 1177.7L1406 1178.4L1406.5 1177.6L1407 1178.6L1407.5 1177.9L1408 1177.6L1408.5 1178.6L1409 1178.1L1409.5 1177.7L1410 1178.0L1410.5 1178.9L1411 1178.4L1411.5 1177.7L1412 1178.0L1412.5 1177.7L1413 1177.3L1413.5 1178.3L1414 1178.0L1414.5 1177.8L1415 1178.1L1415.5 1178.0L1416 1177.9L1416.5 1177.5L1417 1177.6L1417.5 1177.4L1418 1177.7L1418.5 1177.7L1419 1177.7L1419.5 1177.6L1420 1177.3L1420.5 1177.4L1421 1177.3L1421.5 1177.6L1422 1177.8L1422.5 1178.1L1423 1177.3L1423.5 1177.2L1424 1177.6L1424.5 1177.1L1425 1177.6L1425.5 1177.1L1426 1177.6L1426.5 1177.4L1427 1177.5L1427.5 1177.2L1428 1177.4L1428.5 1177.0L1429 1176.9L1429.5 1177.1L1430 1176.8L1430.5 1176.6L1431 1176.9L1431.5 1175.7L1432 1176.0L1432.5 1176.2L1433 1175.6L1433.5 1175.3L1434 1176.1L1434.5 1175.0L1435 1175.2L1435.5 1174.7L1436 1174.6L1436.5 1174.2L1437 1173.5L1437.5 1173.0L1438 1172.8L1438.5 1171.5L1439 1171.2L1439.5 1169.7L1440 1168.8L1440.5 1167.7L1441 1166.2L1441.5 1164.9L1442 1163.6L1442.5 1162.3L1443 1160.3L1443.5 1158.4L1444 1157.6L1444.5 1155.6L1445 1154.0L1445.5 1152.5L1446 1151.5L1446.5 1150.7L1447 1150.4L1447.5 1150.3L1448 1150.9L1448.5 1151.8L1449 1152.8L1449.5 1154.1L1450 1155.6L1450.5 1157.9L1451 1159.7L1451.5 1160.5L1452 1162.1L1452.5 1163.9L1453 1165.2L1453.5 1166.6L1454 1167.9L1454.5 1169.9L1455 1169.9L1455.5 1170.9L1456 1171.9L1456.5 1172.3L1457 1172.7L1457.5 1173.3L1458 1174.1L1458.5 1174.5L1459 1174.2L1459.5 1175.4L1460 1175.4L1460.5 1176.1L1461 1176.2L1461.5 1175.6L1462 1176.5L1462.5 1175.6L1463 1176.7L1463.5 1176.5L1464 1176.9L1464.5 1176.5L1465 1176.7L1465.5 1176.5L1466 1177.1L1466.5 1177.3L1467 1177.7L1467.5 1177.4L1468 1177.2L1468.5 1177.8L1469 1177.0L1469.5 1178.0L1470 1178.1L1470.5 1177.1L1471 1177.5L1471.5 1177.1L1472 1177.4L1472.5 1177.9L1473 1176.6L1473.5 1177.6L1474 1177.8L1474.5 1177.2L1475 1177.4L1475.5 1178.1L1476 1178.2L1476.5 1177.7L1477 1178.2L1477.5 1177.7L1478 1178.0L1478.5 1178.4L1479 1178.0L1479.5 1177.8L1480 1178.1L1480.5 1178.0L1481 1177.7L1481.5 1177.8L1482 1177.5L1482.5 1178.3L1483 1177.8L1483.5 1177.8L1484 1178.2L1484.5 1178.0L1485 1178.0L1485.5 1178.1L1486 1178.0L1486.5 1178.4L1487 1177.9L1487.5 1177.8L1488 1177.4L1488.5 1178.0L1489 1178.0L1489.5 1178.2L1490 1177.5L1490.5 1179.1L1491 1178.5L1491.5 1177.9L1492 1176.9L1492.5 1177.3L1493 1178.7L1493.5 1178.3L1494 1178.0L1494.5 1178.0L1495 1178.4L1495.5 1177.7L1496 1179.2L1496.5 1177.5L1497 1178.2L1497.5 1178.0L1498 1178.2L1498.5 1177.7L1499 1178.3L1499.5 1178.2L1500 1177.9L1500.5 1177.9L1501 1178.7L1501.5 1178.1L1502 1178.3L1502.5 1177.9L1503 1178.2L1503.5 1178.3L1504 1177.8L1504.5 1178.1L1505 1178.5L1505.5 1178.7L1506 1178.1L1506.5 1177.4L1507 1178.3L1507.5 1177.4L1508 1178.3L1508.5 1177.9L1509 1178.3L1509.5 1177.9L1510 1178.0L1510.5 1177.7L1511 1178.3L1511.5 1178.3L1512 1177.8L1512.5 1178.1L1513 1178.3L1513.5 1177.6L1514 1177.6L1514.5 1177.9L1515 1177.3L1515.5 1177.0L1516 1177.9L1516.5 1178.0L1517 1177.7L1517.5 1177.5L1518 1177.5L1518.5 1176.4L1519 1177.4L1519.5 1177.3L1520 1177.3L1520.5 1177.1L1521 1176.8L1521.5 1176.3L1522 1177.6L1522.5 1176.3L1523 1177.3L1523.5 1175.6L1524 1176.6L1524.5 1176.1L1525 1176.3L1525.5 1176.2L1526 1176.1L1526.5 1175.8L1527 1176.2L1527.5 1176.0L1528 1175.7L1528.5 1175.6L1529 1175.9L1529.5 1176.0L1530 1175.5L1530.5 1176.2L1531 1175.7L1531.5 1175.7L1532 1176.2L1532.5 1175.8L1533 1176.1L1533.5 1175.8L1534 1175.6L1534.5 1176.8L1535 1176.3L1535.5 1175.9L1536 1176.0L1536.5 1176.4L1537 1176.2L1537.5 1176.8L1538 1177.0L1538.5 1176.6L1539 1176.1L1539.5 1176.7L1540 1176.7L1540.5 1176.7L1541 1176.9L1541.5 1176.8L1542 1176.8L1542.5 1177.4L1543 1176.9L1543.5 1176.4L1544 1176.7L1544.5 1176.5L1545 1177.2L1545.5 1176.5L1546 1176.9L1546.5 1177.2L1547 1176.3L1547.5 1176.4L1548 1176.7L1548.5 1176.8L1549 1176.6L1549.5 1176.8L1550 1176.9L1550.5 1176.8L1551 1176.4L1551.5 1176.2L1552 1176.1L1552.5 1176.1L1553 1175.4L1553.5 1175.5L1554 1175.3L1554.5 1175.1L1555 1175.6L1555.5 1174.7L1556 1174.9L1556.5 1174.2L1557 1174.2L1557.5 1174.1L1558 1173.6L1558.5 1172.9L1559 1172.8L1559.5 1171.5L1560 1171.6L1560.5 1170.8L1561 1169.7L1561.5 1169.4L1562 1168.3L1562.5 1167.5L1563 1166.5L1563.5 1165.3L1564 1164.6L1564.5 1164.7L1565 1162.3L1565.5 1161.3L1566 1159.9L1566.5 1158.7L1567 1156.9L1567.5 1155.8L1568 1154.8L1568.5 1153.8L1569 1152.7L1569.5 1151.9L1570 1151.2L1570.5 1150.8L1571 1150.8L1571.5 1150.9L1572 1151.3L1572.5 1151.7L1573 1152.6L1573.5 1153.1L1574 1154.6L1574.5 1156.0L1575 1156.7L1575.5 1157.5L1576 1159.0L1576.5 1161.0L1577 1161.7L1577.5 1162.6L1578 1163.5L1578.5 1164.9L1579 1165.9L1579.5 1167.0L1580 1167.2L1580.5 1168.6L1581 1168.8L1581.5 1169.7L1582 1170.3L1582.5 1170.0L1583 1171.1L1583.5 1170.9L1584 1171.3L1584.5 1171.2L1585 1172.0L1585.5 1171.7L1586 1171.7L1586.5 1171.8L1587 1171.4L1587.5 1171.3L1588 1171.7L1588.5 1170.8L1589 1169.9L1589.5 1170.5L1590 1169.7L1590.5 1169.1L1591 1168.8L1591.5 1168.0L1592 1168.4L1592.5 1167.4L1593 1166.2L1593.5 1166.4L1594 1165.6L1594.5 1165.0L1595 1164.3L1595.5 1163.8L1596 1162.4L1596.5 1162.1L1597 1161.8L1597.5 1161.5L1598 1161.1L1598.5 1160.9L1599 1161.1L1599.5 1161.1L1600 1161.4L1600.5 1161.7L1601 1162.2L1601.5 1162.7L1602 1163.3L1602.5 1163.0L1603 1164.8L1603.5 1165.8L1604 1165.9L1604.5 1167.1L1605 1167.8L1605.5 1168.5L1606 1169.4L1606.5 1169.8L1607 1170.5L1607.5 1171.5L1608 1172.0L1608.5 1172.2L1609 1172.2L1609.5 1173.4L1610 1173.6L1610.5 1173.6L1611 1174.0L1611.5 1174.3L1612 1174.4L1612.5 1175.0L1613 1175.1L1613.5 1175.6L1614 1176.1L1614.5 1176.3L1615 1176.2L1615.5 1176.3L1616 1176.7L1616.5 1176.6L1617 1176.9L1617.5 1177.3L1618 1177.1L1618.5 1177.6L1619 1176.7L1619.5 1177.6L1620 1177.3L1620.5 1177.4L1621 1177.3L1621.5 1178.1L1622 1178.2L1622.5 1177.5L1623 1177.6L1623.5 1178.3L1624 1177.5L1624.5 1177.4L1625 1177.5L1625.5 1177.7L1626 1177.9L1626.5 1178.1L1627 1177.8L1627.5 1177.7L1628 1178.2L1628.5 1178.2L1629 1177.8L1629.5 1178.3L1630 1178.3L1630.5 1177.9L1631 1178.2L1631.5 1178.2L1632 1178.5L1632.5 1178.2L1633 1178.0L1633.5 1178.3L1634 1178.0L1634.5 1178.0L1635 1178.4L1635.5 1178.2L1636 1179.1L1636.5 1178.5L1637 1178.9L1637.5 1178.2L1638 1178.5L1638.5 1178.6L1639 1179.0L1639.5 1177.9L1640 1178.4L1640.5 1178.7L1641 1178.9L1641.5 1178.6L1642 1178.3L1642.5 1180.0L1643 1178.4L1643.5 1178.2L1644 1178.2L1644.5 1178.8L1645 1178.4L1645.5 1178.7L1646 1179.0L1646.5 1178.7L1647 1178.5L1647.5 1178.3L1648 1178.7L1648.5 1178.6L1649 1179.1L1649.5 1178.8L1650 1178.8L1650.5 1178.3L1651 1178.5L1651.5 1178.7L1652 1178.7L1652.5 1178.8L1653 1178.9L1653.5 1179.1L1654 1179.1L1654.5 1178.3L1655 1178.9L1655.5 1179.5L1656 1179.1L1656.5 1179.0L1657 1179.0L1657.5 1179.1L1658 1181.0L1658.5 1178.7L1659 1178.7L1659.5 1178.2L1660 1179.2L1660.5 1178.9L1661 1179.2L1661.5 1179.2L1662 1178.5L1662.5 1179.5L1663 1179.1L1663.5 1178.6L1664 1178.7L1664.5 1178.8L1665 1178.8L1665.5 1179.2L1666 1178.5L1666.5 1179.0L1667 1177.8L1667.5 1178.8L1668 1179.0L1668.5 1178.9L1669 1178.6L1669.5 1178.5L1670 1178.8L1670.5 1179.2L1671 1178.4L1671.5 1179.0L1672 1178.6L1672.5 1179.3L1673 1178.3L1673.5 1178.6L1674 1179.0L1674.5 1178.5L1675 1179.0L1675.5 1179.0L1676 1178.6L1676.5 1179.0L1677 1179.0L1677.5 1178.7L1678 1179.1L1678.5 1178.5L1679 1178.9L1679.5 1178.5L1680 1178.6L1680.5 1178.4L1681 1178.6L1681.5 1178.6L1682 1178.4L1682.5 1178.0L1683 1177.9L1683.5 1177.5L1684 1177.6L1684.5 1177.3L1685 1178.0L1685.5 1178.1L1686 1177.4L1686.5 1177.0L1687 1177.0L1687.5 1176.8L1688 1176.9L1688.5 1176.5L1689 1176.3L1689.5 1176.0L1690 1175.9L1690.5 1177.3L1691 1175.5L1691.5 1175.9L1692 1175.5L1692.5 1175.0L1693 1175.5L1693.5 1175.2L1694 1175.4L1694.5 1175.4L1695 1175.6L1695.5 1175.4L1696 1175.1L1696.5 1175.5L1697 1175.8L1697.5 1175.9L1698 1175.9L1698.5 1175.8L1699 1175.6L1699.5 1176.2L1700 1176.3L1700.5 1176.6L1701 1178.8L1701.5 1177.5L1702 1177.3L1702.5 1177.6L1703 1176.7L1703.5 1177.9L1704 1177.5L1704.5 1178.1L1705 1178.3L1705.5 1177.9L1706 1178.3L1706.5 1178.4L1707 1178.4L1707.5 1178.8L1708 1178.8L1708.5 1178.4L1709 1178.6L1709.5 1179.4L1710 1178.9L1710.5 1178.8L1711 1179.1L1711.5 1179.3L1712 1179.0L1712.5 1178.9L1713 1178.7L1713.5 1179.3L1714 1179.2L1714.5 1179.4L1715 1179.0L1715.5 1179.1L1716 1180.5L1716.5 1179.3L1717 1179.8L1717.5 1179.8L1718 1179.5L1718.5 1178.5L1719 1179.6L1719.5 1179.2L1720 1179.3L1720.5 1179.2L1721 1179.2L1721.5 1179.2L1722 1179.9L1722.5 1179.4L1723 1179.3L1723.5 1179.9L1724 1179.3L1724.5 1179.3L1725 1179.1L1725.5 1179.4L1726 1179.6L1726.5 1179.3L1727 1179.0L1727.5 1179.1L1728 1178.9L1728.5 1179.1L1729 1179.3L1729.5 1179.2L1730 1179.5L1730.5 1181.0L1731 1179.3L1731.5 1179.3L1732 1179.4L1732.5 1180.8L1733 1179.7L1733.5 1179.5L1734 1180.0L1734.5 1179.6L1735 1179.2L1735.5 1179.2L1736 1179.2L1736.5 1179.6L1737 1180.0L1737.5 1179.3L1738 1179.5L1738.5 1179.8L1739 1179.3L1739.5 1179.5L1740 1179.4L1740.5 1179.9L1741 1180.3L1741.5 1179.4L1742 1179.3L1742.5 1179.9L1743 1179.9L1743.5 1179.8L1744 1179.2L1744.5 1179.4L1745 1179.5L1745.5 1179.3L1746 1179.3L1746.5 1179.3L1747 1179.3L1747.5 1179.7L1748 1179.6L1748.5 1179.4L1749 1180.1L1749.5 1179.5L1750 1179.5L1750.5 1179.4L1751 1179.6L1751.5 1179.3L1752 1179.2L1752.5 1179.4L1753 1179.8L1753.5 1179.7L1754 1179.5L1754.5 1179.8L1755 1179.4L1755.5 1179.9L1756 1180.5L1756.5 1180.0L1757 1179.0L1757.5 1179.9L1758 1179.6L1758.5 1180.0L1759 1179.3L1759.5 1179.1L1760 1179.9L1760.5 1179.9L1761 1179.4L1761.5 1179.3L1762 1179.6L1762.5 1179.0L1763 1179.1L1763.5 1179.3L1764 1179.2L1764.5 1179.7L1765 1179.3L1765.5 1179.2L1766 1179.1L1766.5 1179.6L1767 1179.4L1767.5 1179.6L1768 1179.8L1768.5 1180.0L1769 1179.4L1769.5 1179.7L1770 1179.6L1770.5 1180.3L1771 1179.8L1771.5 1179.4L1772 1179.0L1772.5 1179.6L1773 1179.9L1773.5 1179.4L1774 1179.4L1774.5 1179.8L1775 1179.8L1775.5 1179.5L1776 1179.4L1776.5 1179.5L1777 1179.6L1777.5 1179.2L1778 1179.6L1778.5 1179.8L1779 1179.6L1779.5 1179.4L1780 1179.2L1780.5 1179.7L1781 1179.6L1781.5 1178.6L1782 1178.8L1782.5 1179.1L1783 1179.1L1783.5 1178.8L1784 1178.8L1784.5 1178.1L1785 1179.4L1785.5 1179.4L1786 1178.4L1786.5 1179.0L1787 1179.0L1787.5 1178.4L1788 1178.6L1788.5 1178.6L1789 1178.1L1789.5 1177.7L1790 1178.2L1790.5 1178.3L1791 1177.7L1791.5 1177.8L1792 1177.5L1792.5 1177.2L1793 1177.7L1793.5 1177.7L1794 1177.7L1794.5 1177.4L1795 1177.2L1795.5 1177.1L1796 1177.2L1796.5 1177.0L1797 1177.0L1797.5 1177.0L1798 1177.3L1798.5 1176.7L1799 1177.2L1799.5 1176.8L1800 1177.1L1800.5 1176.8L1801 1176.8L1801.5 1177.1L1802 1177.3L1802.5 1177.1L1803 1177.1L1803.5 1177.7L1804 1177.5L1804.5 1177.2L1805 1177.5L1805.5 1177.3L1806 1177.6L1806.5 1177.8L1807 1177.4L1807.5 1177.8L1808 1178.3L1808.5 1178.2L1809 1178.1L1809.5 1178.1L1810 1178.9L1810.5 1178.8L1811 1178.8L1811.5 1178.9L1812 1179.0L1812.5 1178.4L1813 1179.2L1813.5 1179.1L1814 1179.7L1814.5 1179.1L1815 1179.3L1815.5 1178.9L1816 1179.5L1816.5 1179.1L1817 1179.4L1817.5 1179.2L1818 1179.1L1818.5 1179.5L1819 1179.3L1819.5 1179.6L1820 1179.4L1820.5 1179.6L1821 1179.4L1821.5 1179.8L1822 1180.0L1822.5 1179.8L1823 1179.8L1823.5 1179.8L1824 1179.5L1824.5 1179.2L1825 1179.4L1825.5 1179.7L1826 1179.5L1826.5 1180.0L1827 1181.1L1827.5 1180.4L1828 1179.6L1828.5 1180.2L1829 1179.8L1829.5 1179.2L1830 1179.9L1830.5 1180.2L1831 1179.4L1831.5 1179.6L1832 1179.5L1832.5 1179.9L1833 1179.6L1833.5 1179.9L1834 1179.7L1834.5 1180.2L1835 1179.7L1835.5 1180.2L1836 1179.8L1836.5 1179.9L1837 1179.8L1837.5 1179.7L1838 1180.2L1838.5 1179.8L1839 1179.1L1839.5 1179.6L1840 1180.1L1840.5 1179.8L1841 1180.0L1841.5 1179.6L1842 1180.1L1842.5 1179.9L1843 1180.3L1843.5 1179.9L1844 1180.3L1844.5 1180.2L1845 1180.1L1845.5 1179.3L1846 1179.8L1846.5 1180.4L1847 1179.9L1847.5 1180.0L1848 1179.5L1848.5 1179.7L1849 1180.2L1849.5 1179.5L1850 1179.8L1850.5 1179.7L1851 1180.0L1851.5 1179.8L1852 1179.9L1852.5 1180.1L1853 1180.0L1853.5 1179.8L1854 1179.8" stroke="#000000" stroke-width="5.3"/>
</g>
<rect x="663.9" y="206.8" width="37.8" height="37.6" fill="#00b050"/>
<rect x="732.2" y="201.2" width="37.7" height="35.2" fill="#00b050"/>
<rect x="773.1" y="33.1" width="37.5" height="37.4" fill="#00b050"/>
<rect x="1050.2" y="236.6" width="35.6" height="35.3" fill="#00b050"/>
<rect x="1265.8" y="252.7" width="36.3" height="37.0" fill="#00b050"/>
<rect x="1432.0" y="252.7" width="37.2" height="37.0" fill="#00b050"/>
<rect x="1543.4" y="252.7" width="37.4" height="37.0" fill="#00b050"/>
<rect x="1586.6" y="252.7" width="36.4" height="37.0" fill="#00b050"/>
<rect x="1636.2" y="61.2" width="43.2" height="41.6" fill="#00b050"/>
<path d="M143.5 1280.8 V1307.0M164.9 1280.8 V1295.7M186.3 1280.8 V1295.7M207.6 1280.8 V1295.7M229.0 1280.8 V1295.7M250.4 1280.8 V1295.7M271.8 1280.8 V1295.7M293.1 1280.8 V1295.7M314.5 1280.8 V1295.7M335.9 1280.8 V1295.7M356.4 1280.8 V1307.0M378.7 1280.8 V1295.7M400.0 1280.8 V1295.7M421.4 1280.8 V1295.7M442.8 1280.8 V1295.7M464.2 1280.8 V1295.7M485.5 1280.8 V1295.7M506.9 1280.8 V1295.7M528.3 1280.8 V1295.7M549.7 1280.8 V1295.7M571.0 1280.8 V1307.0M592.4 1280.8 V1295.7M613.8 1280.8 V1295.7M635.2 1280.8 V1295.7M656.6 1280.8 V1295.7M677.9 1280.8 V1295.7M699.3 1280.8 V1295.7M720.7 1280.8 V1295.7M742.1 1280.8 V1295.7M763.4 1280.8 V1295.7M784.3 1280.8 V1307.0M806.2 1280.8 V1295.7M827.6 1280.8 V1295.7M849.0 1280.8 V1295.7M870.3 1280.8 V1295.7M891.7 1280.8 V1295.7M913.1 1280.8 V1295.7M934.5 1280.8 V1295.7M955.8 1280.8 V1295.7M977.2 1280.8 V1295.7M998.6 1280.8 V1307.0M1020.0 1280.8 V1295.7M1041.4 1280.8 V1295.7M1062.7 1280.8 V1295.7M1084.1 1280.8 V1295.7M1105.5 1280.8 V1295.7M1126.9 1280.8 V1295.7M1148.2 1280.8 V1295.7M1169.6 1280.8 V1295.7M1191.0 1280.8 V1295.7M1212.4 1280.8 V1307.0M1233.8 1280.8 V1295.7M1255.1 1280.8 V1295.7M1276.5 1280.8 V1295.7M1297.9 1280.8 V1295.7M1319.3 1280.8 V1295.7M1340.6 1280.8 V1295.7M1362.0 1280.8 V1295.7M1383.4 1280.8 V1295.7M1404.8 1280.8 V1295.7M1426.2 1280.8 V1307.0M1447.5 1280.8 V1295.7M1468.9 1280.8 V1295.7M1490.3 1280.8 V1295.7M1511.7 1280.8 V1295.7M1533.0 1280.8 V1295.7M1554.4 1280.8 V1295.7M1575.8 1280.8 V1295.7M1597.2 1280.8 V1295.7M1618.5 1280.8 V1295.7M1639.9 1280.8 V1307.0M1661.3 1280.8 V1295.7M1682.7 1280.8 V1295.7M1704.1 1280.8 V1295.7M1725.4 1280.8 V1295.7M1746.8 1280.8 V1295.7M1768.2 1280.8 V1295.7M1789.6 1280.8 V1295.7M1810.9 1280.8 V1295.7M1832.3 1280.8 V1295.7M1853.7 1280.8 V1307.0" fill="none" stroke="#000" stroke-width="4.7"/>
<text x="143.0" y="1372.4" font-size="64.3" text-anchor="middle" fill="#000">10</text>
<text x="355.7" y="1372.4" font-size="64.3" text-anchor="middle" fill="#000">20</text>
<text x="571.0" y="1372.4" font-size="64.3" text-anchor="middle" fill="#000">30</text>
<text x="784.0" y="1372.4" font-size="64.3" text-anchor="middle" fill="#000">40</text>
<text x="998.3" y="1372.4" font-size="64.3" text-anchor="middle" fill="#000">50</text>
<text x="1212.4" y="1372.4" font-size="64.3" text-anchor="middle" fill="#000">60</text>
<text x="1426.2" y="1372.4" font-size="64.3" text-anchor="middle" fill="#000">70</text>
<text x="1639.9" y="1372.4" font-size="64.3" text-anchor="middle" fill="#000">80</text>
<text x="1853.7" y="1372.4" font-size="64.3" text-anchor="middle" fill="#000">90</text>
<text class="b" transform="translate(963.4 1473.3) scale(1.046 1)" font-size="67.6" text-anchor="middle" fill="#000">2θ (degree)</text>
<text class="b" transform="translate(70.2 722.3) rotate(-90) scale(0.996 1.029)" font-size="70.8" text-anchor="middle" fill="#000">Intensity <tspan dx="2.4">(a.u.</tspan><tspan dx="-2.0">)</tspan></text>
<text class="b" transform="translate(196.0 301.8) scale(1.031 1)" font-size="57.2" fill="#ff00ff">NAP</text>
<text class="b" transform="translate(196.0 576.2) scale(1.031 1)" font-size="57.2" fill="#0000ff">AP</text>
<text class="b" transform="translate(196.0 872.4) scale(1.031 1)" font-size="57.2" fill="#ff0000">NAPEP20</text>
<text class="b" transform="translate(196.0 1146.6) scale(1.031 1)" font-size="57.2" fill="#000000">APEP20</text>
<text class="b" transform="translate(1695.6 97.5) scale(1.031 1)" font-size="57.2" fill="#00b050">α-Ti</text>
</g>
</svg></body></html>
